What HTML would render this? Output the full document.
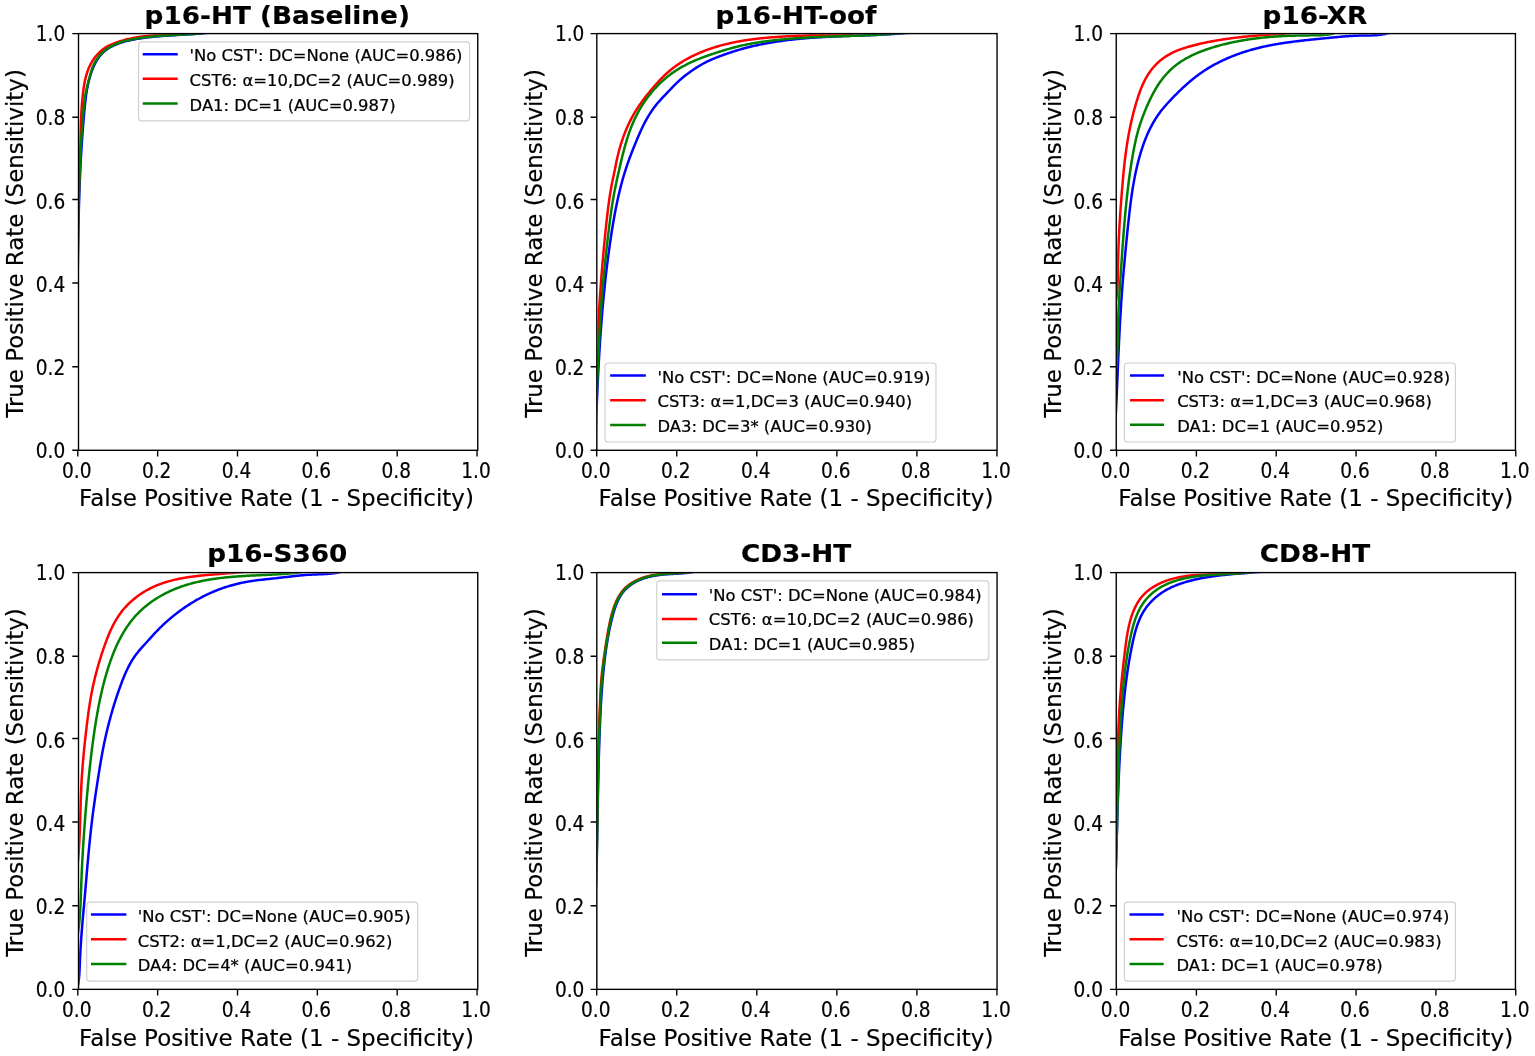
<!DOCTYPE html>
<html lang="en"><head><meta charset="utf-8"><title>ROC curves</title>
<style>
html,body{margin:0;padding:0;background:#fff;}
body{width:1535px;height:1056px;overflow:hidden;}
svg{display:block;}
text{font-family:"DejaVu Sans","Liberation Sans",sans-serif;fill:#000;stroke:#000;stroke-linejoin:round;}
.tk{font-size:18.55px;stroke-width:0.18;}
.lb{font-size:23px;stroke-width:0.18;}
.lby{font-size:22.92px;stroke-width:0.18;}
.tt{font-size:26.3px;font-weight:bold;stroke-width:0.2;}
.lg{font-size:16.4px;stroke-width:0.25;}
.sp{fill:none;stroke:#000;stroke-width:1.38;stroke-linecap:square;}
.tick{stroke:#000;stroke-width:1.38;fill:none;}
.cv{fill:none;stroke-width:2.5;stroke-linejoin:round;stroke-linecap:butt;}
.lh{fill:none;stroke-width:2.5;stroke-linecap:square;}
.lf{fill:#fff;fill-opacity:0.8;stroke:#ccc;stroke-opacity:0.95;stroke-width:1.15;}
</style></head>
<body>
<svg width="1535" height="1056" viewBox="0 0 1535 1056">
<rect x="0" y="0" width="1535" height="1056" fill="#ffffff"/>
<defs>
<clipPath id="c0"><rect x="79.14" y="34.24" width="398.61" height="416.06"/></clipPath>
<clipPath id="c1"><rect x="597.44" y="34.24" width="399.61" height="416.06"/></clipPath>
<clipPath id="c2"><rect x="1116.89" y="34.24" width="398.56" height="416.06"/></clipPath>
<clipPath id="c3"><rect x="79.14" y="573.24" width="398.61" height="416.11"/></clipPath>
<clipPath id="c4"><rect x="597.44" y="573.24" width="399.61" height="416.11"/></clipPath>
<clipPath id="c5"><rect x="1116.89" y="573.24" width="398.56" height="416.11"/></clipPath>
</defs>
<g id="panel1">
<g clip-path="url(#c0)">
<path class="cv" stroke="#0000ff" d="M77.55 450.3 L77.55 290 L77.56 288.99 L77.57 287.99 L77.58 286.98 L77.59 285.97 L77.61 284.97 L77.62 283.96 L77.63 282.96 L77.64 281.95 L77.65 280.95 L77.66 279.94 L77.67 278.94 L77.68 277.93 L77.7 276.93 L77.71 275.92 L77.72 274.92 L77.73 273.92 L77.74 272.91 L77.75 271.91 L77.77 270.91 L77.78 269.9 L77.79 268.9 L77.8 267.9 L77.81 266.9 L77.83 265.89 L77.84 264.89 L77.85 263.89 L77.86 262.89 L77.88 261.89 L77.89 260.88 L77.9 259.88 L77.91 258.88 L77.93 257.88 L77.94 256.88 L77.95 255.88 L77.97 254.88 L77.98 253.88 L78 252.88 L78.01 251.88 L78.03 250.88 L78.04 249.88 L78.05 248.88 L78.07 247.88 L78.08 246.88 L78.1 245.88 L78.12 244.88 L78.13 243.88 L78.15 242.89 L78.16 241.89 L78.18 240.89 L78.2 239.89 L78.21 238.89 L78.23 237.89 L78.25 236.89 L78.27 235.9 L78.28 234.9 L78.3 233.9 L78.32 232.9 L78.34 231.91 L78.36 230.91 L78.38 229.91 L78.4 228.91 L78.42 227.92 L78.44 226.92 L78.46 225.92 L78.48 224.92 L78.5 223.93 L78.52 222.93 L78.55 221.93 L78.57 220.94 L78.59 219.94 L78.61 218.94 L78.64 217.95 L78.66 216.95 L78.69 215.95 L78.71 214.96 L78.74 213.96 L78.76 212.96 L78.79 211.97 L78.81 210.97 L78.84 209.98 L78.87 208.98 L78.89 207.98 L78.92 206.99 L78.95 205.99 L78.98 205 L79.01 204 L79.04 203 L79.07 202.01 L79.1 201.01 L79.13 200.02 L79.16 199.02 L79.19 198.02 L79.22 197.03 L79.26 196.03 L79.29 195.04 L79.32 194.04 L79.36 193.04 L79.39 192.05 L79.43 191.05 L79.46 190.06 L79.5 189.06 L79.53 188.06 L79.57 187.07 L79.61 186.07 L79.65 185.08 L79.69 184.08 L79.73 183.08 L79.77 182.09 L79.81 181.09 L79.85 180.1 L79.89 179.1 L79.93 178.1 L79.97 177.11 L80.02 176.11 L80.06 175.11 L80.11 174.12 L80.15 173.12 L80.2 172.13 L80.24 171.13 L80.29 170.13 L80.34 169.14 L80.39 168.14 L80.44 167.14 L80.48 166.15 L80.53 165.15 L80.59 164.15 L80.64 163.15 L80.69 162.16 L80.74 161.16 L80.8 160.16 L80.85 159.16 L80.9 158.17 L80.96 157.17 L81.02 156.17 L81.07 155.17 L81.13 154.18 L81.19 153.18 L81.25 152.18 L81.31 151.18 L81.37 150.18 L81.43 149.19 L81.49 148.19 L81.55 147.19 L81.62 146.19 L81.68 145.19 L81.75 144.19 L81.81 143.19 L81.88 142.19 L81.95 141.19 L82.01 140.19 L82.08 139.19 L82.15 138.19 L82.22 137.19 L82.29 136.19 L82.36 135.19 L82.44 134.19 L82.51 133.19 L82.59 132.19 L82.66 131.19 L82.74 130.19 L82.81 129.19 L82.89 128.19 L82.97 127.19 L83.05 126.18 L83.13 125.18 L83.21 124.18 L83.29 123.18 L83.38 122.18 L83.46 121.17 L83.54 120.17 L83.63 119.17 L83.72 118.16 L83.8 117.16 L83.89 116.16 L83.98 115.15 L84.07 114.15 L84.16 113.15 L84.25 112.14 L84.35 111.14 L84.44 110.13 L84.53 109.13 L84.63 108.12 L84.73 107.12 L84.83 106.11 L84.93 105.11 L85.03 104.1 L85.14 103.1 L85.25 102.1 L85.36 101.09 L85.47 100.09 L85.59 99.09 L85.72 98.09 L85.84 97.09 L85.98 96.09 L86.11 95.1 L86.25 94.1 L86.4 93.11 L86.55 92.11 L86.71 91.12 L86.87 90.13 L87.04 89.15 L87.22 88.16 L87.4 87.18 L87.6 86.2 L87.79 85.22 L88 84.24 L88.21 83.27 L88.44 82.3 L88.67 81.33 L88.91 80.36 L89.16 79.4 L89.42 78.44 L89.68 77.48 L89.96 76.53 L90.25 75.58 L90.55 74.63 L90.86 73.69 L91.17 72.75 L91.51 71.81 L91.85 70.88 L92.2 69.95 L92.57 69.03 L92.95 68.11 L93.34 67.19 L93.74 66.28 L94.16 65.38 L94.59 64.48 L95.04 63.59 L95.5 62.71 L95.98 61.84 L96.47 60.98 L96.98 60.13 L97.5 59.29 L98.05 58.47 L98.61 57.66 L99.19 56.87 L99.79 56.09 L100.41 55.33 L101.04 54.59 L101.7 53.87 L102.38 53.16 L103.08 52.48 L103.8 51.82 L104.55 51.18 L105.31 50.56 L106.09 49.96 L106.89 49.39 L107.71 48.83 L108.54 48.29 L109.39 47.77 L110.26 47.27 L111.13 46.78 L112.02 46.32 L112.93 45.87 L113.84 45.43 L114.76 45.02 L115.69 44.62 L116.63 44.23 L117.58 43.86 L118.53 43.5 L119.49 43.16 L120.45 42.83 L121.42 42.52 L122.39 42.21 L123.36 41.92 L124.33 41.64 L125.31 41.37 L126.28 41.12 L127.26 40.87 L128.23 40.63 L129.21 40.41 L130.19 40.19 L131.17 39.98 L132.16 39.78 L133.14 39.59 L134.12 39.4 L135.11 39.22 L136.09 39.05 L137.08 38.89 L138.07 38.73 L139.06 38.57 L140.04 38.42 L141.03 38.28 L142.02 38.14 L143.01 38 L144 37.87 L144.99 37.74 L145.98 37.61 L146.97 37.49 L147.96 37.37 L148.95 37.25 L149.94 37.14 L150.94 37.03 L151.93 36.93 L152.92 36.83 L153.91 36.73 L154.91 36.63 L155.9 36.54 L156.89 36.44 L157.89 36.36 L158.88 36.27 L159.88 36.19 L160.87 36.1 L161.87 36.02 L162.86 35.95 L163.86 35.87 L164.85 35.8 L165.85 35.72 L166.84 35.65 L167.84 35.58 L168.84 35.52 L169.83 35.45 L170.83 35.38 L171.83 35.32 L172.82 35.26 L173.82 35.19 L174.82 35.13 L175.81 35.07 L176.81 35.01 L177.81 34.95 L178.81 34.89 L179.8 34.83 L180.8 34.77 L181.8 34.71 L182.8 34.66 L183.8 34.6 L184.79 34.54 L185.79 34.48 L186.79 34.42 L187.79 34.36 L188.79 34.29 L189.78 34.23 L190.78 34.17 L191.78 34.11 L192.78 34.04 L193.77 33.98 L194.77 33.91 L195.77 33.84 L196.77 33.77 L197.77 33.7 L198.76 33.62 L199.76 33.55 L200.76 33.47 L201.76 33.39 L202.75 33.31 L203.75 33.23 L204.75 33.14 L205.74 33.06 L206.74 32.97 L207.74 32.87 L208.73 32.78 L209.73 32.68 L477.75 32.65"/>
<path class="cv" stroke="#ff0000" d="M77.55 450.3 L77.55 250 L77.55 249 L77.56 247.99 L77.56 246.99 L77.57 245.99 L77.58 244.98 L77.58 243.98 L77.59 242.98 L77.6 241.97 L77.61 240.97 L77.62 239.97 L77.63 238.97 L77.65 237.97 L77.66 236.96 L77.67 235.96 L77.69 234.96 L77.7 233.96 L77.72 232.96 L77.73 231.95 L77.75 230.95 L77.77 229.95 L77.79 228.95 L77.81 227.95 L77.83 226.95 L77.85 225.95 L77.87 224.95 L77.89 223.95 L77.91 222.95 L77.93 221.95 L77.96 220.95 L77.98 219.95 L78.01 218.95 L78.03 217.95 L78.06 216.95 L78.08 215.95 L78.11 214.95 L78.13 213.95 L78.16 212.95 L78.19 211.95 L78.22 210.95 L78.24 209.95 L78.27 208.95 L78.3 207.95 L78.33 206.95 L78.36 205.96 L78.39 204.96 L78.42 203.96 L78.45 202.96 L78.48 201.96 L78.52 200.96 L78.55 199.96 L78.58 198.97 L78.61 197.97 L78.64 196.97 L78.68 195.97 L78.71 194.97 L78.74 193.98 L78.77 192.98 L78.81 191.98 L78.84 190.98 L78.88 189.98 L78.91 188.99 L78.94 187.99 L78.98 186.99 L79.01 185.99 L79.04 184.99 L79.08 184 L79.11 183 L79.15 182 L79.18 181 L79.22 180.01 L79.25 179.01 L79.29 178.01 L79.32 177.01 L79.35 176.02 L79.39 175.02 L79.42 174.02 L79.46 173.02 L79.49 172.03 L79.52 171.03 L79.56 170.03 L79.59 169.03 L79.63 168.04 L79.66 167.04 L79.69 166.04 L79.73 165.04 L79.76 164.05 L79.79 163.05 L79.82 162.05 L79.86 161.05 L79.89 160.05 L79.92 159.06 L79.95 158.06 L79.98 157.06 L80.02 156.06 L80.05 155.07 L80.08 154.07 L80.11 153.07 L80.14 152.07 L80.17 151.08 L80.2 150.08 L80.22 149.08 L80.25 148.08 L80.28 147.08 L80.31 146.09 L80.34 145.09 L80.36 144.09 L80.39 143.09 L80.41 142.09 L80.44 141.09 L80.47 140.1 L80.49 139.1 L80.51 138.1 L80.54 137.1 L80.56 136.1 L80.59 135.1 L80.61 134.1 L80.64 133.11 L80.67 132.11 L80.69 131.11 L80.72 130.11 L80.75 129.11 L80.78 128.11 L80.81 127.11 L80.84 126.11 L80.87 125.11 L80.9 124.11 L80.94 123.11 L80.97 122.11 L81.01 121.11 L81.05 120.11 L81.09 119.11 L81.13 118.11 L81.17 117.11 L81.22 116.11 L81.27 115.11 L81.32 114.11 L81.37 113.11 L81.42 112.11 L81.48 111.11 L81.54 110.11 L81.6 109.11 L81.67 108.11 L81.73 107.1 L81.8 106.1 L81.88 105.1 L81.95 104.1 L82.03 103.1 L82.12 102.1 L82.2 101.09 L82.29 100.09 L82.39 99.09 L82.48 98.09 L82.58 97.08 L82.69 96.08 L82.8 95.08 L82.91 94.07 L83.03 93.07 L83.15 92.07 L83.27 91.06 L83.4 90.06 L83.54 89.06 L83.68 88.06 L83.83 87.06 L83.99 86.06 L84.15 85.07 L84.32 84.07 L84.5 83.08 L84.69 82.09 L84.89 81.11 L85.1 80.13 L85.32 79.15 L85.54 78.18 L85.78 77.21 L86.04 76.24 L86.3 75.28 L86.58 74.33 L86.87 73.38 L87.17 72.44 L87.49 71.5 L87.82 70.57 L88.16 69.65 L88.53 68.73 L88.9 67.82 L89.3 66.92 L89.71 66.03 L90.14 65.14 L90.58 64.27 L91.04 63.4 L91.52 62.54 L92.02 61.69 L92.54 60.85 L93.07 60.03 L93.63 59.21 L94.2 58.4 L94.79 57.6 L95.4 56.82 L96.03 56.05 L96.68 55.28 L97.35 54.53 L98.03 53.8 L98.73 53.08 L99.45 52.37 L100.18 51.68 L100.93 51.01 L101.7 50.35 L102.48 49.72 L103.27 49.11 L104.08 48.52 L104.9 47.95 L105.73 47.42 L106.58 46.9 L107.43 46.42 L108.3 45.95 L109.17 45.51 L110.06 45.09 L110.95 44.69 L111.85 44.3 L112.76 43.92 L113.68 43.55 L114.6 43.19 L115.53 42.84 L116.47 42.5 L117.41 42.17 L118.35 41.84 L119.31 41.53 L120.26 41.22 L121.23 40.93 L122.19 40.64 L123.16 40.36 L124.14 40.08 L125.11 39.82 L126.09 39.57 L127.08 39.32 L128.06 39.08 L129.05 38.85 L130.04 38.63 L131.03 38.41 L132.02 38.21 L133.02 38.01 L134.01 37.82 L135 37.63 L136 37.46 L136.99 37.29 L137.98 37.13 L138.98 36.97 L139.97 36.83 L140.96 36.69 L141.96 36.55 L142.95 36.42 L143.94 36.3 L144.93 36.18 L145.92 36.07 L146.91 35.96 L147.9 35.86 L148.9 35.76 L149.89 35.66 L150.88 35.57 L151.87 35.48 L152.86 35.4 L153.85 35.32 L154.84 35.24 L155.83 35.16 L156.82 35.09 L157.81 35.01 L158.8 34.94 L159.79 34.87 L160.79 34.8 L161.78 34.73 L162.77 34.66 L163.76 34.59 L164.75 34.53 L165.74 34.46 L166.74 34.39 L167.73 34.32 L168.72 34.25 L169.72 34.17 L170.71 34.1 L171.7 34.02 L172.7 33.94 L173.69 33.86 L174.69 33.77 L175.68 33.68 L176.68 33.59 L177.67 33.5 L178.67 33.4 L179.67 33.29 L180.67 33.19 L181.67 33.07 L182.66 32.95 L183.66 32.83 L184.66 32.7 L477.75 32.65"/>
<path class="cv" stroke="#008000" d="M77.55 450.3 L77.55 270 L77.57 269 L77.59 267.99 L77.6 266.99 L77.62 265.99 L77.64 264.98 L77.66 263.98 L77.68 262.98 L77.69 261.97 L77.71 260.97 L77.73 259.97 L77.75 258.97 L77.76 257.96 L77.78 256.96 L77.8 255.96 L77.81 254.96 L77.83 253.96 L77.85 252.95 L77.86 251.95 L77.88 250.95 L77.89 249.95 L77.91 248.95 L77.93 247.95 L77.94 246.95 L77.96 245.94 L77.97 244.94 L77.99 243.94 L78.01 242.94 L78.02 241.94 L78.04 240.94 L78.06 239.94 L78.07 238.94 L78.09 237.94 L78.1 236.94 L78.12 235.94 L78.14 234.94 L78.15 233.94 L78.17 232.94 L78.19 231.94 L78.2 230.94 L78.22 229.95 L78.24 228.95 L78.25 227.95 L78.27 226.95 L78.29 225.95 L78.31 224.95 L78.33 223.95 L78.34 222.95 L78.36 221.95 L78.38 220.96 L78.4 219.96 L78.42 218.96 L78.44 217.96 L78.45 216.96 L78.47 215.96 L78.49 214.97 L78.51 213.97 L78.53 212.97 L78.55 211.97 L78.57 210.97 L78.6 209.98 L78.62 208.98 L78.64 207.98 L78.66 206.98 L78.68 205.99 L78.7 204.99 L78.73 203.99 L78.75 202.99 L78.77 201.99 L78.8 201 L78.82 200 L78.85 199 L78.87 198 L78.9 197.01 L78.92 196.01 L78.95 195.01 L78.97 194.02 L79 193.02 L79.03 192.02 L79.06 191.02 L79.09 190.03 L79.11 189.03 L79.14 188.03 L79.17 187.03 L79.2 186.04 L79.23 185.04 L79.26 184.04 L79.3 183.05 L79.33 182.05 L79.36 181.05 L79.39 180.05 L79.43 179.06 L79.46 178.06 L79.5 177.06 L79.53 176.06 L79.57 175.07 L79.6 174.07 L79.64 173.07 L79.68 172.08 L79.72 171.08 L79.76 170.08 L79.8 169.08 L79.84 168.09 L79.88 167.09 L79.92 166.09 L79.96 165.09 L80 164.1 L80.05 163.1 L80.09 162.1 L80.13 161.1 L80.18 160.11 L80.23 159.11 L80.27 158.11 L80.32 157.11 L80.37 156.11 L80.42 155.12 L80.47 154.12 L80.52 153.12 L80.57 152.12 L80.62 151.12 L80.67 150.13 L80.73 149.13 L80.78 148.13 L80.84 147.13 L80.89 146.13 L80.95 145.13 L81.01 144.14 L81.07 143.14 L81.13 142.14 L81.19 141.14 L81.25 140.14 L81.31 139.14 L81.37 138.14 L81.44 137.14 L81.5 136.15 L81.57 135.15 L81.63 134.15 L81.7 133.15 L81.77 132.15 L81.84 131.15 L81.91 130.15 L81.98 129.15 L82.05 128.15 L82.12 127.15 L82.2 126.15 L82.27 125.15 L82.35 124.15 L82.43 123.15 L82.5 122.15 L82.58 121.15 L82.66 120.15 L82.74 119.14 L82.83 118.14 L82.91 117.14 L82.99 116.14 L83.08 115.14 L83.16 114.14 L83.25 113.14 L83.34 112.14 L83.43 111.13 L83.52 110.13 L83.61 109.13 L83.71 108.13 L83.8 107.13 L83.9 106.12 L84 105.12 L84.11 104.12 L84.22 103.12 L84.33 102.12 L84.46 101.12 L84.58 100.12 L84.72 99.12 L84.86 98.13 L85 97.13 L85.16 96.13 L85.33 95.14 L85.5 94.15 L85.68 93.16 L85.88 92.17 L86.08 91.18 L86.3 90.19 L86.52 89.21 L86.75 88.22 L86.99 87.24 L87.23 86.26 L87.47 85.29 L87.73 84.31 L87.98 83.34 L88.24 82.37 L88.5 81.4 L88.77 80.44 L89.03 79.48 L89.29 78.52 L89.56 77.56 L89.82 76.61 L90.08 75.66 L90.33 74.71 L90.59 73.77 L90.84 72.83 L91.1 71.89 L91.37 70.95 L91.65 70.02 L91.95 69.1 L92.27 68.18 L92.61 67.26 L92.98 66.34 L93.38 65.44 L93.8 64.53 L94.24 63.64 L94.71 62.75 L95.2 61.88 L95.72 61.01 L96.25 60.16 L96.81 59.31 L97.38 58.48 L97.98 57.67 L98.59 56.87 L99.23 56.08 L99.88 55.31 L100.55 54.56 L101.24 53.83 L101.94 53.12 L102.65 52.42 L103.39 51.75 L104.13 51.1 L104.89 50.47 L105.67 49.87 L106.46 49.28 L107.26 48.71 L108.07 48.17 L108.9 47.64 L109.73 47.13 L110.58 46.63 L111.44 46.16 L112.31 45.7 L113.19 45.26 L114.08 44.84 L114.98 44.43 L115.88 44.04 L116.8 43.66 L117.73 43.3 L118.66 42.95 L119.6 42.62 L120.54 42.3 L121.5 41.99 L122.46 41.69 L123.42 41.41 L124.39 41.14 L125.37 40.88 L126.35 40.63 L127.33 40.39 L128.32 40.16 L129.32 39.94 L130.31 39.72 L131.31 39.52 L132.31 39.33 L133.31 39.14 L134.32 38.96 L135.32 38.79 L136.33 38.62 L137.33 38.46 L138.34 38.3 L139.35 38.15 L140.35 38.01 L141.36 37.86 L142.36 37.73 L143.36 37.59 L144.36 37.46 L145.36 37.34 L146.36 37.21 L147.36 37.09 L148.36 36.98 L149.35 36.87 L150.35 36.76 L151.34 36.65 L152.33 36.55 L153.33 36.45 L154.32 36.36 L155.31 36.27 L156.3 36.18 L157.29 36.09 L158.28 36.01 L159.27 35.92 L160.26 35.84 L161.25 35.77 L162.24 35.69 L163.23 35.62 L164.21 35.55 L165.2 35.49 L166.19 35.42 L167.17 35.36 L168.16 35.3 L169.15 35.24 L170.14 35.18 L171.12 35.13 L172.11 35.07 L173.1 35.02 L174.08 34.97 L175.07 34.92 L176.06 34.87 L177.04 34.82 L178.03 34.78 L179.02 34.73 L180.01 34.69 L181 34.65 L181.99 34.61 L182.98 34.56 L183.97 34.52 L184.96 34.48 L185.95 34.44 L186.94 34.4 L187.94 34.35 L188.93 34.3 L189.93 34.25 L190.92 34.19 L191.92 34.13 L192.91 34.07 L193.91 33.99 L194.91 33.92 L195.91 33.83 L196.91 33.74 L197.92 33.64 L198.92 33.53 L199.92 33.41 L200.93 33.28 L201.94 33.15 L202.95 33 L203.95 32.83 L204.97 32.66 L477.75 32.65"/>
</g>
<path class="tick" d="M77.8 450.3 v6.2 M78.5 450.3 h-6.2 M157.65 450.3 v6.2 M78.5 366.76 h-6.2 M237.5 450.3 v6.2 M78.5 282.97 h-6.2 M317.35 450.3 v6.2 M78.5 199.48 h-6.2 M397.2 450.3 v6.2 M78.5 117.19 h-6.2 M477.05 450.3 v6.2 M78.5 33.6 h-6.2"/>
<rect class="sp" x="78.5" y="33.6" width="399.25" height="416.7"/>
<text class="tk" text-anchor="middle" transform="matrix(1 0 0 1.13 76.8 477.7)">0.0</text>
<text class="tk" text-anchor="end" transform="matrix(1 0 0 1.13 65.3 458)">0.0</text>
<text class="tk" text-anchor="middle" transform="matrix(1 0 0 1.13 156.65 477.7)">0.2</text>
<text class="tk" text-anchor="end" transform="matrix(1 0 0 1.13 65.3 375)">0.2</text>
<text class="tk" text-anchor="middle" transform="matrix(1 0 0 1.13 236.5 477.7)">0.4</text>
<text class="tk" text-anchor="end" transform="matrix(1 0 0 1.13 65.3 292)">0.4</text>
<text class="tk" text-anchor="middle" transform="matrix(1 0 0 1.13 316.35 477.7)">0.6</text>
<text class="tk" text-anchor="end" transform="matrix(1 0 0 1.13 65.3 209)">0.6</text>
<text class="tk" text-anchor="middle" transform="matrix(1 0 0 1.13 396.2 477.7)">0.8</text>
<text class="tk" text-anchor="end" transform="matrix(1 0 0 1.13 65.3 125)">0.8</text>
<text class="tk" text-anchor="middle" transform="matrix(1 0 0 1.13 476.05 477.7)">1.0</text>
<text class="tk" text-anchor="end" transform="matrix(1 0 0 1.13 65.3 41.4)">1.0</text>
<text class="tt" text-anchor="middle" transform="matrix(1 0 0 0.936 277.23 24.1)">p16-HT (Baseline)</text>
<text class="lb" text-anchor="middle" transform="matrix(1 0 0 0.97 276.52 506.35)">False Positive Rate (1 - Specificity)</text>
<text class="lby" text-anchor="middle" transform="matrix(0 -1 0.98 0 22.5 243.45)">True Positive Rate (Sensitivity)</text>
<g id="legend1">
<rect class="lf" x="138.55" y="41.9" width="331" height="79" rx="3.3" ry="3.3"/>
<path class="lh" stroke="#0000ff" d="M143.95 54.2 H176.45"/>
<text class="lg" transform="matrix(1 0 0 0.96 189.55 61.35)">'No CST': DC=None (AUC=0.986)</text>
<path class="lh" stroke="#ff0000" d="M143.95 78.85 H176.45"/>
<text class="lg" transform="matrix(1 0 0 0.96 189.55 86)">CST6: α=10,DC=2 (AUC=0.989)</text>
<path class="lh" stroke="#008000" d="M143.95 103.5 H176.45"/>
<text class="lg" transform="matrix(1 0 0 0.96 189.55 110.65)">DA1: DC=1 (AUC=0.987)</text>
</g>
</g>
<g id="panel2">
<g clip-path="url(#c1)">
<path class="cv" stroke="#0000ff" d="M595.85 450.3 L595.85 430 L595.89 429 L595.92 428 L595.96 427 L595.99 426 L596.03 425 L596.06 424 L596.1 423 L596.14 422 L596.17 421 L596.21 420 L596.24 419 L596.28 418 L596.32 417 L596.36 416 L596.39 415 L596.43 414 L596.47 413 L596.51 412 L596.54 411 L596.58 410 L596.62 409 L596.66 408 L596.7 407 L596.74 406 L596.78 405 L596.82 404 L596.86 403 L596.9 402 L596.94 401 L596.98 400 L597.02 399 L597.06 398 L597.11 397 L597.15 396 L597.19 395 L597.23 394 L597.28 393 L597.32 392 L597.36 391 L597.41 390.01 L597.45 389.01 L597.5 388.01 L597.54 387.01 L597.59 386.01 L597.64 385.01 L597.68 384.01 L597.73 383.01 L597.78 382.01 L597.82 381.01 L597.87 380.01 L597.92 379.02 L597.97 378.02 L598.02 377.02 L598.07 376.02 L598.11 375.02 L598.16 374.02 L598.22 373.02 L598.27 372.02 L598.32 371.03 L598.37 370.03 L598.42 369.03 L598.47 368.03 L598.53 367.03 L598.58 366.03 L598.63 365.03 L598.69 364.04 L598.74 363.04 L598.8 362.04 L598.86 361.04 L598.91 360.04 L598.97 359.05 L599.03 358.05 L599.08 357.05 L599.14 356.05 L599.2 355.05 L599.26 354.06 L599.32 353.06 L599.38 352.06 L599.44 351.06 L599.5 350.07 L599.56 349.07 L599.62 348.07 L599.69 347.07 L599.75 346.08 L599.81 345.08 L599.88 344.08 L599.94 343.08 L600.01 342.09 L600.07 341.09 L600.14 340.09 L600.21 339.1 L600.28 338.1 L600.34 337.1 L600.41 336.1 L600.48 335.11 L600.55 334.11 L600.62 333.11 L600.69 332.12 L600.77 331.12 L600.84 330.12 L600.91 329.13 L600.98 328.13 L601.06 327.13 L601.13 326.14 L601.21 325.14 L601.28 324.15 L601.36 323.15 L601.44 322.15 L601.52 321.16 L601.6 320.16 L601.67 319.17 L601.75 318.17 L601.83 317.17 L601.92 316.18 L602 315.18 L602.08 314.19 L602.16 313.19 L602.25 312.2 L602.33 311.2 L602.42 310.2 L602.5 309.21 L602.59 308.21 L602.68 307.22 L602.77 306.22 L602.86 305.23 L602.94 304.23 L603.04 303.24 L603.13 302.24 L603.22 301.25 L603.31 300.25 L603.4 299.26 L603.5 298.26 L603.59 297.27 L603.69 296.28 L603.78 295.28 L603.88 294.29 L603.98 293.29 L604.08 292.3 L604.18 291.3 L604.28 290.31 L604.38 289.32 L604.48 288.32 L604.58 287.33 L604.69 286.33 L604.79 285.34 L604.9 284.35 L605 283.35 L605.11 282.36 L605.22 281.37 L605.32 280.37 L605.43 279.38 L605.54 278.39 L605.65 277.39 L605.77 276.4 L605.88 275.41 L605.99 274.41 L606.11 273.42 L606.22 272.43 L606.34 271.44 L606.45 270.44 L606.57 269.45 L606.69 268.46 L606.81 267.47 L606.93 266.47 L607.05 265.48 L607.17 264.49 L607.3 263.5 L607.42 262.5 L607.55 261.51 L607.67 260.52 L607.8 259.53 L607.93 258.54 L608.05 257.55 L608.18 256.55 L608.31 255.56 L608.45 254.57 L608.58 253.58 L608.71 252.59 L608.85 251.6 L608.98 250.61 L609.12 249.61 L609.26 248.62 L609.39 247.63 L609.53 246.64 L609.67 245.65 L609.81 244.66 L609.96 243.67 L610.1 242.68 L610.24 241.69 L610.39 240.7 L610.54 239.71 L610.68 238.72 L610.83 237.73 L610.98 236.74 L611.13 235.75 L611.28 234.76 L611.43 233.77 L611.59 232.78 L611.74 231.79 L611.9 230.8 L612.06 229.81 L612.21 228.82 L612.37 227.83 L612.53 226.85 L612.7 225.86 L612.86 224.87 L613.02 223.88 L613.19 222.89 L613.36 221.91 L613.53 220.92 L613.7 219.93 L613.87 218.94 L614.04 217.96 L614.22 216.97 L614.4 215.99 L614.58 215 L614.76 214.02 L614.94 213.03 L615.13 212.05 L615.31 211.06 L615.5 210.08 L615.69 209.1 L615.88 208.11 L616.08 207.13 L616.28 206.15 L616.48 205.17 L616.68 204.19 L616.88 203.21 L617.09 202.23 L617.29 201.25 L617.5 200.27 L617.72 199.29 L617.93 198.31 L618.15 197.34 L618.37 196.36 L618.59 195.39 L618.82 194.41 L619.05 193.44 L619.28 192.46 L619.51 191.49 L619.75 190.52 L619.99 189.55 L620.23 188.58 L620.47 187.61 L620.72 186.64 L620.97 185.67 L621.22 184.7 L621.48 183.73 L621.74 182.77 L622 181.8 L622.27 180.84 L622.54 179.88 L622.81 178.91 L623.09 177.95 L623.36 176.99 L623.65 176.03 L623.93 175.07 L624.22 174.11 L624.51 173.16 L624.81 172.2 L625.11 171.25 L625.41 170.29 L625.72 169.34 L626.03 168.39 L626.34 167.44 L626.66 166.49 L626.98 165.54 L627.3 164.59 L627.63 163.64 L627.96 162.7 L628.29 161.75 L628.63 160.81 L628.97 159.87 L629.31 158.93 L629.66 157.99 L630 157.05 L630.35 156.11 L630.71 155.18 L631.06 154.24 L631.42 153.31 L631.78 152.37 L632.14 151.44 L632.5 150.51 L632.87 149.59 L633.24 148.66 L633.61 147.73 L633.98 146.81 L634.35 145.89 L634.73 144.96 L635.11 144.04 L635.48 143.13 L635.86 142.21 L636.25 141.29 L636.63 140.38 L637.01 139.47 L637.4 138.55 L637.78 137.64 L638.17 136.74 L638.56 135.83 L638.95 134.92 L639.35 134.02 L639.75 133.12 L640.15 132.22 L640.55 131.32 L640.96 130.42 L641.37 129.53 L641.78 128.63 L642.2 127.74 L642.63 126.85 L643.06 125.96 L643.5 125.07 L643.94 124.19 L644.39 123.3 L644.85 122.42 L645.31 121.54 L645.78 120.66 L646.26 119.78 L646.75 118.91 L647.25 118.04 L647.75 117.17 L648.27 116.3 L648.79 115.43 L649.32 114.56 L649.87 113.7 L650.42 112.84 L650.98 111.99 L651.55 111.14 L652.13 110.29 L652.71 109.45 L653.31 108.62 L653.91 107.8 L654.52 106.98 L655.14 106.18 L655.76 105.38 L656.39 104.59 L657.02 103.82 L657.67 103.05 L658.31 102.3 L658.97 101.55 L659.63 100.81 L660.29 100.08 L660.95 99.35 L661.62 98.63 L662.3 97.91 L662.97 97.19 L663.65 96.48 L664.33 95.77 L665.01 95.05 L665.69 94.34 L666.38 93.62 L667.06 92.9 L667.74 92.18 L668.43 91.46 L669.11 90.74 L669.8 90.01 L670.49 89.29 L671.18 88.57 L671.87 87.85 L672.57 87.13 L673.27 86.41 L673.97 85.7 L674.68 84.99 L675.38 84.28 L676.1 83.58 L676.81 82.88 L677.54 82.19 L678.26 81.51 L678.99 80.83 L679.73 80.16 L680.47 79.5 L681.22 78.84 L681.97 78.2 L682.73 77.56 L683.5 76.93 L684.27 76.31 L685.05 75.69 L685.83 75.09 L686.62 74.48 L687.41 73.89 L688.21 73.3 L689.01 72.71 L689.82 72.13 L690.64 71.55 L691.46 70.98 L692.28 70.41 L693.11 69.84 L693.94 69.28 L694.78 68.72 L695.63 68.17 L696.47 67.62 L697.32 67.08 L698.18 66.55 L699.04 66.02 L699.9 65.5 L700.77 64.99 L701.64 64.49 L702.52 63.99 L703.4 63.51 L704.28 63.03 L705.17 62.57 L706.06 62.12 L706.95 61.67 L707.85 61.24 L708.75 60.82 L709.65 60.4 L710.56 59.99 L711.47 59.6 L712.38 59.21 L713.29 58.82 L714.21 58.44 L715.13 58.07 L716.05 57.7 L716.98 57.34 L717.9 56.98 L718.83 56.62 L719.76 56.27 L720.7 55.92 L721.63 55.57 L722.57 55.22 L723.51 54.88 L724.45 54.54 L725.39 54.2 L726.33 53.87 L727.28 53.54 L728.22 53.21 L729.17 52.88 L730.12 52.57 L731.07 52.25 L732.02 51.94 L732.97 51.63 L733.92 51.33 L734.88 51.03 L735.83 50.74 L736.79 50.45 L737.75 50.16 L738.7 49.88 L739.66 49.6 L740.62 49.33 L741.58 49.05 L742.55 48.79 L743.51 48.52 L744.47 48.26 L745.44 48.01 L746.4 47.76 L747.37 47.51 L748.34 47.26 L749.31 47.02 L750.28 46.78 L751.25 46.55 L752.22 46.32 L753.19 46.09 L754.16 45.87 L755.14 45.65 L756.11 45.43 L757.09 45.22 L758.06 45.01 L759.04 44.8 L760.02 44.6 L761 44.4 L761.97 44.2 L762.95 44.01 L763.93 43.82 L764.92 43.63 L765.9 43.44 L766.88 43.26 L767.86 43.09 L768.85 42.91 L769.83 42.74 L770.82 42.57 L771.8 42.4 L772.79 42.24 L773.77 42.08 L774.76 41.92 L775.75 41.76 L776.74 41.61 L777.73 41.46 L778.72 41.31 L779.71 41.17 L780.7 41.03 L781.69 40.89 L782.68 40.75 L783.67 40.62 L784.66 40.49 L785.65 40.36 L786.65 40.23 L787.64 40.11 L788.64 39.99 L789.63 39.87 L790.62 39.75 L791.62 39.64 L792.61 39.52 L793.61 39.41 L794.61 39.31 L795.6 39.2 L796.6 39.1 L797.6 39 L798.59 38.9 L799.59 38.8 L800.59 38.71 L801.58 38.61 L802.58 38.52 L803.58 38.43 L804.58 38.34 L805.58 38.26 L806.58 38.18 L807.58 38.09 L808.57 38.01 L809.57 37.94 L810.57 37.86 L811.57 37.79 L812.57 37.71 L813.57 37.64 L814.57 37.57 L815.57 37.5 L816.57 37.44 L817.57 37.37 L818.57 37.31 L819.57 37.25 L820.57 37.19 L821.57 37.13 L822.57 37.07 L823.57 37.01 L824.57 36.96 L825.57 36.91 L826.57 36.85 L827.57 36.8 L828.56 36.75 L829.56 36.7 L830.56 36.65 L831.56 36.61 L832.56 36.56 L833.56 36.52 L834.56 36.47 L835.56 36.43 L836.56 36.39 L837.56 36.35 L838.55 36.3 L839.55 36.26 L840.55 36.23 L841.55 36.19 L842.55 36.15 L843.55 36.11 L844.55 36.07 L845.54 36.04 L846.54 36 L847.54 35.96 L848.54 35.93 L849.54 35.89 L850.54 35.86 L851.53 35.82 L852.53 35.79 L853.53 35.75 L854.53 35.72 L855.53 35.68 L856.52 35.65 L857.52 35.62 L858.52 35.58 L859.52 35.55 L860.52 35.51 L861.51 35.48 L862.51 35.44 L863.51 35.4 L864.51 35.37 L865.5 35.33 L866.5 35.3 L867.5 35.26 L868.5 35.22 L869.49 35.18 L870.49 35.14 L871.49 35.1 L872.49 35.06 L873.49 35.02 L874.48 34.98 L875.48 34.94 L876.48 34.89 L877.48 34.85 L878.47 34.8 L879.47 34.76 L880.47 34.71 L881.47 34.66 L882.46 34.61 L883.46 34.56 L884.46 34.51 L885.46 34.46 L886.45 34.4 L887.45 34.35 L888.45 34.29 L889.45 34.23 L890.44 34.17 L891.44 34.11 L892.44 34.05 L893.44 33.99 L894.43 33.92 L895.43 33.85 L896.43 33.78 L897.43 33.71 L898.42 33.64 L899.42 33.57 L900.42 33.49 L901.42 33.41 L902.42 33.33 L903.41 33.25 L904.41 33.17 L905.41 33.08 L906.41 32.99 L907.4 32.9 L908.4 32.81 L909.4 32.71 L910.4 32.65 L997.05 32.65"/>
<path class="cv" stroke="#ff0000" d="M595.85 450.3 L595.85 385 L595.88 384 L595.91 383 L595.94 382 L595.97 381 L596 380 L596.03 379.01 L596.06 378.01 L596.09 377.01 L596.12 376.01 L596.15 375.01 L596.18 374.01 L596.22 373.01 L596.25 372.01 L596.28 371.01 L596.31 370.01 L596.35 369.02 L596.38 368.02 L596.42 367.02 L596.45 366.02 L596.49 365.02 L596.53 364.02 L596.56 363.02 L596.6 362.02 L596.64 361.02 L596.67 360.02 L596.71 359.02 L596.75 358.02 L596.79 357.03 L596.83 356.03 L596.87 355.03 L596.91 354.03 L596.95 353.03 L596.99 352.03 L597.03 351.03 L597.07 350.03 L597.12 349.03 L597.16 348.03 L597.2 347.03 L597.25 346.04 L597.29 345.04 L597.34 344.04 L597.38 343.04 L597.43 342.04 L597.47 341.04 L597.52 340.04 L597.57 339.04 L597.61 338.04 L597.66 337.04 L597.71 336.05 L597.76 335.05 L597.81 334.05 L597.86 333.05 L597.91 332.05 L597.96 331.05 L598.01 330.05 L598.06 329.05 L598.11 328.05 L598.16 327.06 L598.21 326.06 L598.27 325.06 L598.32 324.06 L598.37 323.06 L598.43 322.06 L598.48 321.06 L598.54 320.06 L598.6 319.07 L598.65 318.07 L598.71 317.07 L598.77 316.07 L598.82 315.07 L598.88 314.07 L598.94 313.07 L599 312.08 L599.06 311.08 L599.12 310.08 L599.18 309.08 L599.24 308.08 L599.3 307.08 L599.37 306.09 L599.43 305.09 L599.49 304.09 L599.55 303.09 L599.62 302.09 L599.68 301.1 L599.75 300.1 L599.81 299.1 L599.88 298.1 L599.95 297.1 L600.01 296.11 L600.08 295.11 L600.15 294.11 L600.22 293.11 L600.29 292.12 L600.36 291.12 L600.43 290.12 L600.5 289.12 L600.57 288.13 L600.64 287.13 L600.71 286.13 L600.78 285.13 L600.86 284.14 L600.93 283.14 L601 282.14 L601.08 281.15 L601.15 280.15 L601.23 279.15 L601.31 278.15 L601.38 277.16 L601.46 276.16 L601.54 275.16 L601.62 274.17 L601.69 273.17 L601.77 272.17 L601.85 271.18 L601.93 270.18 L602.01 269.18 L602.1 268.19 L602.18 267.19 L602.26 266.2 L602.34 265.2 L602.43 264.2 L602.51 263.21 L602.6 262.21 L602.68 261.22 L602.77 260.22 L602.85 259.22 L602.94 258.23 L603.03 257.23 L603.12 256.24 L603.2 255.24 L603.29 254.25 L603.38 253.25 L603.47 252.26 L603.56 251.26 L603.66 250.27 L603.75 249.27 L603.84 248.28 L603.93 247.28 L604.03 246.29 L604.12 245.29 L604.21 244.3 L604.31 243.3 L604.41 242.31 L604.5 241.31 L604.6 240.32 L604.7 239.33 L604.79 238.33 L604.89 237.34 L604.99 236.34 L605.09 235.35 L605.19 234.36 L605.29 233.36 L605.4 232.37 L605.5 231.37 L605.6 230.38 L605.7 229.39 L605.81 228.39 L605.91 227.4 L606.02 226.41 L606.12 225.42 L606.23 224.42 L606.34 223.43 L606.44 222.44 L606.55 221.44 L606.66 220.45 L606.77 219.46 L606.88 218.47 L606.99 217.48 L607.1 216.48 L607.22 215.49 L607.33 214.5 L607.45 213.51 L607.57 212.52 L607.68 211.53 L607.8 210.53 L607.93 209.54 L608.05 208.55 L608.18 207.56 L608.3 206.57 L608.43 205.58 L608.56 204.59 L608.69 203.6 L608.83 202.61 L608.97 201.62 L609.11 200.63 L609.25 199.65 L609.39 198.66 L609.54 197.67 L609.69 196.68 L609.84 195.69 L609.99 194.71 L610.15 193.72 L610.31 192.73 L610.47 191.74 L610.64 190.76 L610.81 189.77 L610.98 188.79 L611.16 187.8 L611.33 186.82 L611.52 185.83 L611.7 184.85 L611.89 183.86 L612.08 182.88 L612.28 181.9 L612.48 180.91 L612.68 179.93 L612.89 178.95 L613.1 177.97 L613.31 176.98 L613.52 176 L613.74 175.02 L613.95 174.04 L614.16 173.06 L614.36 172.08 L614.57 171.1 L614.77 170.13 L614.96 169.15 L615.15 168.17 L615.34 167.19 L615.53 166.22 L615.72 165.24 L615.91 164.26 L616.1 163.29 L616.3 162.31 L616.5 161.34 L616.71 160.37 L616.92 159.39 L617.14 158.42 L617.36 157.45 L617.59 156.48 L617.82 155.51 L618.06 154.54 L618.3 153.57 L618.54 152.61 L618.79 151.64 L619.05 150.68 L619.31 149.71 L619.58 148.75 L619.85 147.79 L620.12 146.83 L620.4 145.88 L620.69 144.92 L620.98 143.97 L621.28 143.02 L621.58 142.07 L621.89 141.12 L622.21 140.17 L622.53 139.23 L622.85 138.28 L623.18 137.34 L623.52 136.4 L623.86 135.47 L624.21 134.53 L624.57 133.6 L624.93 132.67 L625.3 131.74 L625.67 130.82 L626.05 129.9 L626.43 128.98 L626.83 128.06 L627.22 127.15 L627.63 126.23 L628.04 125.33 L628.46 124.42 L628.88 123.52 L629.31 122.62 L629.75 121.72 L630.19 120.83 L630.64 119.93 L631.1 119.05 L631.56 118.16 L632.04 117.28 L632.51 116.4 L633 115.53 L633.49 114.66 L633.99 113.79 L634.5 112.93 L635.01 112.07 L635.53 111.21 L636.06 110.36 L636.59 109.51 L637.14 108.67 L637.68 107.82 L638.24 106.99 L638.8 106.15 L639.36 105.32 L639.93 104.49 L640.51 103.67 L641.09 102.85 L641.68 102.03 L642.27 101.21 L642.87 100.4 L643.47 99.59 L644.08 98.79 L644.69 97.99 L645.3 97.19 L645.92 96.39 L646.54 95.6 L647.17 94.81 L647.8 94.03 L648.43 93.24 L649.07 92.46 L649.71 91.69 L650.35 90.91 L651 90.14 L651.64 89.37 L652.29 88.61 L652.94 87.84 L653.6 87.08 L654.25 86.33 L654.91 85.57 L655.57 84.82 L656.23 84.08 L656.9 83.33 L657.57 82.59 L658.24 81.86 L658.92 81.13 L659.59 80.4 L660.28 79.68 L660.96 78.96 L661.66 78.25 L662.35 77.54 L663.05 76.84 L663.76 76.15 L664.47 75.46 L665.19 74.77 L665.91 74.1 L666.63 73.43 L667.37 72.76 L668.11 72.11 L668.86 71.46 L669.61 70.82 L670.37 70.18 L671.14 69.56 L671.91 68.94 L672.69 68.33 L673.48 67.72 L674.27 67.13 L675.07 66.54 L675.88 65.96 L676.69 65.38 L677.51 64.81 L678.33 64.25 L679.16 63.7 L680 63.15 L680.84 62.62 L681.68 62.08 L682.53 61.56 L683.39 61.04 L684.25 60.53 L685.11 60.03 L685.98 59.53 L686.86 59.04 L687.73 58.56 L688.62 58.08 L689.5 57.61 L690.39 57.15 L691.29 56.69 L692.19 56.24 L693.09 55.8 L693.99 55.36 L694.9 54.93 L695.81 54.51 L696.73 54.09 L697.64 53.68 L698.56 53.28 L699.49 52.88 L700.41 52.49 L701.34 52.1 L702.27 51.73 L703.2 51.35 L704.13 50.99 L705.07 50.63 L706.01 50.27 L706.95 49.92 L707.89 49.58 L708.83 49.25 L709.77 48.92 L710.72 48.59 L711.66 48.27 L712.61 47.96 L713.56 47.65 L714.51 47.35 L715.47 47.06 L716.42 46.76 L717.38 46.48 L718.33 46.2 L719.29 45.92 L720.25 45.66 L721.21 45.39 L722.18 45.13 L723.14 44.88 L724.11 44.63 L725.07 44.38 L726.04 44.14 L727.01 43.91 L727.98 43.68 L728.95 43.46 L729.92 43.23 L730.89 43.02 L731.87 42.81 L732.84 42.6 L733.82 42.4 L734.8 42.2 L735.78 42.01 L736.76 41.82 L737.74 41.63 L738.72 41.45 L739.7 41.27 L740.69 41.1 L741.67 40.93 L742.65 40.76 L743.64 40.6 L744.63 40.44 L745.61 40.29 L746.6 40.14 L747.59 39.99 L748.58 39.84 L749.57 39.7 L750.56 39.57 L751.55 39.43 L752.55 39.3 L753.54 39.17 L754.53 39.05 L755.53 38.93 L756.52 38.81 L757.52 38.7 L758.51 38.58 L759.51 38.47 L760.51 38.37 L761.5 38.26 L762.5 38.16 L763.5 38.06 L764.5 37.97 L765.5 37.87 L766.49 37.78 L767.49 37.69 L768.49 37.61 L769.49 37.52 L770.49 37.44 L771.49 37.36 L772.49 37.28 L773.49 37.2 L774.49 37.13 L775.5 37.06 L776.5 36.99 L777.5 36.92 L778.5 36.85 L779.5 36.79 L780.5 36.72 L781.5 36.66 L782.5 36.6 L783.5 36.54 L784.5 36.48 L785.51 36.42 L786.51 36.37 L787.51 36.31 L788.51 36.26 L789.51 36.21 L790.51 36.16 L791.51 36.11 L792.51 36.06 L793.51 36.01 L794.51 35.96 L795.51 35.92 L796.51 35.87 L797.51 35.83 L798.51 35.79 L799.51 35.75 L800.5 35.7 L801.5 35.66 L802.5 35.63 L803.5 35.59 L804.5 35.55 L805.5 35.51 L806.5 35.48 L807.49 35.44 L808.49 35.41 L809.49 35.37 L810.49 35.34 L811.49 35.31 L812.48 35.28 L813.48 35.25 L814.48 35.22 L815.48 35.19 L816.47 35.16 L817.47 35.13 L818.47 35.1 L819.46 35.08 L820.46 35.05 L821.46 35.02 L822.45 35 L823.45 34.97 L824.44 34.95 L825.44 34.92 L826.44 34.9 L827.43 34.88 L828.43 34.85 L829.42 34.83 L830.42 34.8 L831.41 34.77 L832.41 34.74 L833.4 34.71 L834.4 34.68 L835.39 34.64 L836.39 34.61 L837.38 34.57 L838.38 34.52 L839.37 34.48 L840.36 34.43 L841.36 34.37 L842.35 34.32 L843.35 34.25 L844.34 34.19 L845.33 34.12 L846.33 34.04 L847.32 33.96 L848.31 33.87 L849.31 33.78 L850.3 33.68 L851.29 33.57 L852.28 33.46 L853.28 33.34 L854.27 33.21 L855.26 33.08 L856.25 32.94 L857.25 32.79 L858.24 32.65 L997.05 32.65"/>
<path class="cv" stroke="#008000" d="M595.85 450.3 L595.85 415 L595.9 414 L595.95 413.01 L595.99 412.01 L596.04 411.01 L596.08 410.01 L596.13 409.02 L596.17 408.02 L596.22 407.02 L596.26 406.03 L596.3 405.03 L596.35 404.03 L596.39 403.03 L596.43 402.04 L596.48 401.04 L596.52 400.04 L596.56 399.04 L596.6 398.04 L596.65 397.05 L596.69 396.05 L596.73 395.05 L596.77 394.05 L596.81 393.05 L596.85 392.06 L596.9 391.06 L596.94 390.06 L596.98 389.06 L597.02 388.06 L597.06 387.06 L597.1 386.06 L597.14 385.07 L597.18 384.07 L597.22 383.07 L597.27 382.07 L597.31 381.07 L597.35 380.07 L597.39 379.07 L597.43 378.07 L597.47 377.08 L597.51 376.08 L597.55 375.08 L597.59 374.08 L597.64 373.08 L597.68 372.08 L597.72 371.08 L597.76 370.08 L597.8 369.08 L597.84 368.08 L597.89 367.08 L597.93 366.08 L597.97 365.08 L598.01 364.08 L598.06 363.08 L598.1 362.09 L598.14 361.09 L598.19 360.09 L598.23 359.09 L598.28 358.09 L598.32 357.09 L598.36 356.09 L598.41 355.09 L598.46 354.09 L598.5 353.09 L598.55 352.09 L598.59 351.09 L598.64 350.09 L598.69 349.09 L598.73 348.09 L598.78 347.09 L598.83 346.09 L598.88 345.09 L598.93 344.09 L598.98 343.09 L599.03 342.09 L599.08 341.09 L599.13 340.09 L599.18 339.1 L599.23 338.1 L599.28 337.1 L599.34 336.1 L599.39 335.1 L599.44 334.1 L599.5 333.1 L599.55 332.1 L599.61 331.1 L599.66 330.1 L599.72 329.1 L599.78 328.1 L599.84 327.1 L599.89 326.1 L599.95 325.1 L600.01 324.1 L600.07 323.11 L600.14 322.11 L600.2 321.11 L600.26 320.11 L600.32 319.11 L600.39 318.11 L600.45 317.11 L600.52 316.11 L600.58 315.11 L600.65 314.12 L600.72 313.12 L600.78 312.12 L600.85 311.12 L600.92 310.12 L600.99 309.12 L601.07 308.12 L601.14 307.13 L601.21 306.13 L601.28 305.13 L601.36 304.13 L601.43 303.13 L601.51 302.13 L601.59 301.14 L601.66 300.14 L601.74 299.14 L601.82 298.14 L601.9 297.15 L601.98 296.15 L602.06 295.15 L602.15 294.15 L602.23 293.16 L602.31 292.16 L602.4 291.16 L602.48 290.16 L602.57 289.17 L602.65 288.17 L602.74 287.17 L602.83 286.18 L602.92 285.18 L603.01 284.18 L603.1 283.19 L603.19 282.19 L603.28 281.19 L603.37 280.2 L603.46 279.2 L603.56 278.2 L603.65 277.21 L603.74 276.21 L603.84 275.22 L603.94 274.22 L604.03 273.23 L604.13 272.23 L604.23 271.24 L604.32 270.24 L604.42 269.25 L604.52 268.25 L604.62 267.26 L604.72 266.26 L604.83 265.27 L604.93 264.27 L605.03 263.28 L605.13 262.28 L605.24 261.29 L605.34 260.29 L605.44 259.3 L605.55 258.31 L605.66 257.31 L605.76 256.32 L605.87 255.33 L605.98 254.33 L606.08 253.34 L606.19 252.35 L606.3 251.35 L606.41 250.36 L606.52 249.37 L606.63 248.38 L606.74 247.39 L606.85 246.39 L606.97 245.4 L607.08 244.41 L607.19 243.42 L607.31 242.43 L607.42 241.43 L607.53 240.44 L607.65 239.45 L607.76 238.46 L607.88 237.47 L608 236.48 L608.11 235.49 L608.23 234.5 L608.35 233.51 L608.46 232.52 L608.58 231.53 L608.7 230.54 L608.82 229.55 L608.94 228.56 L609.06 227.57 L609.19 226.58 L609.31 225.59 L609.43 224.61 L609.56 223.62 L609.68 222.63 L609.81 221.64 L609.94 220.65 L610.07 219.67 L610.2 218.68 L610.33 217.69 L610.46 216.7 L610.59 215.72 L610.73 214.73 L610.87 213.74 L611.01 212.76 L611.15 211.77 L611.29 210.78 L611.43 209.8 L611.58 208.81 L611.73 207.82 L611.87 206.84 L612.03 205.85 L612.18 204.87 L612.34 203.88 L612.49 202.9 L612.65 201.91 L612.82 200.93 L612.98 199.94 L613.15 198.96 L613.32 197.97 L613.49 196.99 L613.66 196.01 L613.84 195.02 L614.02 194.04 L614.2 193.05 L614.39 192.07 L614.57 191.09 L614.76 190.1 L614.96 189.12 L615.15 188.14 L615.35 187.16 L615.55 186.17 L615.75 185.19 L615.96 184.21 L616.17 183.23 L616.38 182.24 L616.59 181.26 L616.8 180.28 L617.01 179.3 L617.23 178.32 L617.44 177.34 L617.66 176.36 L617.88 175.38 L618.1 174.39 L618.32 173.41 L618.54 172.43 L618.77 171.45 L618.99 170.47 L619.21 169.49 L619.44 168.51 L619.66 167.53 L619.88 166.55 L620.11 165.58 L620.34 164.6 L620.56 163.62 L620.79 162.64 L621.02 161.66 L621.25 160.69 L621.49 159.71 L621.72 158.74 L621.96 157.76 L622.19 156.79 L622.43 155.81 L622.68 154.84 L622.92 153.87 L623.17 152.9 L623.42 151.93 L623.67 150.96 L623.92 149.99 L624.18 149.03 L624.44 148.06 L624.71 147.1 L624.97 146.14 L625.24 145.18 L625.52 144.22 L625.79 143.26 L626.08 142.3 L626.36 141.35 L626.65 140.39 L626.94 139.44 L627.24 138.49 L627.54 137.55 L627.85 136.6 L628.16 135.65 L628.48 134.71 L628.8 133.77 L629.12 132.83 L629.45 131.9 L629.79 130.96 L630.13 130.03 L630.48 129.1 L630.83 128.17 L631.19 127.25 L631.56 126.32 L631.93 125.4 L632.3 124.49 L632.69 123.57 L633.08 122.66 L633.47 121.75 L633.87 120.84 L634.28 119.93 L634.7 119.03 L635.12 118.13 L635.55 117.23 L635.99 116.34 L636.43 115.45 L636.89 114.56 L637.35 113.68 L637.82 112.8 L638.29 111.92 L638.77 111.04 L639.26 110.17 L639.76 109.3 L640.27 108.44 L640.78 107.58 L641.3 106.72 L641.83 105.87 L642.36 105.02 L642.9 104.17 L643.45 103.33 L644.01 102.5 L644.57 101.67 L645.14 100.84 L645.72 100.01 L646.3 99.2 L646.89 98.38 L647.49 97.57 L648.1 96.77 L648.71 95.97 L649.33 95.18 L649.95 94.39 L650.58 93.61 L651.22 92.83 L651.86 92.05 L652.51 91.29 L653.17 90.53 L653.83 89.77 L654.5 89.02 L655.18 88.28 L655.86 87.54 L656.55 86.81 L657.24 86.08 L657.94 85.37 L658.65 84.65 L659.36 83.95 L660.08 83.25 L660.8 82.56 L661.53 81.87 L662.27 81.19 L663.01 80.52 L663.76 79.85 L664.51 79.2 L665.27 78.55 L666.03 77.9 L666.8 77.27 L667.57 76.64 L668.36 76.02 L669.14 75.41 L669.93 74.8 L670.73 74.21 L671.53 73.62 L672.33 73.04 L673.15 72.47 L673.96 71.9 L674.78 71.35 L675.61 70.8 L676.44 70.26 L677.28 69.73 L678.12 69.2 L678.96 68.69 L679.81 68.18 L680.67 67.68 L681.53 67.19 L682.39 66.7 L683.26 66.22 L684.13 65.75 L685 65.29 L685.88 64.83 L686.77 64.38 L687.65 63.93 L688.54 63.49 L689.44 63.06 L690.33 62.64 L691.23 62.22 L692.14 61.8 L693.04 61.39 L693.95 60.99 L694.87 60.59 L695.78 60.2 L696.7 59.81 L697.62 59.43 L698.55 59.05 L699.48 58.68 L700.4 58.31 L701.34 57.95 L702.27 57.59 L703.21 57.24 L704.15 56.89 L705.09 56.54 L706.03 56.2 L706.97 55.86 L707.92 55.53 L708.87 55.2 L709.82 54.87 L710.77 54.54 L711.72 54.22 L712.68 53.9 L713.63 53.59 L714.59 53.27 L715.55 52.96 L716.5 52.66 L717.46 52.35 L718.42 52.05 L719.39 51.75 L720.35 51.45 L721.31 51.15 L722.27 50.85 L723.24 50.56 L724.2 50.27 L725.17 49.98 L726.13 49.7 L727.1 49.41 L728.07 49.13 L729.03 48.86 L730 48.58 L730.97 48.31 L731.94 48.04 L732.91 47.78 L733.88 47.52 L734.85 47.26 L735.82 47.01 L736.79 46.76 L737.77 46.52 L738.74 46.28 L739.71 46.04 L740.69 45.81 L741.66 45.58 L742.64 45.36 L743.61 45.14 L744.59 44.93 L745.57 44.72 L746.54 44.51 L747.52 44.31 L748.5 44.12 L749.48 43.93 L750.46 43.74 L751.44 43.56 L752.42 43.39 L753.4 43.21 L754.38 43.04 L755.36 42.88 L756.34 42.72 L757.32 42.56 L758.31 42.4 L759.29 42.25 L760.27 42.1 L761.26 41.96 L762.24 41.81 L763.23 41.68 L764.21 41.54 L765.2 41.41 L766.19 41.28 L767.17 41.15 L768.16 41.02 L769.15 40.9 L770.13 40.78 L771.12 40.66 L772.11 40.54 L773.1 40.43 L774.09 40.32 L775.08 40.2 L776.07 40.1 L777.06 39.99 L778.05 39.88 L779.04 39.78 L780.03 39.68 L781.02 39.58 L782.01 39.48 L783.01 39.39 L784 39.29 L784.99 39.2 L785.98 39.11 L786.98 39.02 L787.97 38.93 L788.97 38.85 L789.96 38.76 L790.95 38.68 L791.95 38.6 L792.94 38.52 L793.94 38.45 L794.93 38.37 L795.93 38.3 L796.93 38.22 L797.92 38.15 L798.92 38.08 L799.91 38.01 L800.91 37.95 L801.91 37.88 L802.91 37.82 L803.9 37.76 L804.9 37.69 L805.9 37.64 L806.9 37.58 L807.9 37.52 L808.89 37.46 L809.89 37.41 L810.89 37.36 L811.89 37.3 L812.89 37.25 L813.89 37.2 L814.89 37.15 L815.89 37.11 L816.89 37.06 L817.89 37.02 L818.89 36.97 L819.89 36.93 L820.89 36.89 L821.89 36.85 L822.89 36.81 L823.89 36.77 L824.89 36.73 L825.89 36.69 L826.89 36.65 L827.89 36.62 L828.89 36.58 L829.89 36.54 L830.89 36.51 L831.89 36.48 L832.89 36.44 L833.89 36.41 L834.89 36.38 L835.9 36.34 L836.9 36.31 L837.9 36.28 L838.9 36.25 L839.9 36.22 L840.9 36.19 L841.9 36.15 L842.9 36.12 L843.9 36.09 L844.91 36.06 L845.91 36.03 L846.91 36 L847.91 35.97 L848.91 35.94 L849.91 35.91 L850.91 35.87 L851.91 35.84 L852.91 35.81 L853.91 35.78 L854.92 35.74 L855.92 35.71 L856.92 35.67 L857.92 35.64 L858.92 35.61 L859.92 35.57 L860.92 35.53 L861.92 35.5 L862.92 35.46 L863.92 35.42 L864.92 35.38 L865.92 35.34 L866.92 35.3 L867.92 35.26 L868.92 35.21 L869.92 35.17 L870.91 35.12 L871.91 35.08 L872.91 35.03 L873.91 34.98 L874.91 34.93 L875.91 34.88 L876.9 34.83 L877.9 34.78 L878.9 34.72 L879.9 34.67 L880.89 34.61 L881.89 34.55 L882.89 34.49 L883.88 34.43 L884.88 34.36 L885.88 34.3 L886.87 34.23 L887.87 34.16 L888.86 34.09 L889.86 34.02 L890.85 33.95 L891.85 33.87 L892.84 33.79 L893.84 33.71 L894.83 33.63 L895.83 33.55 L896.82 33.46 L897.81 33.37 L898.8 33.28 L899.8 33.19 L900.79 33.09 L901.78 33 L902.77 32.9 L903.76 32.8 L904.75 32.69 L997.05 32.65"/>
</g>
<path class="tick" d="M596.7 450.3 v6.2 M596.8 450.3 h-6.2 M676.75 450.3 v6.2 M596.8 366.76 h-6.2 M756.8 450.3 v6.2 M596.8 282.97 h-6.2 M836.85 450.3 v6.2 M596.8 199.48 h-6.2 M916.9 450.3 v6.2 M596.8 117.19 h-6.2 M996.95 450.3 v6.2 M596.8 33.6 h-6.2"/>
<rect class="sp" x="596.8" y="33.6" width="400.25" height="416.7"/>
<text class="tk" text-anchor="middle" transform="matrix(1 0 0 1.13 595.7 477.7)">0.0</text>
<text class="tk" text-anchor="end" transform="matrix(1 0 0 1.13 584.4 458)">0.0</text>
<text class="tk" text-anchor="middle" transform="matrix(1 0 0 1.13 675.75 477.7)">0.2</text>
<text class="tk" text-anchor="end" transform="matrix(1 0 0 1.13 584.4 375)">0.2</text>
<text class="tk" text-anchor="middle" transform="matrix(1 0 0 1.13 755.8 477.7)">0.4</text>
<text class="tk" text-anchor="end" transform="matrix(1 0 0 1.13 584.4 292)">0.4</text>
<text class="tk" text-anchor="middle" transform="matrix(1 0 0 1.13 835.85 477.7)">0.6</text>
<text class="tk" text-anchor="end" transform="matrix(1 0 0 1.13 584.4 209)">0.6</text>
<text class="tk" text-anchor="middle" transform="matrix(1 0 0 1.13 915.9 477.7)">0.8</text>
<text class="tk" text-anchor="end" transform="matrix(1 0 0 1.13 584.4 125)">0.8</text>
<text class="tk" text-anchor="middle" transform="matrix(1 0 0 1.13 995.95 477.7)">1.0</text>
<text class="tk" text-anchor="end" transform="matrix(1 0 0 1.13 584.4 41.4)">1.0</text>
<text class="tt" text-anchor="middle" transform="matrix(1 0 0 0.936 796.02 24.1)">p16-HT-oof</text>
<text class="lb" text-anchor="middle" transform="matrix(1 0 0 0.97 796.02 506.35)">False Positive Rate (1 - Specificity)</text>
<text class="lby" text-anchor="middle" transform="matrix(0 -1 0.98 0 541.8 243.45)">True Positive Rate (Sensitivity)</text>
<g id="legend2">
<rect class="lf" x="605" y="363" width="331" height="79" rx="3.3" ry="3.3"/>
<path class="lh" stroke="#0000ff" d="M611.4 375.6 H644.6"/>
<text class="lg" transform="matrix(1 0 0 0.96 657.5 382.6)">'No CST': DC=None (AUC=0.919)</text>
<path class="lh" stroke="#ff0000" d="M611.4 400.25 H644.6"/>
<text class="lg" transform="matrix(1 0 0 0.96 657.5 407.25)">CST3: α=1,DC=3 (AUC=0.940)</text>
<path class="lh" stroke="#008000" d="M611.4 424.9 H644.6"/>
<text class="lg" transform="matrix(1 0 0 0.96 657.5 431.9)">DA3: DC=3* (AUC=0.930)</text>
</g>
</g>
<g id="panel3">
<g clip-path="url(#c2)">
<path class="cv" stroke="#0000ff" d="M1115.3 450.3 L1115.3 425 L1115.35 424 L1115.41 423 L1115.46 422 L1115.51 421 L1115.56 420.01 L1115.61 419.01 L1115.66 418.01 L1115.7 417.01 L1115.75 416.01 L1115.8 415.01 L1115.85 414.01 L1115.9 413.01 L1115.94 412.01 L1115.99 411.01 L1116.04 410.01 L1116.08 409.02 L1116.13 408.02 L1116.18 407.02 L1116.22 406.02 L1116.27 405.02 L1116.31 404.02 L1116.36 403.02 L1116.4 402.02 L1116.45 401.02 L1116.49 400.02 L1116.53 399.02 L1116.58 398.03 L1116.62 397.03 L1116.67 396.03 L1116.71 395.03 L1116.75 394.03 L1116.8 393.03 L1116.84 392.03 L1116.88 391.03 L1116.93 390.03 L1116.97 389.03 L1117.01 388.04 L1117.05 387.04 L1117.1 386.04 L1117.14 385.04 L1117.18 384.04 L1117.22 383.04 L1117.27 382.04 L1117.31 381.04 L1117.35 380.04 L1117.39 379.04 L1117.43 378.05 L1117.48 377.05 L1117.52 376.05 L1117.56 375.05 L1117.6 374.05 L1117.64 373.05 L1117.69 372.05 L1117.73 371.05 L1117.77 370.06 L1117.81 369.06 L1117.86 368.06 L1117.9 367.06 L1117.94 366.06 L1117.99 365.06 L1118.03 364.06 L1118.07 363.06 L1118.11 362.06 L1118.16 361.07 L1118.2 360.07 L1118.24 359.07 L1118.29 358.07 L1118.33 357.07 L1118.38 356.07 L1118.42 355.07 L1118.47 354.08 L1118.51 353.08 L1118.55 352.08 L1118.6 351.08 L1118.65 350.08 L1118.69 349.08 L1118.74 348.08 L1118.78 347.09 L1118.83 346.09 L1118.88 345.09 L1118.92 344.09 L1118.97 343.09 L1119.02 342.09 L1119.07 341.09 L1119.11 340.1 L1119.16 339.1 L1119.21 338.1 L1119.26 337.1 L1119.31 336.1 L1119.36 335.1 L1119.41 334.11 L1119.46 333.11 L1119.51 332.11 L1119.56 331.11 L1119.61 330.11 L1119.67 329.11 L1119.72 328.12 L1119.77 327.12 L1119.83 326.12 L1119.88 325.12 L1119.93 324.12 L1119.99 323.13 L1120.04 322.13 L1120.1 321.13 L1120.16 320.13 L1120.21 319.13 L1120.27 318.14 L1120.33 317.14 L1120.39 316.14 L1120.44 315.14 L1120.5 314.15 L1120.56 313.15 L1120.62 312.15 L1120.68 311.15 L1120.75 310.15 L1120.81 309.16 L1120.87 308.16 L1120.93 307.16 L1121 306.16 L1121.06 305.17 L1121.13 304.17 L1121.19 303.17 L1121.26 302.17 L1121.33 301.18 L1121.4 300.18 L1121.46 299.18 L1121.53 298.18 L1121.6 297.19 L1121.67 296.19 L1121.74 295.19 L1121.82 294.19 L1121.89 293.2 L1121.96 292.2 L1122.04 291.2 L1122.11 290.21 L1122.18 289.21 L1122.26 288.21 L1122.34 287.21 L1122.41 286.22 L1122.49 285.22 L1122.57 284.22 L1122.65 283.23 L1122.73 282.23 L1122.81 281.23 L1122.89 280.24 L1122.97 279.24 L1123.05 278.24 L1123.13 277.25 L1123.22 276.25 L1123.3 275.25 L1123.39 274.26 L1123.47 273.26 L1123.56 272.26 L1123.64 271.27 L1123.73 270.27 L1123.81 269.27 L1123.9 268.28 L1123.99 267.28 L1124.08 266.28 L1124.17 265.29 L1124.26 264.29 L1124.35 263.3 L1124.44 262.3 L1124.53 261.3 L1124.62 260.31 L1124.71 259.31 L1124.8 258.32 L1124.89 257.32 L1124.99 256.32 L1125.08 255.33 L1125.17 254.33 L1125.27 253.34 L1125.36 252.34 L1125.46 251.35 L1125.55 250.35 L1125.65 249.35 L1125.75 248.36 L1125.84 247.36 L1125.94 246.37 L1126.04 245.37 L1126.13 244.38 L1126.23 243.38 L1126.33 242.39 L1126.43 241.39 L1126.53 240.4 L1126.63 239.4 L1126.73 238.41 L1126.83 237.41 L1126.93 236.42 L1127.03 235.42 L1127.13 234.43 L1127.23 233.43 L1127.33 232.44 L1127.43 231.44 L1127.54 230.45 L1127.64 229.45 L1127.74 228.46 L1127.84 227.46 L1127.95 226.47 L1128.05 225.47 L1128.15 224.48 L1128.26 223.48 L1128.36 222.49 L1128.47 221.5 L1128.58 220.5 L1128.68 219.51 L1128.79 218.51 L1128.9 217.52 L1129.01 216.53 L1129.12 215.53 L1129.23 214.54 L1129.34 213.55 L1129.45 212.56 L1129.57 211.56 L1129.68 210.57 L1129.8 209.58 L1129.92 208.59 L1130.04 207.59 L1130.16 206.6 L1130.28 205.61 L1130.41 204.62 L1130.53 203.63 L1130.66 202.64 L1130.79 201.65 L1130.92 200.66 L1131.05 199.67 L1131.19 198.68 L1131.32 197.69 L1131.46 196.7 L1131.6 195.71 L1131.74 194.72 L1131.89 193.74 L1132.04 192.75 L1132.18 191.76 L1132.34 190.78 L1132.49 189.79 L1132.65 188.8 L1132.81 187.82 L1132.97 186.83 L1133.13 185.85 L1133.3 184.86 L1133.47 183.88 L1133.64 182.9 L1133.82 181.91 L1134 180.93 L1134.18 179.95 L1134.36 178.97 L1134.55 177.99 L1134.74 177.01 L1134.93 176.03 L1135.13 175.05 L1135.33 174.07 L1135.54 173.09 L1135.74 172.11 L1135.96 171.13 L1136.17 170.16 L1136.39 169.18 L1136.61 168.2 L1136.83 167.23 L1137.06 166.25 L1137.3 165.28 L1137.53 164.31 L1137.78 163.33 L1138.02 162.36 L1138.27 161.39 L1138.52 160.42 L1138.78 159.45 L1139.04 158.48 L1139.31 157.51 L1139.58 156.54 L1139.85 155.58 L1140.13 154.61 L1140.42 153.65 L1140.71 152.68 L1141 151.72 L1141.3 150.76 L1141.6 149.8 L1141.91 148.85 L1142.22 147.89 L1142.54 146.94 L1142.87 145.99 L1143.2 145.04 L1143.53 144.09 L1143.87 143.15 L1144.22 142.2 L1144.57 141.26 L1144.93 140.33 L1145.29 139.39 L1145.66 138.46 L1146.04 137.53 L1146.42 136.61 L1146.81 135.69 L1147.2 134.77 L1147.61 133.85 L1148.01 132.94 L1148.43 132.03 L1148.85 131.13 L1149.28 130.23 L1149.71 129.33 L1150.15 128.44 L1150.6 127.55 L1151.05 126.67 L1151.52 125.79 L1151.99 124.91 L1152.46 124.04 L1152.95 123.18 L1153.44 122.31 L1153.94 121.46 L1154.44 120.61 L1154.96 119.76 L1155.48 118.92 L1156.01 118.08 L1156.55 117.25 L1157.1 116.43 L1157.65 115.61 L1158.21 114.79 L1158.78 113.98 L1159.36 113.18 L1159.95 112.39 L1160.55 111.6 L1161.15 110.81 L1161.76 110.03 L1162.39 109.26 L1163.01 108.49 L1163.65 107.73 L1164.29 106.97 L1164.94 106.22 L1165.59 105.47 L1166.25 104.73 L1166.92 103.98 L1167.59 103.24 L1168.27 102.51 L1168.95 101.77 L1169.63 101.04 L1170.32 100.31 L1171.01 99.58 L1171.7 98.86 L1172.4 98.13 L1173.1 97.4 L1173.8 96.68 L1174.5 95.96 L1175.21 95.24 L1175.92 94.53 L1176.63 93.81 L1177.35 93.1 L1178.07 92.39 L1178.79 91.69 L1179.51 90.98 L1180.23 90.29 L1180.96 89.59 L1181.69 88.9 L1182.42 88.21 L1183.15 87.53 L1183.89 86.85 L1184.63 86.17 L1185.37 85.5 L1186.11 84.83 L1186.86 84.17 L1187.6 83.51 L1188.36 82.85 L1189.11 82.2 L1189.87 81.56 L1190.63 80.92 L1191.39 80.28 L1192.16 79.65 L1192.93 79.02 L1193.7 78.4 L1194.48 77.79 L1195.26 77.18 L1196.04 76.57 L1196.83 75.97 L1197.62 75.38 L1198.42 74.79 L1199.22 74.2 L1200.02 73.62 L1200.83 73.05 L1201.64 72.48 L1202.46 71.92 L1203.28 71.37 L1204.11 70.82 L1204.94 70.28 L1205.77 69.74 L1206.61 69.21 L1207.45 68.68 L1208.3 68.16 L1209.15 67.64 L1210 67.14 L1210.86 66.63 L1211.72 66.13 L1212.59 65.64 L1213.46 65.16 L1214.33 64.68 L1215.21 64.2 L1216.08 63.73 L1216.97 63.27 L1217.85 62.81 L1218.74 62.36 L1219.64 61.91 L1220.53 61.47 L1221.43 61.03 L1222.33 60.6 L1223.24 60.17 L1224.15 59.75 L1225.06 59.34 L1225.97 58.92 L1226.89 58.52 L1227.8 58.12 L1228.73 57.73 L1229.65 57.34 L1230.58 56.95 L1231.5 56.57 L1232.44 56.2 L1233.37 55.83 L1234.31 55.47 L1235.24 55.11 L1236.18 54.76 L1237.12 54.41 L1238.07 54.07 L1239.01 53.73 L1239.96 53.39 L1240.91 53.07 L1241.86 52.74 L1242.82 52.42 L1243.77 52.11 L1244.73 51.8 L1245.68 51.5 L1246.64 51.2 L1247.6 50.9 L1248.56 50.61 L1249.53 50.33 L1250.49 50.05 L1251.46 49.77 L1252.42 49.5 L1253.39 49.23 L1254.36 48.97 L1255.33 48.72 L1256.3 48.46 L1257.27 48.22 L1258.24 47.97 L1259.21 47.73 L1260.18 47.5 L1261.16 47.27 L1262.13 47.04 L1263.1 46.82 L1264.08 46.6 L1265.05 46.39 L1266.03 46.18 L1267.01 45.97 L1267.99 45.77 L1268.96 45.57 L1269.94 45.38 L1270.92 45.19 L1271.9 45 L1272.88 44.82 L1273.86 44.64 L1274.84 44.46 L1275.83 44.28 L1276.81 44.11 L1277.79 43.95 L1278.78 43.78 L1279.76 43.62 L1280.74 43.46 L1281.73 43.31 L1282.72 43.15 L1283.7 43 L1284.69 42.85 L1285.68 42.71 L1286.66 42.57 L1287.65 42.43 L1288.64 42.29 L1289.63 42.15 L1290.62 42.02 L1291.61 41.89 L1292.6 41.76 L1293.59 41.63 L1294.58 41.51 L1295.57 41.38 L1296.56 41.26 L1297.55 41.14 L1298.54 41.03 L1299.53 40.91 L1300.53 40.79 L1301.52 40.68 L1302.51 40.57 L1303.5 40.46 L1304.5 40.35 L1305.49 40.24 L1306.49 40.13 L1307.48 40.03 L1308.48 39.92 L1309.47 39.82 L1310.47 39.72 L1311.46 39.61 L1312.46 39.51 L1313.45 39.41 L1314.45 39.31 L1315.44 39.21 L1316.44 39.11 L1317.44 39.01 L1318.43 38.91 L1319.43 38.81 L1320.43 38.71 L1321.42 38.61 L1322.42 38.52 L1323.42 38.42 L1324.41 38.32 L1325.41 38.22 L1326.41 38.12 L1327.41 38.02 L1328.4 37.92 L1329.4 37.82 L1330.4 37.72 L1331.39 37.62 L1332.39 37.53 L1333.39 37.43 L1334.39 37.33 L1335.39 37.24 L1336.38 37.14 L1337.38 37.05 L1338.38 36.96 L1339.37 36.87 L1340.37 36.78 L1341.37 36.69 L1342.37 36.61 L1343.36 36.53 L1344.36 36.44 L1345.36 36.37 L1346.35 36.29 L1347.35 36.22 L1348.35 36.14 L1349.34 36.08 L1350.34 36.01 L1351.34 35.95 L1352.33 35.89 L1353.33 35.83 L1354.32 35.78 L1355.32 35.73 L1356.32 35.68 L1357.31 35.64 L1358.31 35.6 L1359.3 35.57 L1360.29 35.54 L1361.29 35.51 L1362.28 35.49 L1363.28 35.47 L1364.27 35.46 L1365.26 35.45 L1366.26 35.44 L1367.25 35.43 L1368.24 35.42 L1369.23 35.41 L1370.22 35.39 L1371.22 35.38 L1372.21 35.35 L1373.2 35.32 L1374.19 35.28 L1375.18 35.23 L1376.17 35.18 L1377.16 35.11 L1378.14 35.03 L1379.13 34.93 L1380.12 34.82 L1381.11 34.7 L1382.1 34.55 L1383.08 34.39 L1384.07 34.21 L1385.05 34.01 L1386.04 33.79 L1387.02 33.55 L1388.01 33.28 L1388.99 32.99 L1389.98 32.67 L1515.45 32.65"/>
<path class="cv" stroke="#ff0000" d="M1115.3 450.3 L1115.31 305 L1115.5 304.01 L1115.68 303.02 L1115.85 302.03 L1116.01 301.04 L1116.16 300.04 L1116.3 299.05 L1116.44 298.06 L1116.56 297.07 L1116.68 296.07 L1116.79 295.08 L1116.89 294.09 L1116.99 293.09 L1117.07 292.1 L1117.16 291.11 L1117.23 290.11 L1117.3 289.12 L1117.37 288.12 L1117.42 287.13 L1117.48 286.13 L1117.53 285.14 L1117.57 284.14 L1117.61 283.15 L1117.65 282.15 L1117.68 281.16 L1117.71 280.16 L1117.74 279.16 L1117.77 278.17 L1117.79 277.17 L1117.81 276.17 L1117.83 275.18 L1117.85 274.18 L1117.87 273.18 L1117.88 272.19 L1117.9 271.19 L1117.91 270.19 L1117.93 269.19 L1117.95 268.2 L1117.96 267.2 L1117.98 266.2 L1118 265.2 L1118.02 264.2 L1118.04 263.2 L1118.06 262.21 L1118.08 261.21 L1118.11 260.21 L1118.13 259.21 L1118.15 258.21 L1118.18 257.21 L1118.21 256.21 L1118.23 255.21 L1118.26 254.22 L1118.29 253.22 L1118.32 252.22 L1118.35 251.22 L1118.38 250.22 L1118.42 249.22 L1118.45 248.22 L1118.48 247.22 L1118.52 246.22 L1118.56 245.22 L1118.6 244.22 L1118.63 243.22 L1118.67 242.22 L1118.72 241.22 L1118.76 240.22 L1118.8 239.22 L1118.85 238.22 L1118.89 237.22 L1118.94 236.22 L1118.99 235.22 L1119.03 234.22 L1119.08 233.22 L1119.14 232.22 L1119.19 231.22 L1119.24 230.22 L1119.29 229.22 L1119.35 228.22 L1119.4 227.22 L1119.46 226.22 L1119.52 225.22 L1119.58 224.22 L1119.64 223.22 L1119.7 222.23 L1119.76 221.23 L1119.82 220.23 L1119.88 219.23 L1119.95 218.23 L1120.01 217.23 L1120.08 216.23 L1120.14 215.23 L1120.21 214.23 L1120.28 213.23 L1120.34 212.23 L1120.41 211.23 L1120.48 210.23 L1120.55 209.23 L1120.62 208.23 L1120.69 207.24 L1120.77 206.24 L1120.84 205.24 L1120.91 204.24 L1120.99 203.24 L1121.06 202.24 L1121.14 201.24 L1121.21 200.25 L1121.29 199.25 L1121.37 198.25 L1121.44 197.25 L1121.52 196.26 L1121.6 195.26 L1121.68 194.26 L1121.76 193.26 L1121.84 192.27 L1121.92 191.27 L1122 190.27 L1122.08 189.28 L1122.16 188.28 L1122.25 187.28 L1122.33 186.29 L1122.41 185.29 L1122.5 184.29 L1122.58 183.3 L1122.67 182.3 L1122.75 181.31 L1122.84 180.31 L1122.93 179.32 L1123.02 178.32 L1123.11 177.33 L1123.2 176.33 L1123.29 175.34 L1123.39 174.35 L1123.48 173.35 L1123.58 172.36 L1123.68 171.37 L1123.78 170.37 L1123.88 169.38 L1123.98 168.39 L1124.08 167.39 L1124.19 166.4 L1124.29 165.41 L1124.4 164.42 L1124.51 163.43 L1124.62 162.44 L1124.73 161.45 L1124.85 160.46 L1124.97 159.47 L1125.08 158.48 L1125.2 157.49 L1125.33 156.5 L1125.45 155.51 L1125.58 154.52 L1125.71 153.53 L1125.84 152.54 L1125.97 151.56 L1126.11 150.57 L1126.24 149.58 L1126.38 148.6 L1126.53 147.61 L1126.67 146.62 L1126.82 145.64 L1126.97 144.65 L1127.12 143.67 L1127.28 142.68 L1127.43 141.7 L1127.59 140.72 L1127.76 139.73 L1127.92 138.75 L1128.09 137.77 L1128.26 136.78 L1128.44 135.8 L1128.62 134.82 L1128.8 133.84 L1128.98 132.86 L1129.17 131.88 L1129.36 130.9 L1129.55 129.92 L1129.75 128.94 L1129.94 127.96 L1130.15 126.99 L1130.35 126.01 L1130.56 125.03 L1130.77 124.05 L1130.98 123.08 L1131.2 122.1 L1131.42 121.13 L1131.65 120.15 L1131.88 119.18 L1132.11 118.21 L1132.34 117.23 L1132.58 116.26 L1132.82 115.29 L1133.06 114.32 L1133.31 113.34 L1133.56 112.37 L1133.82 111.4 L1134.08 110.43 L1134.34 109.47 L1134.6 108.5 L1134.87 107.53 L1135.14 106.56 L1135.42 105.59 L1135.7 104.63 L1135.98 103.66 L1136.27 102.7 L1136.56 101.73 L1136.86 100.77 L1137.15 99.8 L1137.46 98.84 L1137.76 97.88 L1138.07 96.92 L1138.39 95.96 L1138.71 95 L1139.04 94.05 L1139.37 93.09 L1139.71 92.14 L1140.06 91.2 L1140.41 90.25 L1140.77 89.31 L1141.14 88.37 L1141.51 87.44 L1141.9 86.51 L1142.29 85.59 L1142.69 84.67 L1143.1 83.75 L1143.52 82.85 L1143.96 81.94 L1144.4 81.05 L1144.85 80.15 L1145.31 79.27 L1145.79 78.39 L1146.28 77.52 L1146.78 76.66 L1147.29 75.81 L1147.81 74.96 L1148.34 74.12 L1148.89 73.29 L1149.44 72.47 L1150.01 71.66 L1150.59 70.86 L1151.19 70.06 L1151.79 69.28 L1152.41 68.51 L1153.04 67.75 L1153.68 67 L1154.33 66.26 L1155 65.53 L1155.67 64.81 L1156.36 64.11 L1157.06 63.41 L1157.78 62.73 L1158.51 62.07 L1159.24 61.41 L1159.99 60.77 L1160.76 60.14 L1161.53 59.53 L1162.32 58.93 L1163.11 58.34 L1163.92 57.76 L1164.74 57.2 L1165.56 56.65 L1166.4 56.11 L1167.24 55.58 L1168.1 55.07 L1168.96 54.57 L1169.83 54.09 L1170.71 53.61 L1171.59 53.15 L1172.49 52.7 L1173.39 52.27 L1174.29 51.84 L1175.21 51.43 L1176.12 51.03 L1177.05 50.65 L1177.98 50.27 L1178.91 49.91 L1179.85 49.56 L1180.79 49.22 L1181.74 48.88 L1182.69 48.56 L1183.65 48.24 L1184.6 47.94 L1185.56 47.64 L1186.53 47.34 L1187.49 47.06 L1188.46 46.78 L1189.42 46.5 L1190.39 46.23 L1191.36 45.97 L1192.33 45.7 L1193.3 45.45 L1194.27 45.2 L1195.24 44.95 L1196.22 44.7 L1197.19 44.46 L1198.16 44.23 L1199.14 44 L1200.11 43.77 L1201.09 43.55 L1202.07 43.33 L1203.04 43.11 L1204.02 42.9 L1205 42.69 L1205.98 42.49 L1206.96 42.29 L1207.94 42.09 L1208.92 41.89 L1209.9 41.7 L1210.88 41.52 L1211.86 41.33 L1212.85 41.15 L1213.83 40.97 L1214.81 40.8 L1215.8 40.63 L1216.78 40.46 L1217.77 40.29 L1218.75 40.13 L1219.74 39.97 L1220.73 39.81 L1221.71 39.66 L1222.7 39.51 L1223.69 39.36 L1224.68 39.21 L1225.67 39.06 L1226.65 38.92 L1227.64 38.78 L1228.63 38.64 L1229.62 38.51 L1230.61 38.38 L1231.6 38.25 L1232.6 38.12 L1233.59 37.99 L1234.58 37.86 L1235.57 37.74 L1236.56 37.62 L1237.56 37.5 L1238.55 37.38 L1239.54 37.27 L1240.53 37.15 L1241.53 37.04 L1242.52 36.93 L1243.52 36.82 L1244.51 36.71 L1245.5 36.61 L1246.5 36.5 L1247.49 36.4 L1248.49 36.3 L1249.48 36.2 L1250.48 36.11 L1251.47 36.01 L1252.47 35.92 L1253.47 35.83 L1254.46 35.74 L1255.46 35.65 L1256.45 35.57 L1257.45 35.49 L1258.44 35.4 L1259.44 35.32 L1260.44 35.25 L1261.43 35.17 L1262.43 35.1 L1263.43 35.02 L1264.42 34.95 L1265.42 34.88 L1266.41 34.82 L1267.41 34.75 L1268.41 34.69 L1269.4 34.63 L1270.4 34.57 L1271.39 34.51 L1272.39 34.45 L1273.39 34.39 L1274.38 34.32 L1275.38 34.26 L1276.37 34.2 L1277.37 34.13 L1278.36 34.07 L1279.36 33.99 L1280.35 33.92 L1281.35 33.84 L1282.34 33.76 L1283.34 33.67 L1284.33 33.58 L1285.33 33.49 L1286.32 33.38 L1287.31 33.27 L1288.31 33.16 L1289.3 33.03 L1290.29 32.9 L1291.29 32.76 L1292.28 32.65 L1515.45 32.65"/>
<path class="cv" stroke="#008000" d="M1115.3 450.3 L1115.3 375 L1115.44 374 L1115.58 373 L1115.7 372 L1115.83 371 L1115.95 370 L1116.06 369.01 L1116.17 368.01 L1116.27 367.01 L1116.37 366.01 L1116.46 365.01 L1116.55 364.01 L1116.64 363.01 L1116.72 362.01 L1116.8 361.01 L1116.88 360.01 L1116.95 359.01 L1117.01 358.01 L1117.08 357.01 L1117.14 356.01 L1117.2 355.02 L1117.25 354.02 L1117.3 353.02 L1117.35 352.02 L1117.39 351.02 L1117.44 350.02 L1117.48 349.02 L1117.52 348.03 L1117.55 347.03 L1117.59 346.03 L1117.62 345.03 L1117.65 344.03 L1117.68 343.03 L1117.71 342.04 L1117.73 341.04 L1117.76 340.04 L1117.78 339.04 L1117.81 338.04 L1117.83 337.05 L1117.85 336.05 L1117.87 335.05 L1117.89 334.05 L1117.91 333.05 L1117.93 332.06 L1117.95 331.06 L1117.96 330.06 L1117.98 329.06 L1118 328.07 L1118.02 327.07 L1118.04 326.07 L1118.06 325.07 L1118.08 324.08 L1118.11 323.08 L1118.13 322.08 L1118.15 321.09 L1118.18 320.09 L1118.21 319.09 L1118.24 318.09 L1118.27 317.1 L1118.3 316.1 L1118.33 315.1 L1118.37 314.11 L1118.4 313.11 L1118.44 312.11 L1118.49 311.12 L1118.53 310.12 L1118.57 309.12 L1118.62 308.12 L1118.67 307.13 L1118.72 306.13 L1118.77 305.13 L1118.82 304.14 L1118.87 303.14 L1118.93 302.14 L1118.99 301.15 L1119.04 300.15 L1119.1 299.15 L1119.16 298.16 L1119.22 297.16 L1119.28 296.16 L1119.34 295.17 L1119.41 294.17 L1119.47 293.17 L1119.53 292.18 L1119.6 291.18 L1119.66 290.18 L1119.73 289.19 L1119.79 288.19 L1119.86 287.19 L1119.93 286.2 L1119.99 285.2 L1120.06 284.2 L1120.12 283.21 L1120.19 282.21 L1120.26 281.21 L1120.32 280.22 L1120.39 279.22 L1120.45 278.22 L1120.52 277.23 L1120.59 276.23 L1120.65 275.23 L1120.72 274.24 L1120.78 273.24 L1120.85 272.25 L1120.92 271.25 L1120.98 270.25 L1121.05 269.26 L1121.11 268.26 L1121.18 267.26 L1121.25 266.27 L1121.31 265.27 L1121.38 264.27 L1121.45 263.28 L1121.51 262.28 L1121.58 261.28 L1121.65 260.29 L1121.72 259.29 L1121.79 258.29 L1121.85 257.29 L1121.92 256.3 L1121.99 255.3 L1122.06 254.3 L1122.13 253.31 L1122.2 252.31 L1122.27 251.31 L1122.34 250.32 L1122.41 249.32 L1122.48 248.32 L1122.55 247.33 L1122.62 246.33 L1122.69 245.33 L1122.77 244.33 L1122.84 243.34 L1122.91 242.34 L1122.99 241.34 L1123.06 240.35 L1123.14 239.35 L1123.21 238.35 L1123.29 237.35 L1123.36 236.36 L1123.44 235.36 L1123.52 234.36 L1123.6 233.36 L1123.67 232.37 L1123.75 231.37 L1123.83 230.37 L1123.91 229.37 L1123.99 228.37 L1124.07 227.38 L1124.16 226.38 L1124.24 225.38 L1124.32 224.38 L1124.41 223.39 L1124.49 222.39 L1124.58 221.39 L1124.66 220.39 L1124.75 219.39 L1124.84 218.39 L1124.93 217.4 L1125.02 216.4 L1125.11 215.4 L1125.2 214.4 L1125.29 213.4 L1125.38 212.4 L1125.48 211.41 L1125.57 210.41 L1125.67 209.41 L1125.76 208.41 L1125.86 207.41 L1125.96 206.41 L1126.06 205.41 L1126.16 204.42 L1126.26 203.42 L1126.36 202.42 L1126.46 201.42 L1126.57 200.42 L1126.67 199.42 L1126.78 198.43 L1126.88 197.43 L1126.99 196.43 L1127.1 195.43 L1127.21 194.43 L1127.32 193.44 L1127.44 192.44 L1127.55 191.44 L1127.67 190.45 L1127.78 189.45 L1127.9 188.45 L1128.02 187.46 L1128.14 186.46 L1128.26 185.47 L1128.39 184.47 L1128.51 183.48 L1128.64 182.48 L1128.77 181.49 L1128.89 180.5 L1129.03 179.5 L1129.16 178.51 L1129.29 177.52 L1129.43 176.53 L1129.56 175.53 L1129.7 174.54 L1129.84 173.55 L1129.98 172.56 L1130.12 171.57 L1130.27 170.58 L1130.41 169.6 L1130.56 168.61 L1130.71 167.62 L1130.86 166.63 L1131.01 165.65 L1131.17 164.66 L1131.32 163.68 L1131.48 162.69 L1131.64 161.71 L1131.8 160.72 L1131.96 159.74 L1132.13 158.76 L1132.29 157.78 L1132.46 156.8 L1132.63 155.82 L1132.8 154.84 L1132.98 153.86 L1133.15 152.88 L1133.33 151.9 L1133.51 150.93 L1133.7 149.95 L1133.88 148.98 L1134.07 148 L1134.27 147.03 L1134.46 146.06 L1134.66 145.09 L1134.86 144.12 L1135.07 143.15 L1135.28 142.18 L1135.49 141.21 L1135.71 140.24 L1135.93 139.28 L1136.16 138.31 L1136.39 137.35 L1136.62 136.39 L1136.86 135.42 L1137.11 134.46 L1137.36 133.5 L1137.62 132.54 L1137.88 131.59 L1138.15 130.63 L1138.42 129.67 L1138.7 128.72 L1138.98 127.77 L1139.27 126.81 L1139.57 125.86 L1139.87 124.91 L1140.18 123.96 L1140.49 123.02 L1140.81 122.07 L1141.14 121.12 L1141.47 120.18 L1141.8 119.24 L1142.15 118.29 L1142.49 117.35 L1142.84 116.41 L1143.2 115.48 L1143.56 114.54 L1143.93 113.6 L1144.3 112.67 L1144.67 111.74 L1145.05 110.81 L1145.43 109.88 L1145.82 108.95 L1146.21 108.02 L1146.61 107.09 L1147.01 106.17 L1147.42 105.25 L1147.83 104.33 L1148.24 103.41 L1148.66 102.49 L1149.08 101.57 L1149.5 100.66 L1149.93 99.74 L1150.37 98.84 L1150.81 97.93 L1151.26 97.03 L1151.71 96.13 L1152.17 95.23 L1152.63 94.34 L1153.1 93.45 L1153.58 92.56 L1154.06 91.68 L1154.55 90.8 L1155.05 89.93 L1155.55 89.06 L1156.06 88.2 L1156.58 87.34 L1157.11 86.49 L1157.65 85.64 L1158.19 84.8 L1158.74 83.97 L1159.3 83.14 L1159.87 82.32 L1160.45 81.5 L1161.04 80.69 L1161.63 79.89 L1162.24 79.1 L1162.85 78.31 L1163.47 77.53 L1164.1 76.76 L1164.74 75.99 L1165.39 75.24 L1166.05 74.49 L1166.71 73.75 L1167.39 73.02 L1168.07 72.3 L1168.77 71.59 L1169.47 70.88 L1170.18 70.19 L1170.9 69.51 L1171.62 68.83 L1172.36 68.17 L1173.11 67.52 L1173.86 66.88 L1174.62 66.24 L1175.4 65.62 L1176.18 65.01 L1176.96 64.41 L1177.76 63.82 L1178.56 63.24 L1179.38 62.67 L1180.2 62.11 L1181.02 61.56 L1181.86 61.02 L1182.7 60.49 L1183.54 59.97 L1184.4 59.46 L1185.26 58.95 L1186.12 58.46 L1187 57.97 L1187.87 57.49 L1188.76 57.02 L1189.64 56.56 L1190.54 56.11 L1191.43 55.67 L1192.34 55.23 L1193.24 54.8 L1194.15 54.38 L1195.07 53.96 L1195.99 53.56 L1196.91 53.16 L1197.84 52.77 L1198.77 52.38 L1199.7 52 L1200.63 51.63 L1201.57 51.27 L1202.51 50.91 L1203.45 50.56 L1204.4 50.21 L1205.34 49.87 L1206.29 49.54 L1207.24 49.21 L1208.19 48.88 L1209.14 48.57 L1210.09 48.25 L1211.05 47.95 L1212 47.65 L1212.96 47.35 L1213.91 47.06 L1214.87 46.77 L1215.83 46.49 L1216.79 46.21 L1217.75 45.94 L1218.71 45.68 L1219.67 45.41 L1220.63 45.16 L1221.6 44.9 L1222.56 44.65 L1223.53 44.41 L1224.49 44.17 L1225.46 43.93 L1226.43 43.7 L1227.4 43.48 L1228.37 43.25 L1229.34 43.03 L1230.31 42.82 L1231.28 42.61 L1232.26 42.4 L1233.23 42.19 L1234.21 41.99 L1235.18 41.8 L1236.16 41.6 L1237.14 41.41 L1238.11 41.23 L1239.09 41.04 L1240.07 40.86 L1241.05 40.69 L1242.03 40.51 L1243.02 40.34 L1244 40.18 L1244.98 40.01 L1245.97 39.85 L1246.95 39.7 L1247.94 39.55 L1248.92 39.39 L1249.91 39.25 L1250.9 39.1 L1251.89 38.96 L1252.88 38.83 L1253.87 38.69 L1254.86 38.56 L1255.85 38.43 L1256.84 38.31 L1257.83 38.19 L1258.82 38.07 L1259.82 37.95 L1260.81 37.84 L1261.81 37.73 L1262.8 37.63 L1263.8 37.52 L1264.8 37.42 L1265.79 37.33 L1266.79 37.23 L1267.79 37.14 L1268.79 37.05 L1269.79 36.97 L1270.79 36.88 L1271.79 36.8 L1272.79 36.73 L1273.79 36.65 L1274.79 36.58 L1275.8 36.51 L1276.8 36.44 L1277.8 36.38 L1278.8 36.32 L1279.81 36.26 L1280.81 36.2 L1281.81 36.15 L1282.82 36.09 L1283.82 36.04 L1284.82 36 L1285.83 35.95 L1286.83 35.91 L1287.84 35.86 L1288.84 35.83 L1289.84 35.79 L1290.85 35.75 L1291.85 35.72 L1292.85 35.69 L1293.86 35.66 L1294.86 35.63 L1295.86 35.6 L1296.86 35.57 L1297.86 35.55 L1298.87 35.53 L1299.87 35.51 L1300.87 35.49 L1301.87 35.47 L1302.87 35.45 L1303.86 35.44 L1304.86 35.43 L1305.86 35.41 L1306.86 35.4 L1307.85 35.39 L1308.85 35.38 L1309.84 35.37 L1310.84 35.37 L1311.83 35.36 L1312.82 35.35 L1313.82 35.34 L1314.81 35.33 L1315.8 35.32 L1316.78 35.3 L1317.77 35.28 L1318.76 35.26 L1319.74 35.22 L1320.73 35.18 L1321.71 35.14 L1322.69 35.08 L1323.68 35.02 L1324.66 34.94 L1325.63 34.85 L1326.61 34.75 L1327.59 34.64 L1328.56 34.52 L1329.54 34.38 L1330.51 34.22 L1331.48 34.04 L1332.45 33.81 L1333.42 33.48 L1334.38 33.03 L1335.35 32.65 L1515.45 32.65"/>
</g>
<path class="tick" d="M1116.55 450.3 v6.2 M1116.25 450.3 h-6.2 M1196.39 450.3 v6.2 M1116.25 366.76 h-6.2 M1276.23 450.3 v6.2 M1116.25 282.97 h-6.2 M1356.07 450.3 v6.2 M1116.25 199.48 h-6.2 M1435.91 450.3 v6.2 M1116.25 117.19 h-6.2 M1515.75 450.3 v6.2 M1116.25 33.6 h-6.2"/>
<rect class="sp" x="1116.25" y="33.6" width="399.2" height="416.7"/>
<text class="tk" text-anchor="middle" transform="matrix(1 0 0 1.13 1115.55 477.7)">0.0</text>
<text class="tk" text-anchor="end" transform="matrix(1 0 0 1.13 1103.05 458)">0.0</text>
<text class="tk" text-anchor="middle" transform="matrix(1 0 0 1.13 1195.39 477.7)">0.2</text>
<text class="tk" text-anchor="end" transform="matrix(1 0 0 1.13 1103.05 375)">0.2</text>
<text class="tk" text-anchor="middle" transform="matrix(1 0 0 1.13 1275.23 477.7)">0.4</text>
<text class="tk" text-anchor="end" transform="matrix(1 0 0 1.13 1103.05 292)">0.4</text>
<text class="tk" text-anchor="middle" transform="matrix(1 0 0 1.13 1355.07 477.7)">0.6</text>
<text class="tk" text-anchor="end" transform="matrix(1 0 0 1.13 1103.05 209)">0.6</text>
<text class="tk" text-anchor="middle" transform="matrix(1 0 0 1.13 1434.91 477.7)">0.8</text>
<text class="tk" text-anchor="end" transform="matrix(1 0 0 1.13 1103.05 125)">0.8</text>
<text class="tk" text-anchor="middle" transform="matrix(1 0 0 1.13 1514.75 477.7)">1.0</text>
<text class="tk" text-anchor="end" transform="matrix(1 0 0 1.13 1103.05 41.4)">1.0</text>
<text class="tt" text-anchor="middle" transform="matrix(1 0 0 0.936 1314.95 24.1)">p16-XR</text>
<text class="lb" text-anchor="middle" transform="matrix(1 0 0 0.97 1315.75 506.35)">False Positive Rate (1 - Specificity)</text>
<text class="lby" text-anchor="middle" transform="matrix(0 -1 0.98 0 1060.65 243.45)">True Positive Rate (Sensitivity)</text>
<g id="legend3">
<rect class="lf" x="1124.45" y="363" width="331" height="79" rx="3.3" ry="3.3"/>
<path class="lh" stroke="#0000ff" d="M1131.25 375.55 H1162.85"/>
<text class="lg" transform="matrix(1 0 0 0.96 1177.15 382.8)">'No CST': DC=None (AUC=0.928)</text>
<path class="lh" stroke="#ff0000" d="M1131.25 400.2 H1162.85"/>
<text class="lg" transform="matrix(1 0 0 0.96 1177.15 407.45)">CST3: α=1,DC=3 (AUC=0.968)</text>
<path class="lh" stroke="#008000" d="M1131.25 424.85 H1162.85"/>
<text class="lg" transform="matrix(1 0 0 0.96 1177.15 432.1)">DA1: DC=1 (AUC=0.952)</text>
</g>
</g>
<g id="panel4">
<g clip-path="url(#c3)">
<path class="cv" stroke="#0000ff" d="M77.55 989.35 L77.56 987.99 L77.75 987 L77.93 986.01 L78.1 985.03 L78.25 984.04 L78.4 983.05 L78.54 982.06 L78.66 981.07 L78.78 980.08 L78.88 979.09 L78.98 978.1 L79.08 977.11 L79.16 976.12 L79.24 975.13 L79.31 974.14 L79.38 973.15 L79.44 972.16 L79.49 971.16 L79.55 970.17 L79.6 969.18 L79.64 968.19 L79.69 967.2 L79.73 966.2 L79.77 965.21 L79.81 964.22 L79.85 963.23 L79.89 962.23 L79.94 961.24 L79.98 960.25 L80.02 959.25 L80.07 958.26 L80.11 957.27 L80.16 956.27 L80.21 955.28 L80.26 954.28 L80.31 953.29 L80.36 952.29 L80.42 951.3 L80.47 950.3 L80.53 949.31 L80.58 948.31 L80.64 947.32 L80.7 946.32 L80.76 945.33 L80.83 944.33 L80.89 943.34 L80.95 942.34 L81.02 941.34 L81.09 940.35 L81.15 939.35 L81.22 938.36 L81.29 937.36 L81.36 936.36 L81.44 935.37 L81.51 934.37 L81.59 933.37 L81.66 932.37 L81.74 931.38 L81.82 930.38 L81.9 929.38 L81.98 928.39 L82.06 927.39 L82.15 926.39 L82.23 925.39 L82.32 924.39 L82.4 923.4 L82.49 922.4 L82.57 921.4 L82.66 920.4 L82.75 919.4 L82.84 918.41 L82.93 917.41 L83.02 916.41 L83.11 915.41 L83.2 914.41 L83.29 913.41 L83.38 912.41 L83.47 911.42 L83.56 910.42 L83.65 909.42 L83.74 908.42 L83.83 907.42 L83.92 906.42 L84.01 905.42 L84.1 904.42 L84.19 903.43 L84.28 902.43 L84.37 901.43 L84.46 900.43 L84.54 899.43 L84.63 898.43 L84.72 897.43 L84.81 896.43 L84.89 895.43 L84.98 894.43 L85.07 893.43 L85.15 892.43 L85.24 891.44 L85.32 890.44 L85.41 889.44 L85.5 888.44 L85.58 887.44 L85.67 886.44 L85.75 885.44 L85.84 884.44 L85.92 883.44 L86.01 882.44 L86.09 881.44 L86.18 880.44 L86.26 879.44 L86.35 878.45 L86.43 877.45 L86.52 876.45 L86.6 875.45 L86.69 874.45 L86.77 873.45 L86.86 872.45 L86.94 871.45 L87.03 870.45 L87.12 869.45 L87.2 868.46 L87.29 867.46 L87.38 866.46 L87.46 865.46 L87.55 864.46 L87.64 863.46 L87.73 862.46 L87.82 861.47 L87.91 860.47 L88 859.47 L88.09 858.47 L88.18 857.47 L88.27 856.48 L88.36 855.48 L88.45 854.48 L88.54 853.48 L88.64 852.48 L88.73 851.49 L88.82 850.49 L88.92 849.49 L89.01 848.5 L89.11 847.5 L89.21 846.5 L89.3 845.5 L89.4 844.51 L89.5 843.51 L89.6 842.51 L89.7 841.52 L89.8 840.52 L89.9 839.52 L90.01 838.53 L90.11 837.53 L90.21 836.54 L90.32 835.54 L90.43 834.54 L90.53 833.55 L90.64 832.55 L90.75 831.56 L90.86 830.56 L90.97 829.57 L91.08 828.57 L91.2 827.58 L91.31 826.58 L91.42 825.59 L91.54 824.59 L91.66 823.6 L91.78 822.61 L91.9 821.61 L92.02 820.62 L92.14 819.63 L92.26 818.63 L92.39 817.64 L92.51 816.65 L92.64 815.65 L92.77 814.66 L92.89 813.67 L93.02 812.67 L93.16 811.68 L93.29 810.69 L93.42 809.7 L93.55 808.71 L93.69 807.72 L93.82 806.72 L93.96 805.73 L94.1 804.74 L94.24 803.75 L94.38 802.76 L94.52 801.77 L94.66 800.78 L94.8 799.79 L94.94 798.8 L95.08 797.81 L95.23 796.82 L95.37 795.83 L95.52 794.85 L95.66 793.86 L95.81 792.87 L95.96 791.88 L96.11 790.89 L96.25 789.91 L96.4 788.92 L96.55 787.93 L96.7 786.94 L96.85 785.96 L97 784.97 L97.16 783.98 L97.31 783 L97.46 782.01 L97.61 781.03 L97.77 780.04 L97.92 779.06 L98.07 778.07 L98.23 777.09 L98.38 776.1 L98.54 775.12 L98.69 774.14 L98.85 773.15 L99 772.17 L99.16 771.19 L99.32 770.21 L99.48 769.22 L99.64 768.24 L99.8 767.26 L99.96 766.28 L100.13 765.3 L100.29 764.32 L100.45 763.34 L100.62 762.36 L100.79 761.38 L100.96 760.4 L101.13 759.42 L101.3 758.44 L101.47 757.46 L101.65 756.48 L101.82 755.5 L102 754.53 L102.18 753.55 L102.36 752.57 L102.55 751.59 L102.73 750.62 L102.92 749.64 L103.11 748.67 L103.3 747.69 L103.49 746.72 L103.69 745.74 L103.88 744.77 L104.08 743.79 L104.29 742.82 L104.49 741.84 L104.7 740.87 L104.91 739.9 L105.12 738.93 L105.33 737.95 L105.55 736.98 L105.76 736.01 L105.98 735.04 L106.21 734.07 L106.43 733.1 L106.66 732.13 L106.89 731.16 L107.12 730.19 L107.35 729.22 L107.59 728.25 L107.83 727.29 L108.07 726.32 L108.31 725.35 L108.56 724.39 L108.8 723.42 L109.05 722.45 L109.31 721.49 L109.56 720.52 L109.82 719.56 L110.08 718.59 L110.34 717.63 L110.61 716.67 L110.87 715.7 L111.14 714.74 L111.41 713.78 L111.69 712.81 L111.96 711.85 L112.24 710.89 L112.52 709.93 L112.81 708.97 L113.09 708.01 L113.38 707.05 L113.67 706.09 L113.97 705.13 L114.26 704.18 L114.56 703.22 L114.86 702.26 L115.17 701.3 L115.47 700.35 L115.78 699.39 L116.09 698.44 L116.41 697.48 L116.72 696.53 L117.04 695.57 L117.37 694.62 L117.69 693.67 L118.02 692.71 L118.34 691.76 L118.68 690.81 L119.01 689.86 L119.35 688.91 L119.69 687.96 L120.03 687.01 L120.37 686.06 L120.72 685.11 L121.07 684.16 L121.42 683.21 L121.78 682.27 L122.14 681.32 L122.5 680.38 L122.87 679.44 L123.24 678.5 L123.62 677.56 L124 676.63 L124.39 675.7 L124.78 674.77 L125.18 673.84 L125.58 672.92 L125.99 672 L126.41 671.09 L126.83 670.18 L127.26 669.27 L127.7 668.37 L128.14 667.47 L128.59 666.58 L129.05 665.69 L129.52 664.81 L129.99 663.94 L130.48 663.07 L130.97 662.21 L131.48 661.35 L131.99 660.5 L132.51 659.66 L133.04 658.83 L133.58 658 L134.14 657.18 L134.7 656.37 L135.27 655.56 L135.86 654.77 L136.45 653.98 L137.06 653.2 L137.68 652.43 L138.3 651.66 L138.94 650.91 L139.58 650.15 L140.22 649.4 L140.88 648.66 L141.53 647.92 L142.2 647.18 L142.86 646.44 L143.52 645.7 L144.19 644.97 L144.86 644.23 L145.52 643.5 L146.19 642.76 L146.85 642.02 L147.52 641.28 L148.18 640.54 L148.84 639.8 L149.5 639.06 L150.17 638.33 L150.83 637.59 L151.5 636.85 L152.17 636.11 L152.84 635.38 L153.51 634.65 L154.18 633.92 L154.86 633.19 L155.54 632.46 L156.23 631.74 L156.92 631.02 L157.61 630.3 L158.31 629.59 L159.01 628.88 L159.72 628.18 L160.43 627.48 L161.15 626.78 L161.87 626.08 L162.59 625.39 L163.32 624.7 L164.05 624.02 L164.78 623.34 L165.52 622.66 L166.27 621.99 L167.01 621.32 L167.77 620.66 L168.52 620 L169.28 619.34 L170.04 618.69 L170.81 618.04 L171.58 617.4 L172.35 616.76 L173.13 616.12 L173.91 615.49 L174.7 614.86 L175.49 614.24 L176.28 613.62 L177.07 613.01 L177.87 612.4 L178.68 611.79 L179.48 611.19 L180.29 610.6 L181.1 610.01 L181.92 609.42 L182.74 608.84 L183.56 608.26 L184.39 607.69 L185.22 607.12 L186.05 606.56 L186.89 606 L187.72 605.45 L188.57 604.9 L189.41 604.36 L190.26 603.82 L191.11 603.29 L191.96 602.76 L192.82 602.24 L193.68 601.72 L194.54 601.21 L195.41 600.7 L196.28 600.2 L197.15 599.71 L198.02 599.22 L198.9 598.73 L199.78 598.25 L200.66 597.78 L201.55 597.31 L202.43 596.85 L203.32 596.39 L204.22 595.94 L205.11 595.5 L206.01 595.06 L206.91 594.62 L207.81 594.2 L208.71 593.77 L209.62 593.36 L210.53 592.95 L211.44 592.54 L212.36 592.15 L213.27 591.76 L214.19 591.37 L215.11 590.99 L216.04 590.62 L216.96 590.25 L217.89 589.89 L218.82 589.54 L219.75 589.19 L220.68 588.84 L221.62 588.51 L222.55 588.18 L223.49 587.85 L224.44 587.54 L225.38 587.22 L226.32 586.92 L227.27 586.62 L228.22 586.32 L229.17 586.04 L230.12 585.75 L231.07 585.48 L232.03 585.21 L232.99 584.94 L233.94 584.69 L234.91 584.43 L235.87 584.19 L236.83 583.95 L237.8 583.71 L238.76 583.49 L239.73 583.26 L240.7 583.05 L241.67 582.84 L242.64 582.63 L243.61 582.43 L244.59 582.24 L245.57 582.05 L246.54 581.87 L247.52 581.7 L248.5 581.53 L249.48 581.36 L250.46 581.21 L251.45 581.05 L252.43 580.91 L253.42 580.76 L254.4 580.63 L255.39 580.49 L256.38 580.36 L257.37 580.23 L258.36 580.11 L259.35 579.99 L260.34 579.87 L261.33 579.76 L262.33 579.65 L263.32 579.54 L264.31 579.43 L265.31 579.32 L266.31 579.22 L267.3 579.11 L268.3 579.01 L269.3 578.91 L270.3 578.8 L271.3 578.7 L272.3 578.59 L273.3 578.49 L274.3 578.38 L275.3 578.28 L276.3 578.17 L277.3 578.06 L278.31 577.95 L279.31 577.83 L280.31 577.72 L281.32 577.6 L282.32 577.48 L283.32 577.36 L284.33 577.24 L285.33 577.13 L286.34 577.01 L287.34 576.89 L288.35 576.77 L289.35 576.65 L290.36 576.53 L291.36 576.41 L292.36 576.3 L293.37 576.18 L294.37 576.07 L295.38 575.96 L296.38 575.85 L297.38 575.74 L298.39 575.64 L299.39 575.54 L300.4 575.44 L301.4 575.35 L302.4 575.26 L303.4 575.17 L304.4 575.09 L305.41 575.01 L306.41 574.94 L307.41 574.87 L308.41 574.8 L309.41 574.75 L310.41 574.69 L311.4 574.64 L312.4 574.6 L313.4 574.55 L314.4 574.51 L315.39 574.47 L316.39 574.43 L317.38 574.4 L318.37 574.36 L319.37 574.32 L320.36 574.28 L321.35 574.23 L322.34 574.19 L323.33 574.14 L324.32 574.09 L325.3 574.03 L326.29 573.96 L327.28 573.89 L328.26 573.82 L329.24 573.73 L330.22 573.64 L331.21 573.54 L332.19 573.43 L333.16 573.31 L334.14 573.18 L335.12 573.04 L336.09 572.89 L337.06 572.72 L338.04 572.54 L339.01 572.35 L339.98 572.14 L340.94 571.92 L341.91 571.69 L477.75 571.65"/>
<path class="cv" stroke="#ff0000" d="M77.55 989.35 L77.55 864.99 L77.66 864 L77.76 863.01 L77.86 862.02 L77.95 861.03 L78.04 860.04 L78.13 859.05 L78.22 858.06 L78.31 857.07 L78.39 856.08 L78.47 855.08 L78.55 854.09 L78.62 853.1 L78.69 852.11 L78.76 851.11 L78.83 850.12 L78.9 849.13 L78.96 848.13 L79.02 847.14 L79.09 846.14 L79.14 845.15 L79.2 844.15 L79.25 843.16 L79.31 842.16 L79.36 841.17 L79.41 840.17 L79.46 839.17 L79.5 838.18 L79.55 837.18 L79.59 836.18 L79.64 835.19 L79.68 834.19 L79.72 833.19 L79.76 832.19 L79.8 831.2 L79.83 830.2 L79.87 829.2 L79.9 828.2 L79.94 827.2 L79.97 826.2 L80.01 825.2 L80.04 824.21 L80.07 823.21 L80.1 822.21 L80.13 821.21 L80.16 820.21 L80.19 819.21 L80.22 818.21 L80.25 817.21 L80.28 816.21 L80.31 815.21 L80.33 814.21 L80.36 813.21 L80.39 812.21 L80.42 811.2 L80.45 810.2 L80.48 809.2 L80.51 808.2 L80.54 807.2 L80.57 806.2 L80.6 805.2 L80.63 804.2 L80.66 803.2 L80.69 802.2 L80.72 801.19 L80.76 800.19 L80.79 799.19 L80.82 798.19 L80.86 797.19 L80.9 796.19 L80.93 795.19 L80.97 794.18 L81.01 793.18 L81.05 792.18 L81.09 791.18 L81.14 790.18 L81.18 789.18 L81.23 788.17 L81.27 787.17 L81.32 786.17 L81.37 785.17 L81.42 784.17 L81.48 783.17 L81.53 782.17 L81.59 781.16 L81.65 780.16 L81.71 779.16 L81.77 778.16 L81.83 777.16 L81.9 776.16 L81.96 775.16 L82.03 774.16 L82.1 773.16 L82.17 772.16 L82.24 771.16 L82.32 770.16 L82.39 769.16 L82.47 768.16 L82.55 767.16 L82.63 766.16 L82.71 765.16 L82.79 764.16 L82.87 763.16 L82.96 762.16 L83.04 761.16 L83.13 760.16 L83.22 759.16 L83.31 758.16 L83.4 757.16 L83.49 756.16 L83.58 755.17 L83.67 754.17 L83.77 753.17 L83.86 752.17 L83.96 751.17 L84.06 750.18 L84.16 749.18 L84.26 748.18 L84.36 747.19 L84.46 746.19 L84.57 745.19 L84.67 744.2 L84.77 743.2 L84.88 742.21 L84.99 741.21 L85.09 740.22 L85.2 739.22 L85.31 738.23 L85.42 737.23 L85.53 736.24 L85.64 735.24 L85.76 734.25 L85.87 733.26 L85.98 732.26 L86.1 731.27 L86.21 730.28 L86.33 729.29 L86.45 728.29 L86.56 727.3 L86.68 726.31 L86.8 725.32 L86.92 724.33 L87.04 723.34 L87.16 722.35 L87.29 721.36 L87.41 720.37 L87.54 719.38 L87.66 718.39 L87.79 717.41 L87.92 716.42 L88.06 715.43 L88.19 714.44 L88.32 713.46 L88.46 712.47 L88.6 711.49 L88.74 710.5 L88.88 709.51 L89.03 708.53 L89.17 707.55 L89.32 706.56 L89.47 705.58 L89.62 704.59 L89.78 703.61 L89.94 702.63 L90.1 701.65 L90.26 700.67 L90.43 699.69 L90.59 698.7 L90.76 697.72 L90.94 696.75 L91.11 695.77 L91.29 694.79 L91.48 693.81 L91.66 692.83 L91.85 691.85 L92.04 690.88 L92.24 689.9 L92.43 688.93 L92.63 687.95 L92.84 686.98 L93.05 686 L93.26 685.03 L93.47 684.05 L93.69 683.08 L93.91 682.11 L94.14 681.14 L94.37 680.17 L94.6 679.2 L94.83 678.22 L95.07 677.26 L95.31 676.29 L95.55 675.32 L95.8 674.35 L96.05 673.38 L96.3 672.42 L96.56 671.45 L96.82 670.48 L97.08 669.52 L97.35 668.56 L97.61 667.59 L97.89 666.63 L98.16 665.67 L98.44 664.7 L98.72 663.74 L99 662.78 L99.29 661.82 L99.58 660.86 L99.87 659.9 L100.17 658.94 L100.46 657.99 L100.77 657.03 L101.07 656.07 L101.38 655.12 L101.69 654.16 L102 653.21 L102.31 652.26 L102.63 651.3 L102.95 650.35 L103.27 649.4 L103.6 648.45 L103.93 647.5 L104.26 646.55 L104.59 645.6 L104.93 644.65 L105.27 643.71 L105.62 642.76 L105.96 641.82 L106.31 640.87 L106.67 639.93 L107.03 638.99 L107.39 638.06 L107.76 637.12 L108.13 636.19 L108.51 635.26 L108.9 634.34 L109.29 633.42 L109.68 632.5 L110.08 631.58 L110.49 630.67 L110.9 629.76 L111.32 628.85 L111.75 627.95 L112.19 627.06 L112.63 626.17 L113.08 625.28 L113.53 624.4 L114 623.52 L114.47 622.65 L114.95 621.78 L115.44 620.92 L115.94 620.07 L116.45 619.22 L116.97 618.37 L117.49 617.54 L118.03 616.71 L118.58 615.88 L119.13 615.07 L119.7 614.26 L120.28 613.46 L120.86 612.66 L121.46 611.87 L122.07 611.09 L122.69 610.32 L123.32 609.56 L123.96 608.8 L124.61 608.05 L125.27 607.31 L125.94 606.58 L126.62 605.85 L127.31 605.14 L128.01 604.43 L128.72 603.73 L129.43 603.03 L130.16 602.35 L130.89 601.67 L131.64 601.01 L132.39 600.35 L133.14 599.7 L133.91 599.06 L134.69 598.43 L135.47 597.8 L136.26 597.19 L137.05 596.58 L137.86 595.99 L138.67 595.4 L139.49 594.82 L140.31 594.25 L141.14 593.69 L141.98 593.14 L142.82 592.6 L143.67 592.07 L144.53 591.55 L145.39 591.04 L146.26 590.53 L147.13 590.04 L148.01 589.56 L148.89 589.09 L149.78 588.62 L150.67 588.17 L151.57 587.73 L152.47 587.29 L153.38 586.87 L154.29 586.46 L155.21 586.06 L156.13 585.66 L157.05 585.28 L157.97 584.91 L158.91 584.54 L159.84 584.19 L160.78 583.84 L161.72 583.5 L162.66 583.17 L163.61 582.85 L164.56 582.54 L165.51 582.24 L166.47 581.95 L167.43 581.66 L168.39 581.38 L169.35 581.11 L170.32 580.84 L171.29 580.59 L172.26 580.34 L173.23 580.1 L174.21 579.86 L175.18 579.63 L176.16 579.41 L177.14 579.19 L178.12 578.99 L179.11 578.78 L180.09 578.59 L181.08 578.4 L182.06 578.21 L183.05 578.03 L184.04 577.86 L185.03 577.69 L186.02 577.53 L187.01 577.37 L188 577.21 L188.99 577.07 L189.98 576.92 L190.97 576.78 L191.96 576.65 L192.95 576.51 L193.95 576.39 L194.94 576.26 L195.93 576.14 L196.92 576.03 L197.91 575.92 L198.91 575.81 L199.9 575.7 L200.89 575.6 L201.88 575.5 L202.87 575.4 L203.87 575.3 L204.86 575.21 L205.85 575.12 L206.85 575.03 L207.84 574.94 L208.83 574.86 L209.83 574.77 L210.82 574.69 L211.81 574.61 L212.81 574.53 L213.8 574.45 L214.79 574.37 L215.79 574.29 L216.78 574.22 L217.77 574.14 L218.77 574.07 L219.76 573.99 L220.76 573.91 L221.75 573.84 L222.75 573.76 L223.74 573.69 L224.74 573.61 L225.73 573.53 L226.72 573.45 L227.72 573.37 L228.71 573.29 L229.71 573.21 L230.71 573.12 L231.7 573.04 L232.7 572.95 L233.69 572.86 L234.69 572.77 L235.68 572.67 L236.68 572.58 L237.67 572.48 L238.67 572.38 L239.67 572.27 L240.66 572.16 L241.66 572.05 L242.66 571.94 L243.65 571.82 L244.65 571.7 L477.75 571.65"/>
<path class="cv" stroke="#008000" d="M77.55 989.35 L77.56 935 L77.74 934.01 L77.91 933.02 L78.07 932.03 L78.22 931.04 L78.37 930.05 L78.51 929.06 L78.65 928.07 L78.78 927.09 L78.9 926.1 L79.02 925.11 L79.13 924.11 L79.23 923.12 L79.33 922.13 L79.43 921.14 L79.52 920.15 L79.61 919.16 L79.69 918.17 L79.77 917.18 L79.85 916.18 L79.92 915.19 L79.98 914.2 L80.05 913.21 L80.11 912.21 L80.17 911.22 L80.23 910.23 L80.28 909.23 L80.33 908.24 L80.38 907.24 L80.43 906.25 L80.48 905.26 L80.52 904.26 L80.57 903.27 L80.61 902.27 L80.65 901.28 L80.69 900.28 L80.73 899.29 L80.77 898.29 L80.81 897.29 L80.85 896.3 L80.89 895.3 L80.92 894.31 L80.96 893.31 L80.99 892.31 L81.03 891.32 L81.06 890.32 L81.1 889.32 L81.13 888.32 L81.17 887.33 L81.2 886.33 L81.24 885.33 L81.27 884.33 L81.31 883.34 L81.35 882.34 L81.38 881.34 L81.42 880.34 L81.46 879.34 L81.5 878.35 L81.54 877.35 L81.58 876.35 L81.62 875.35 L81.66 874.35 L81.7 873.35 L81.74 872.35 L81.79 871.35 L81.83 870.35 L81.88 869.36 L81.93 868.36 L81.97 867.36 L82.02 866.36 L82.07 865.36 L82.12 864.36 L82.17 863.36 L82.22 862.36 L82.28 861.36 L82.33 860.36 L82.38 859.36 L82.44 858.36 L82.49 857.36 L82.55 856.36 L82.6 855.36 L82.66 854.36 L82.72 853.36 L82.78 852.36 L82.83 851.36 L82.89 850.36 L82.95 849.36 L83.01 848.36 L83.08 847.35 L83.14 846.35 L83.2 845.35 L83.26 844.35 L83.33 843.35 L83.39 842.35 L83.46 841.35 L83.52 840.35 L83.59 839.35 L83.65 838.35 L83.72 837.35 L83.79 836.35 L83.86 835.35 L83.93 834.35 L84 833.35 L84.07 832.35 L84.14 831.34 L84.21 830.34 L84.28 829.34 L84.35 828.34 L84.43 827.34 L84.5 826.34 L84.57 825.34 L84.65 824.34 L84.72 823.34 L84.8 822.34 L84.88 821.34 L84.95 820.34 L85.03 819.34 L85.11 818.34 L85.19 817.34 L85.27 816.34 L85.35 815.34 L85.43 814.34 L85.51 813.34 L85.59 812.34 L85.67 811.34 L85.75 810.34 L85.84 809.34 L85.92 808.34 L86 807.34 L86.09 806.34 L86.17 805.34 L86.26 804.35 L86.35 803.35 L86.43 802.35 L86.52 801.35 L86.61 800.35 L86.7 799.35 L86.79 798.35 L86.88 797.35 L86.97 796.36 L87.06 795.36 L87.15 794.36 L87.24 793.36 L87.33 792.36 L87.42 791.37 L87.52 790.37 L87.61 789.37 L87.7 788.37 L87.8 787.38 L87.89 786.38 L87.99 785.38 L88.09 784.39 L88.18 783.39 L88.28 782.39 L88.38 781.4 L88.48 780.4 L88.58 779.41 L88.68 778.41 L88.78 777.41 L88.88 776.42 L88.98 775.42 L89.08 774.43 L89.18 773.43 L89.29 772.44 L89.39 771.44 L89.5 770.45 L89.6 769.46 L89.71 768.46 L89.81 767.47 L89.92 766.47 L90.03 765.48 L90.14 764.49 L90.25 763.5 L90.36 762.5 L90.47 761.51 L90.59 760.52 L90.7 759.53 L90.81 758.53 L90.93 757.54 L91.05 756.55 L91.16 755.56 L91.28 754.57 L91.4 753.58 L91.52 752.59 L91.64 751.6 L91.76 750.61 L91.89 749.62 L92.01 748.63 L92.14 747.64 L92.26 746.65 L92.39 745.66 L92.52 744.67 L92.65 743.68 L92.78 742.69 L92.91 741.71 L93.05 740.72 L93.18 739.73 L93.32 738.74 L93.45 737.76 L93.59 736.77 L93.73 735.79 L93.87 734.8 L94.01 733.81 L94.16 732.83 L94.3 731.84 L94.45 730.86 L94.6 729.87 L94.74 728.89 L94.89 727.91 L95.05 726.92 L95.2 725.94 L95.35 724.96 L95.51 723.97 L95.67 722.99 L95.83 722.01 L95.99 721.03 L96.15 720.05 L96.31 719.07 L96.48 718.09 L96.64 717.11 L96.81 716.13 L96.98 715.15 L97.15 714.17 L97.33 713.19 L97.5 712.21 L97.68 711.23 L97.86 710.25 L98.04 709.27 L98.22 708.3 L98.41 707.32 L98.59 706.34 L98.78 705.37 L98.97 704.39 L99.17 703.42 L99.36 702.44 L99.56 701.47 L99.76 700.49 L99.96 699.52 L100.17 698.55 L100.38 697.57 L100.59 696.6 L100.8 695.63 L101.01 694.66 L101.23 693.68 L101.45 692.71 L101.68 691.74 L101.9 690.77 L102.13 689.8 L102.36 688.83 L102.6 687.86 L102.83 686.9 L103.07 685.93 L103.32 684.96 L103.56 683.99 L103.81 683.02 L104.07 682.06 L104.32 681.09 L104.58 680.13 L104.84 679.16 L105.11 678.2 L105.38 677.23 L105.65 676.27 L105.93 675.31 L106.2 674.34 L106.49 673.38 L106.77 672.42 L107.06 671.46 L107.36 670.5 L107.65 669.53 L107.95 668.57 L108.26 667.61 L108.57 666.66 L108.88 665.7 L109.2 664.74 L109.52 663.78 L109.84 662.83 L110.17 661.88 L110.5 660.92 L110.84 659.97 L111.18 659.02 L111.53 658.07 L111.88 657.13 L112.24 656.18 L112.6 655.24 L112.97 654.3 L113.34 653.36 L113.71 652.42 L114.09 651.49 L114.48 650.55 L114.87 649.62 L115.27 648.7 L115.67 647.77 L116.08 646.85 L116.49 645.93 L116.91 645.02 L117.33 644.1 L117.76 643.19 L118.2 642.29 L118.64 641.38 L119.09 640.48 L119.55 639.59 L120.01 638.7 L120.47 637.81 L120.95 636.92 L121.43 636.04 L121.91 635.16 L122.4 634.29 L122.9 633.42 L123.41 632.56 L123.92 631.7 L124.44 630.85 L124.97 630 L125.5 629.15 L126.04 628.31 L126.59 627.48 L127.15 626.65 L127.71 625.83 L128.28 625.01 L128.86 624.2 L129.44 623.4 L130.03 622.6 L130.63 621.8 L131.24 621.02 L131.86 620.24 L132.48 619.47 L133.12 618.7 L133.76 617.94 L134.4 617.19 L135.06 616.45 L135.73 615.71 L136.4 614.98 L137.08 614.26 L137.77 613.54 L138.46 612.83 L139.17 612.13 L139.88 611.44 L140.6 610.75 L141.32 610.08 L142.05 609.4 L142.79 608.74 L143.54 608.08 L144.29 607.43 L145.05 606.79 L145.82 606.16 L146.59 605.53 L147.37 604.91 L148.16 604.3 L148.95 603.69 L149.74 603.09 L150.55 602.5 L151.36 601.92 L152.17 601.34 L152.99 600.78 L153.82 600.22 L154.65 599.66 L155.49 599.12 L156.33 598.58 L157.17 598.05 L158.02 597.52 L158.88 597.01 L159.74 596.5 L160.61 596 L161.48 595.5 L162.35 595.02 L163.23 594.54 L164.11 594.07 L165 593.6 L165.89 593.15 L166.78 592.7 L167.68 592.26 L168.58 591.82 L169.48 591.4 L170.39 590.98 L171.3 590.57 L172.22 590.17 L173.13 589.77 L174.06 589.38 L174.98 589 L175.9 588.63 L176.83 588.26 L177.76 587.9 L178.7 587.55 L179.63 587.2 L180.57 586.87 L181.52 586.54 L182.46 586.21 L183.41 585.89 L184.35 585.58 L185.31 585.28 L186.26 584.98 L187.21 584.69 L188.17 584.4 L189.13 584.12 L190.09 583.85 L191.06 583.59 L192.02 583.32 L192.99 583.07 L193.96 582.82 L194.93 582.58 L195.9 582.34 L196.88 582.11 L197.85 581.88 L198.83 581.66 L199.81 581.44 L200.79 581.23 L201.77 581.03 L202.75 580.83 L203.74 580.63 L204.72 580.44 L205.71 580.26 L206.7 580.08 L207.69 579.9 L208.68 579.73 L209.67 579.56 L210.66 579.4 L211.65 579.24 L212.64 579.09 L213.64 578.94 L214.63 578.79 L215.63 578.65 L216.62 578.51 L217.62 578.38 L218.62 578.25 L219.61 578.12 L220.61 578 L221.61 577.88 L222.61 577.77 L223.6 577.66 L224.6 577.55 L225.6 577.44 L226.6 577.34 L227.6 577.24 L228.59 577.15 L229.59 577.05 L230.59 576.96 L231.59 576.88 L232.59 576.79 L233.58 576.71 L234.58 576.63 L235.58 576.55 L236.58 576.48 L237.57 576.4 L238.57 576.33 L239.57 576.27 L240.57 576.2 L241.56 576.13 L242.56 576.07 L243.56 576.01 L244.55 575.95 L245.55 575.89 L246.55 575.84 L247.54 575.78 L248.54 575.73 L249.54 575.68 L250.53 575.62 L251.53 575.57 L252.53 575.52 L253.52 575.48 L254.52 575.43 L255.52 575.38 L256.51 575.33 L257.51 575.29 L258.5 575.24 L259.5 575.2 L260.5 575.15 L261.49 575.11 L262.49 575.06 L263.48 575.02 L264.48 574.97 L265.47 574.93 L266.47 574.88 L267.46 574.84 L268.46 574.79 L269.45 574.74 L270.45 574.7 L271.44 574.65 L272.44 574.6 L273.43 574.55 L274.43 574.5 L275.42 574.45 L276.42 574.39 L277.41 574.34 L278.41 574.29 L279.4 574.23 L280.4 574.17 L281.39 574.11 L282.39 574.05 L283.38 573.98 L284.38 573.92 L285.37 573.85 L286.37 573.77 L287.36 573.7 L288.35 573.62 L289.35 573.54 L290.34 573.45 L291.34 573.36 L292.33 573.27 L293.32 573.17 L294.32 573.07 L295.31 572.97 L296.31 572.86 L297.3 572.74 L298.29 572.62 L299.29 572.5 L300.28 572.36 L301.28 572.23 L302.27 572.09 L303.26 571.94 L304.26 571.78 L305.25 571.65 L477.75 571.65"/>
</g>
<path class="tick" d="M77.8 989.35 v6.2 M78.5 989.35 h-6.2 M157.65 989.35 v6.2 M78.5 905.8 h-6.2 M237.5 989.35 v6.2 M78.5 822 h-6.2 M317.35 989.35 v6.2 M78.5 738.5 h-6.2 M397.2 989.35 v6.2 M78.5 656.2 h-6.2 M477.05 989.35 v6.2 M78.5 572.6 h-6.2"/>
<rect class="sp" x="78.5" y="572.6" width="399.25" height="416.75"/>
<text class="tk" text-anchor="middle" transform="matrix(1 0 0 1.13 76.8 1016.75)">0.0</text>
<text class="tk" text-anchor="end" transform="matrix(1 0 0 1.13 65.3 997.05)">0.0</text>
<text class="tk" text-anchor="middle" transform="matrix(1 0 0 1.13 156.65 1016.75)">0.2</text>
<text class="tk" text-anchor="end" transform="matrix(1 0 0 1.13 65.3 914.04)">0.2</text>
<text class="tk" text-anchor="middle" transform="matrix(1 0 0 1.13 236.5 1016.75)">0.4</text>
<text class="tk" text-anchor="end" transform="matrix(1 0 0 1.13 65.3 831.03)">0.4</text>
<text class="tk" text-anchor="middle" transform="matrix(1 0 0 1.13 316.35 1016.75)">0.6</text>
<text class="tk" text-anchor="end" transform="matrix(1 0 0 1.13 65.3 748.02)">0.6</text>
<text class="tk" text-anchor="middle" transform="matrix(1 0 0 1.13 396.2 1016.75)">0.8</text>
<text class="tk" text-anchor="end" transform="matrix(1 0 0 1.13 65.3 664.01)">0.8</text>
<text class="tk" text-anchor="middle" transform="matrix(1 0 0 1.13 476.05 1016.75)">1.0</text>
<text class="tk" text-anchor="end" transform="matrix(1 0 0 1.13 65.3 580.4)">1.0</text>
<text class="tt" text-anchor="middle" transform="matrix(1 0 0 0.936 277.23 562.3)">p16-S360</text>
<text class="lb" text-anchor="middle" transform="matrix(1 0 0 0.97 276.52 1046)">False Positive Rate (1 - Specificity)</text>
<text class="lby" text-anchor="middle" transform="matrix(0 -1 0.98 0 22.5 782.48)">True Positive Rate (Sensitivity)</text>
<g id="legend4">
<rect class="lf" x="86.7" y="902.05" width="331" height="79" rx="3.3" ry="3.3"/>
<path class="lh" stroke="#0000ff" d="M92.2 914.6 H125.1"/>
<text class="lg" transform="matrix(1 0 0 0.96 137.7 921.85)">'No CST': DC=None (AUC=0.905)</text>
<path class="lh" stroke="#ff0000" d="M92.2 939.25 H125.1"/>
<text class="lg" transform="matrix(1 0 0 0.96 137.7 946.5)">CST2: α=1,DC=2 (AUC=0.962)</text>
<path class="lh" stroke="#008000" d="M92.2 963.9 H125.1"/>
<text class="lg" transform="matrix(1 0 0 0.96 137.7 971.15)">DA4: DC=4* (AUC=0.941)</text>
</g>
</g>
<g id="panel5">
<g clip-path="url(#c4)">
<path class="cv" stroke="#0000ff" d="M595.85 989.35 L595.85 890 L595.88 889 L595.91 888 L595.94 887 L595.97 886 L596 885 L596.03 884 L596.06 883 L596.08 882 L596.11 881 L596.14 880 L596.17 879 L596.2 878 L596.22 877 L596.25 876 L596.28 875 L596.3 874 L596.33 873 L596.35 872 L596.38 871 L596.4 870 L596.43 869 L596.45 868 L596.48 867 L596.5 866 L596.52 865 L596.55 864 L596.57 863 L596.59 862 L596.62 861 L596.64 860 L596.66 859 L596.69 858 L596.71 857 L596.73 856 L596.75 855 L596.77 854 L596.8 853 L596.82 851.99 L596.84 850.99 L596.86 849.99 L596.88 848.99 L596.9 847.99 L596.92 846.99 L596.94 845.99 L596.96 844.99 L596.98 843.99 L597 842.99 L597.02 841.99 L597.04 840.99 L597.06 839.99 L597.08 838.99 L597.1 837.99 L597.12 836.99 L597.14 835.99 L597.16 834.99 L597.18 833.99 L597.2 832.99 L597.22 831.99 L597.24 830.99 L597.26 829.99 L597.27 828.99 L597.29 827.99 L597.31 826.99 L597.33 825.99 L597.35 824.99 L597.37 823.99 L597.39 822.99 L597.41 821.99 L597.43 820.99 L597.44 819.99 L597.46 818.99 L597.48 817.99 L597.5 816.99 L597.52 815.99 L597.54 814.99 L597.56 813.99 L597.58 812.99 L597.6 811.99 L597.61 810.99 L597.63 809.99 L597.65 808.99 L597.67 807.99 L597.69 806.99 L597.71 805.99 L597.73 804.99 L597.75 803.99 L597.77 802.99 L597.79 801.99 L597.81 800.99 L597.83 799.99 L597.85 799 L597.87 798 L597.89 797 L597.91 796 L597.93 795 L597.95 794 L597.97 793 L597.99 792 L598.01 791 L598.03 790 L598.05 789 L598.08 788 L598.1 787 L598.12 786 L598.14 785 L598.16 784 L598.18 783 L598.21 782 L598.23 781 L598.25 780.01 L598.28 779.01 L598.3 778.01 L598.32 777.01 L598.35 776.01 L598.37 775.01 L598.39 774.01 L598.42 773.01 L598.44 772.01 L598.47 771.01 L598.49 770.01 L598.52 769.01 L598.54 768.02 L598.57 767.02 L598.59 766.02 L598.62 765.02 L598.65 764.02 L598.67 763.02 L598.7 762.02 L598.73 761.02 L598.76 760.02 L598.78 759.03 L598.81 758.03 L598.84 757.03 L598.87 756.03 L598.9 755.03 L598.93 754.03 L598.96 753.03 L598.99 752.04 L599.02 751.04 L599.05 750.04 L599.08 749.04 L599.11 748.04 L599.15 747.04 L599.18 746.05 L599.21 745.05 L599.24 744.05 L599.28 743.05 L599.31 742.05 L599.35 741.05 L599.38 740.06 L599.42 739.06 L599.45 738.06 L599.49 737.06 L599.52 736.06 L599.56 735.07 L599.6 734.07 L599.63 733.07 L599.67 732.07 L599.71 731.07 L599.75 730.08 L599.79 729.08 L599.83 728.08 L599.87 727.08 L599.91 726.09 L599.95 725.09 L599.99 724.09 L600.03 723.09 L600.08 722.1 L600.12 721.1 L600.16 720.1 L600.21 719.1 L600.25 718.11 L600.3 717.11 L600.34 716.11 L600.39 715.11 L600.44 714.12 L600.49 713.12 L600.54 712.12 L600.58 711.13 L600.63 710.13 L600.69 709.13 L600.74 708.14 L600.79 707.14 L600.84 706.14 L600.9 705.15 L600.95 704.15 L601.01 703.15 L601.07 702.16 L601.12 701.16 L601.18 700.16 L601.24 699.17 L601.31 698.17 L601.37 697.17 L601.43 696.18 L601.5 695.18 L601.56 694.18 L601.63 693.19 L601.7 692.19 L601.76 691.2 L601.83 690.2 L601.91 689.2 L601.98 688.21 L602.05 687.21 L602.13 686.22 L602.21 685.22 L602.28 684.22 L602.36 683.23 L602.44 682.23 L602.53 681.24 L602.61 680.24 L602.7 679.25 L602.78 678.25 L602.87 677.26 L602.96 676.26 L603.05 675.26 L603.14 674.27 L603.24 673.27 L603.33 672.28 L603.43 671.28 L603.53 670.29 L603.63 669.29 L603.74 668.3 L603.84 667.3 L603.95 666.31 L604.06 665.32 L604.17 664.32 L604.28 663.33 L604.39 662.33 L604.51 661.34 L604.63 660.34 L604.75 659.35 L604.87 658.35 L604.99 657.36 L605.12 656.37 L605.24 655.37 L605.37 654.38 L605.5 653.38 L605.64 652.39 L605.77 651.4 L605.91 650.4 L606.05 649.41 L606.19 648.41 L606.34 647.42 L606.49 646.43 L606.64 645.43 L606.79 644.44 L606.94 643.45 L607.1 642.45 L607.26 641.46 L607.42 640.47 L607.59 639.48 L607.76 638.49 L607.93 637.5 L608.1 636.51 L608.28 635.52 L608.46 634.53 L608.65 633.54 L608.84 632.55 L609.03 631.56 L609.22 630.57 L609.42 629.59 L609.63 628.6 L609.83 627.61 L610.04 626.63 L610.26 625.65 L610.48 624.66 L610.7 623.68 L610.93 622.7 L611.16 621.72 L611.4 620.74 L611.64 619.76 L611.88 618.78 L612.13 617.81 L612.39 616.83 L612.65 615.86 L612.91 614.88 L613.18 613.91 L613.46 612.94 L613.74 611.98 L614.03 611.01 L614.33 610.05 L614.63 609.1 L614.95 608.15 L615.27 607.2 L615.61 606.26 L615.95 605.33 L616.31 604.41 L616.68 603.49 L617.06 602.58 L617.45 601.68 L617.86 600.79 L618.28 599.91 L618.72 599.04 L619.17 598.18 L619.64 597.33 L620.12 596.49 L620.62 595.67 L621.14 594.86 L621.67 594.06 L622.23 593.27 L622.8 592.5 L623.4 591.75 L624.01 591.01 L624.65 590.29 L625.3 589.58 L625.98 588.9 L626.68 588.23 L627.4 587.57 L628.15 586.94 L628.91 586.32 L629.69 585.72 L630.49 585.13 L631.3 584.56 L632.13 584.01 L632.98 583.48 L633.84 582.96 L634.72 582.46 L635.61 581.98 L636.51 581.51 L637.42 581.06 L638.34 580.63 L639.27 580.21 L640.22 579.81 L641.17 579.42 L642.12 579.06 L643.09 578.7 L644.06 578.36 L645.03 578.04 L646.01 577.74 L646.99 577.45 L647.98 577.17 L648.96 576.91 L649.95 576.67 L650.94 576.44 L651.93 576.22 L652.92 576.02 L653.91 575.83 L654.9 575.66 L655.89 575.49 L656.88 575.34 L657.87 575.2 L658.86 575.06 L659.86 574.94 L660.85 574.82 L661.85 574.72 L662.84 574.62 L663.83 574.53 L664.83 574.44 L665.82 574.36 L666.82 574.28 L667.82 574.21 L668.81 574.14 L669.81 574.08 L670.8 574.02 L671.8 573.96 L672.8 573.9 L673.79 573.84 L674.79 573.79 L675.78 573.73 L676.78 573.67 L677.77 573.61 L678.77 573.55 L679.76 573.48 L680.76 573.41 L681.75 573.34 L682.74 573.26 L683.74 573.18 L684.73 573.09 L685.72 572.99 L686.71 572.89 L687.71 572.78 L688.7 572.66 L689.69 572.53 L690.68 572.39 L691.66 572.24 L692.65 572.08 L693.64 571.91 L694.62 571.73 L997.05 571.65"/>
<path class="cv" stroke="#ff0000" d="M595.85 989.35 L595.85 875 L595.88 874 L595.91 873 L595.94 872 L595.97 871 L596 870 L596.03 869 L596.06 868 L596.08 867 L596.11 866 L596.14 865 L596.16 864 L596.19 863 L596.22 862 L596.24 861 L596.26 860 L596.29 859 L596.31 858 L596.34 857 L596.36 856 L596.38 855 L596.41 854 L596.43 853 L596.45 852 L596.47 851 L596.49 850 L596.51 849 L596.54 848 L596.56 847 L596.58 846 L596.6 845 L596.62 844 L596.63 843 L596.65 842 L596.67 841 L596.69 840 L596.71 839 L596.73 838 L596.75 837 L596.76 836 L596.78 835 L596.8 834 L596.82 833 L596.83 832 L596.85 831 L596.87 830 L596.88 829 L596.9 828 L596.92 827 L596.93 826 L596.95 825 L596.96 824 L596.98 823 L597 822 L597.01 821 L597.03 820 L597.04 819 L597.06 817.99 L597.07 816.99 L597.09 815.99 L597.1 814.99 L597.12 813.99 L597.13 812.99 L597.15 811.99 L597.16 810.99 L597.18 809.99 L597.19 808.99 L597.21 807.99 L597.22 806.99 L597.24 805.99 L597.25 804.99 L597.27 803.99 L597.28 802.99 L597.3 801.99 L597.31 800.99 L597.33 799.99 L597.34 798.99 L597.36 797.99 L597.37 796.99 L597.39 795.99 L597.4 794.99 L597.42 793.99 L597.43 792.99 L597.45 791.99 L597.46 790.99 L597.48 789.99 L597.49 788.99 L597.51 787.99 L597.53 786.99 L597.54 785.99 L597.56 784.99 L597.58 783.99 L597.59 782.99 L597.61 781.99 L597.63 780.99 L597.64 779.99 L597.66 778.99 L597.68 777.99 L597.7 776.99 L597.72 776 L597.73 775 L597.75 774 L597.77 773 L597.79 772 L597.81 771 L597.83 770 L597.85 769 L597.87 768 L597.89 767 L597.91 766 L597.93 765 L597.95 764 L597.97 763 L597.99 762 L598.02 761 L598.04 760 L598.06 759.01 L598.09 758.01 L598.11 757.01 L598.13 756.01 L598.16 755.01 L598.18 754.01 L598.21 753.01 L598.23 752.01 L598.26 751.01 L598.28 750.02 L598.31 749.02 L598.34 748.02 L598.36 747.02 L598.39 746.02 L598.42 745.02 L598.45 744.02 L598.48 743.02 L598.51 742.03 L598.54 741.03 L598.57 740.03 L598.6 739.03 L598.63 738.03 L598.66 737.03 L598.69 736.04 L598.73 735.04 L598.76 734.04 L598.79 733.04 L598.83 732.04 L598.86 731.05 L598.9 730.05 L598.93 729.05 L598.97 728.05 L599.01 727.05 L599.04 726.06 L599.08 725.06 L599.12 724.06 L599.16 723.06 L599.2 722.07 L599.24 721.07 L599.28 720.07 L599.32 719.07 L599.37 718.08 L599.41 717.08 L599.45 716.08 L599.5 715.08 L599.54 714.09 L599.59 713.09 L599.63 712.09 L599.68 711.1 L599.73 710.1 L599.77 709.1 L599.82 708.11 L599.87 707.11 L599.91 706.11 L599.96 705.12 L600 704.12 L600.05 703.12 L600.09 702.13 L600.14 701.13 L600.18 700.13 L600.22 699.14 L600.27 698.14 L600.31 697.15 L600.35 696.15 L600.4 695.15 L600.44 694.16 L600.49 693.16 L600.53 692.17 L600.58 691.17 L600.63 690.18 L600.69 689.18 L600.74 688.18 L600.8 687.19 L600.86 686.19 L600.92 685.2 L600.99 684.2 L601.06 683.21 L601.13 682.21 L601.2 681.22 L601.28 680.22 L601.37 679.23 L601.45 678.23 L601.54 677.24 L601.64 676.24 L601.73 675.25 L601.83 674.25 L601.94 673.26 L602.04 672.27 L602.15 671.27 L602.27 670.28 L602.38 669.28 L602.5 668.29 L602.62 667.3 L602.74 666.3 L602.86 665.31 L602.99 664.31 L603.12 663.32 L603.25 662.33 L603.39 661.33 L603.52 660.34 L603.66 659.35 L603.8 658.35 L603.94 657.36 L604.08 656.37 L604.23 655.37 L604.37 654.38 L604.52 653.39 L604.67 652.4 L604.82 651.4 L604.97 650.41 L605.12 649.42 L605.27 648.43 L605.42 647.43 L605.57 646.44 L605.73 645.45 L605.88 644.46 L606.04 643.47 L606.19 642.47 L606.35 641.48 L606.51 640.49 L606.66 639.5 L606.82 638.51 L606.98 637.52 L607.15 636.53 L607.31 635.54 L607.48 634.55 L607.64 633.56 L607.82 632.57 L607.99 631.58 L608.17 630.59 L608.35 629.6 L608.53 628.62 L608.72 627.63 L608.91 626.64 L609.11 625.66 L609.31 624.67 L609.51 623.69 L609.72 622.71 L609.93 621.73 L610.15 620.74 L610.38 619.76 L610.61 618.79 L610.85 617.81 L611.09 616.83 L611.34 615.85 L611.6 614.88 L611.86 613.9 L612.13 612.93 L612.41 611.96 L612.7 610.99 L612.99 610.03 L613.3 609.07 L613.61 608.11 L613.94 607.16 L614.27 606.22 L614.62 605.28 L614.98 604.35 L615.35 603.42 L615.73 602.51 L616.12 601.6 L616.53 600.7 L616.96 599.81 L617.39 598.93 L617.85 598.06 L618.31 597.2 L618.8 596.35 L619.3 595.52 L619.81 594.7 L620.34 593.89 L620.89 593.09 L621.46 592.31 L622.05 591.54 L622.66 590.79 L623.28 590.06 L623.93 589.34 L624.59 588.64 L625.28 587.95 L625.99 587.29 L626.71 586.64 L627.46 586.01 L628.22 585.39 L629 584.8 L629.8 584.22 L630.61 583.66 L631.44 583.11 L632.29 582.58 L633.15 582.07 L634.02 581.58 L634.9 581.1 L635.8 580.63 L636.7 580.19 L637.62 579.76 L638.55 579.35 L639.48 578.95 L640.43 578.57 L641.38 578.2 L642.34 577.86 L643.3 577.52 L644.27 577.21 L645.25 576.9 L646.23 576.62 L647.21 576.35 L648.19 576.09 L649.18 575.85 L650.16 575.62 L651.15 575.41 L652.14 575.21 L653.14 575.03 L654.13 574.85 L655.12 574.69 L656.12 574.54 L657.12 574.4 L658.11 574.26 L659.11 574.14 L660.11 574.03 L661.11 573.92 L662.11 573.82 L663.11 573.73 L664.11 573.64 L665.12 573.56 L666.12 573.48 L667.12 573.4 L668.12 573.33 L669.12 573.26 L670.12 573.2 L671.12 573.13 L672.12 573.07 L673.12 573.01 L674.12 572.94 L675.11 572.88 L676.11 572.81 L677.1 572.74 L678.1 572.67 L679.09 572.6 L680.08 572.52 L681.07 572.44 L682.06 572.35 L683.04 572.25 L684.03 572.15 L685.01 572.04 L685.99 571.93 L686.97 571.8 L687.95 571.67 L997.05 571.65"/>
<path class="cv" stroke="#008000" d="M595.85 989.35 L595.85 893 L595.88 892 L595.92 891 L595.95 890 L595.98 889 L596.02 888 L596.05 887 L596.08 886 L596.11 885 L596.14 884 L596.17 883 L596.2 882 L596.23 881 L596.26 880 L596.29 879 L596.32 878.01 L596.34 877.01 L596.37 876.01 L596.4 875.01 L596.42 874.01 L596.45 873.01 L596.48 872.01 L596.5 871.01 L596.53 870.01 L596.55 869.01 L596.57 868.01 L596.6 867.01 L596.62 866.01 L596.64 865.01 L596.67 864.01 L596.69 863.01 L596.71 862.01 L596.73 861.01 L596.75 860.01 L596.77 859.01 L596.8 858 L596.82 857 L596.84 856 L596.86 855 L596.88 854 L596.9 853 L596.91 852 L596.93 851 L596.95 850 L596.97 849 L596.99 848 L597.01 847 L597.02 846 L597.04 845 L597.06 844 L597.08 843 L597.09 842 L597.11 841 L597.13 840 L597.14 839 L597.16 838 L597.17 837 L597.19 836 L597.21 835 L597.22 834 L597.24 833 L597.25 832 L597.27 831 L597.28 830 L597.3 829 L597.31 828 L597.33 827 L597.34 826 L597.36 825 L597.37 824 L597.39 823 L597.4 822 L597.41 821 L597.43 820 L597.44 819 L597.46 818 L597.47 817 L597.49 816 L597.5 815 L597.51 814 L597.53 813 L597.54 812 L597.56 811 L597.57 810 L597.59 809 L597.6 808 L597.61 807 L597.63 806 L597.64 805 L597.66 804 L597.67 803 L597.69 802 L597.7 801 L597.72 800 L597.73 799 L597.75 798 L597.76 797 L597.78 796 L597.79 795 L597.81 794 L597.82 793 L597.84 792 L597.85 791 L597.87 790 L597.89 789 L597.9 788 L597.92 787 L597.93 786 L597.95 785 L597.97 784 L597.98 783 L598 782 L598.02 781 L598.04 780 L598.06 779 L598.07 778 L598.09 777 L598.11 776 L598.13 775 L598.15 774 L598.17 773.01 L598.19 772.01 L598.21 771.01 L598.23 770.01 L598.25 769.01 L598.27 768.01 L598.29 767.01 L598.31 766.01 L598.33 765.01 L598.36 764.01 L598.38 763.01 L598.4 762.01 L598.42 761.01 L598.45 760.02 L598.47 759.02 L598.49 758.02 L598.52 757.02 L598.54 756.02 L598.57 755.02 L598.59 754.02 L598.62 753.02 L598.65 752.02 L598.67 751.03 L598.7 750.03 L598.73 749.03 L598.76 748.03 L598.79 747.03 L598.81 746.03 L598.84 745.03 L598.87 744.04 L598.9 743.04 L598.93 742.04 L598.96 741.04 L599 740.04 L599.03 739.04 L599.06 738.05 L599.09 737.05 L599.13 736.05 L599.16 735.05 L599.2 734.05 L599.23 733.05 L599.27 732.06 L599.3 731.06 L599.34 730.06 L599.38 729.06 L599.42 728.06 L599.45 727.07 L599.49 726.07 L599.53 725.07 L599.57 724.07 L599.61 723.08 L599.65 722.08 L599.7 721.08 L599.74 720.08 L599.78 719.09 L599.82 718.09 L599.87 717.09 L599.91 716.09 L599.95 715.1 L600 714.1 L600.04 713.1 L600.08 712.11 L600.12 711.11 L600.17 710.11 L600.21 709.11 L600.25 708.12 L600.29 707.12 L600.33 706.12 L600.37 705.13 L600.41 704.13 L600.45 703.13 L600.5 702.14 L600.54 701.14 L600.58 700.14 L600.63 699.15 L600.67 698.15 L600.72 697.16 L600.77 696.16 L600.82 695.16 L600.87 694.17 L600.93 693.17 L600.98 692.18 L601.04 691.18 L601.1 690.18 L601.17 689.19 L601.23 688.19 L601.3 687.2 L601.37 686.2 L601.44 685.2 L601.52 684.21 L601.6 683.21 L601.68 682.22 L601.76 681.22 L601.84 680.23 L601.93 679.23 L602.02 678.24 L602.11 677.24 L602.2 676.25 L602.3 675.25 L602.4 674.26 L602.5 673.26 L602.6 672.27 L602.7 671.27 L602.81 670.28 L602.92 669.28 L603.03 668.29 L603.15 667.3 L603.26 666.3 L603.38 665.31 L603.5 664.31 L603.62 663.32 L603.75 662.32 L603.87 661.33 L604 660.34 L604.13 659.34 L604.26 658.35 L604.4 657.36 L604.54 656.36 L604.68 655.37 L604.82 654.37 L604.96 653.38 L605.11 652.39 L605.26 651.39 L605.4 650.4 L605.56 649.41 L605.71 648.42 L605.87 647.42 L606.02 646.43 L606.18 645.44 L606.34 644.44 L606.51 643.45 L606.67 642.46 L606.84 641.47 L607 640.48 L607.17 639.49 L607.34 638.5 L607.5 637.51 L607.67 636.52 L607.84 635.53 L608.01 634.54 L608.18 633.55 L608.35 632.56 L608.53 631.57 L608.7 630.59 L608.88 629.6 L609.06 628.61 L609.24 627.63 L609.43 626.65 L609.62 625.66 L609.82 624.68 L610.02 623.7 L610.22 622.72 L610.43 621.74 L610.64 620.76 L610.86 619.78 L611.09 618.8 L611.33 617.82 L611.57 616.85 L611.82 615.87 L612.07 614.9 L612.34 613.93 L612.61 612.95 L612.9 611.99 L613.19 611.02 L613.49 610.06 L613.8 609.1 L614.13 608.15 L614.46 607.2 L614.81 606.26 L615.16 605.33 L615.53 604.4 L615.91 603.48 L616.31 602.57 L616.72 601.66 L617.14 600.77 L617.58 599.88 L618.03 599.01 L618.49 598.14 L618.97 597.29 L619.47 596.45 L619.98 595.62 L620.51 594.8 L621.06 594 L621.62 593.21 L622.2 592.43 L622.8 591.67 L623.41 590.93 L624.05 590.2 L624.7 589.49 L625.38 588.79 L626.07 588.11 L626.79 587.46 L627.52 586.81 L628.27 586.19 L629.03 585.58 L629.82 584.99 L630.61 584.42 L631.43 583.86 L632.26 583.32 L633.1 582.8 L633.96 582.29 L634.83 581.8 L635.71 581.33 L636.6 580.88 L637.5 580.44 L638.42 580.01 L639.34 579.6 L640.27 579.21 L641.21 578.84 L642.16 578.48 L643.12 578.14 L644.08 577.81 L645.05 577.5 L646.02 577.2 L646.99 576.92 L647.98 576.66 L648.96 576.41 L649.95 576.17 L650.94 575.95 L651.93 575.74 L652.92 575.55 L653.92 575.37 L654.92 575.2 L655.92 575.04 L656.92 574.89 L657.92 574.76 L658.93 574.63 L659.93 574.51 L660.94 574.4 L661.95 574.3 L662.96 574.2 L663.96 574.11 L664.97 574.03 L665.98 573.95 L666.99 573.87 L668 573.8 L669.01 573.74 L670.02 573.67 L671.03 573.61 L672.04 573.55 L673.04 573.49 L674.05 573.43 L675.05 573.37 L676.06 573.31 L677.06 573.25 L678.06 573.18 L679.05 573.11 L680.05 573.04 L681.04 572.97 L682.03 572.89 L683.02 572.8 L684.01 572.71 L684.99 572.61 L685.97 572.51 L686.95 572.4 L687.92 572.27 L688.89 572.14 L689.86 572.01 L690.82 571.86 L691.78 571.7 L997.05 571.65"/>
</g>
<path class="tick" d="M596.7 989.35 v6.2 M596.8 989.35 h-6.2 M676.75 989.35 v6.2 M596.8 905.8 h-6.2 M756.8 989.35 v6.2 M596.8 822 h-6.2 M836.85 989.35 v6.2 M596.8 738.5 h-6.2 M916.9 989.35 v6.2 M596.8 656.2 h-6.2 M996.95 989.35 v6.2 M596.8 572.6 h-6.2"/>
<rect class="sp" x="596.8" y="572.6" width="400.25" height="416.75"/>
<text class="tk" text-anchor="middle" transform="matrix(1 0 0 1.13 595.7 1016.75)">0.0</text>
<text class="tk" text-anchor="end" transform="matrix(1 0 0 1.13 584.4 997.05)">0.0</text>
<text class="tk" text-anchor="middle" transform="matrix(1 0 0 1.13 675.75 1016.75)">0.2</text>
<text class="tk" text-anchor="end" transform="matrix(1 0 0 1.13 584.4 914.04)">0.2</text>
<text class="tk" text-anchor="middle" transform="matrix(1 0 0 1.13 755.8 1016.75)">0.4</text>
<text class="tk" text-anchor="end" transform="matrix(1 0 0 1.13 584.4 831.03)">0.4</text>
<text class="tk" text-anchor="middle" transform="matrix(1 0 0 1.13 835.85 1016.75)">0.6</text>
<text class="tk" text-anchor="end" transform="matrix(1 0 0 1.13 584.4 748.02)">0.6</text>
<text class="tk" text-anchor="middle" transform="matrix(1 0 0 1.13 915.9 1016.75)">0.8</text>
<text class="tk" text-anchor="end" transform="matrix(1 0 0 1.13 584.4 664.01)">0.8</text>
<text class="tk" text-anchor="middle" transform="matrix(1 0 0 1.13 995.95 1016.75)">1.0</text>
<text class="tk" text-anchor="end" transform="matrix(1 0 0 1.13 584.4 580.4)">1.0</text>
<text class="tt" text-anchor="middle" transform="matrix(1 0 0 0.936 796.02 562.3)">CD3-HT</text>
<text class="lb" text-anchor="middle" transform="matrix(1 0 0 0.97 796.02 1046)">False Positive Rate (1 - Specificity)</text>
<text class="lby" text-anchor="middle" transform="matrix(0 -1 0.98 0 541.8 782.48)">True Positive Rate (Sensitivity)</text>
<g id="legend5">
<rect class="lf" x="656.75" y="580.9" width="332.1" height="79" rx="3.3" ry="3.3"/>
<path class="lh" stroke="#0000ff" d="M663.25 594.35 H695.75"/>
<text class="lg" transform="matrix(1 0 0 0.96 708.85 600.85)">'No CST': DC=None (AUC=0.984)</text>
<path class="lh" stroke="#ff0000" d="M663.25 619.05 H695.75"/>
<text class="lg" transform="matrix(1 0 0 0.96 708.85 625.4)">CST6: α=10,DC=2 (AUC=0.986)</text>
<path class="lh" stroke="#008000" d="M663.25 642.8 H695.75"/>
<text class="lg" transform="matrix(1 0 0 0.96 708.85 649.65)">DA1: DC=1 (AUC=0.985)</text>
</g>
</g>
<g id="panel6">
<g clip-path="url(#c5)">
<path class="cv" stroke="#0000ff" d="M1115.3 989.35 L1115.3 886 L1115.33 885 L1115.37 884 L1115.4 883 L1115.43 882 L1115.47 881 L1115.5 880 L1115.53 879 L1115.56 878 L1115.6 877 L1115.63 876 L1115.66 875 L1115.69 874 L1115.72 873 L1115.75 872 L1115.78 871 L1115.82 870 L1115.85 869 L1115.88 868 L1115.91 867 L1115.94 866 L1115.97 865 L1116 864 L1116.02 863 L1116.05 862 L1116.08 861 L1116.11 860 L1116.14 859 L1116.17 858 L1116.2 857 L1116.23 856 L1116.26 855 L1116.29 854 L1116.31 853 L1116.34 852 L1116.37 851 L1116.4 850 L1116.43 849 L1116.46 848 L1116.48 847 L1116.51 846 L1116.54 845 L1116.57 844 L1116.6 843 L1116.63 842 L1116.65 841 L1116.68 840 L1116.71 839 L1116.74 838 L1116.77 837 L1116.8 836 L1116.82 835 L1116.85 834 L1116.88 833 L1116.91 832 L1116.94 831 L1116.97 830 L1117 829 L1117.03 828 L1117.05 827 L1117.08 826 L1117.11 825 L1117.14 824 L1117.17 823 L1117.2 822 L1117.23 821 L1117.26 820 L1117.29 819 L1117.32 818 L1117.35 817 L1117.38 816 L1117.41 815 L1117.45 814 L1117.48 813 L1117.51 812 L1117.54 811 L1117.57 810 L1117.6 809 L1117.64 808 L1117.67 807 L1117.7 806 L1117.74 805 L1117.77 804 L1117.8 803 L1117.84 802 L1117.87 801 L1117.9 800 L1117.94 799.01 L1117.97 798.01 L1118.01 797.01 L1118.05 796.01 L1118.08 795.01 L1118.12 794.01 L1118.15 793.01 L1118.19 792.01 L1118.23 791.01 L1118.27 790.01 L1118.31 789.01 L1118.34 788.01 L1118.38 787.02 L1118.42 786.02 L1118.46 785.02 L1118.5 784.02 L1118.54 783.02 L1118.58 782.02 L1118.62 781.02 L1118.67 780.02 L1118.71 779.03 L1118.75 778.03 L1118.79 777.03 L1118.84 776.03 L1118.88 775.03 L1118.92 774.03 L1118.97 773.03 L1119.01 772.04 L1119.06 771.04 L1119.11 770.04 L1119.15 769.04 L1119.2 768.04 L1119.25 767.05 L1119.3 766.05 L1119.34 765.05 L1119.39 764.05 L1119.44 763.05 L1119.49 762.06 L1119.54 761.06 L1119.6 760.06 L1119.65 759.06 L1119.7 758.07 L1119.75 757.07 L1119.81 756.07 L1119.86 755.07 L1119.92 754.08 L1119.97 753.08 L1120.03 752.08 L1120.08 751.08 L1120.14 750.09 L1120.2 749.09 L1120.26 748.09 L1120.32 747.1 L1120.38 746.1 L1120.44 745.1 L1120.5 744.11 L1120.56 743.11 L1120.62 742.11 L1120.69 741.12 L1120.75 740.12 L1120.82 739.12 L1120.88 738.13 L1120.95 737.13 L1121.01 736.13 L1121.08 735.14 L1121.15 734.14 L1121.22 733.15 L1121.29 732.15 L1121.36 731.15 L1121.43 730.16 L1121.5 729.16 L1121.57 728.17 L1121.65 727.17 L1121.72 726.17 L1121.8 725.18 L1121.87 724.18 L1121.95 723.19 L1122.03 722.19 L1122.1 721.2 L1122.18 720.2 L1122.26 719.21 L1122.34 718.21 L1122.42 717.22 L1122.51 716.22 L1122.59 715.23 L1122.67 714.23 L1122.76 713.24 L1122.85 712.25 L1122.93 711.25 L1123.02 710.26 L1123.11 709.26 L1123.2 708.27 L1123.29 707.27 L1123.38 706.28 L1123.48 705.29 L1123.57 704.29 L1123.67 703.3 L1123.77 702.3 L1123.86 701.31 L1123.96 700.32 L1124.06 699.32 L1124.17 698.33 L1124.27 697.34 L1124.38 696.34 L1124.48 695.35 L1124.59 694.36 L1124.7 693.37 L1124.81 692.37 L1124.92 691.38 L1125.03 690.39 L1125.15 689.4 L1125.26 688.4 L1125.38 687.41 L1125.5 686.42 L1125.62 685.43 L1125.74 684.43 L1125.87 683.44 L1125.99 682.45 L1126.12 681.46 L1126.25 680.47 L1126.38 679.48 L1126.51 678.48 L1126.65 677.49 L1126.78 676.5 L1126.92 675.51 L1127.06 674.52 L1127.2 673.53 L1127.34 672.54 L1127.49 671.55 L1127.64 670.56 L1127.78 669.57 L1127.94 668.58 L1128.09 667.59 L1128.24 666.6 L1128.4 665.61 L1128.56 664.62 L1128.72 663.63 L1128.88 662.64 L1129.05 661.65 L1129.21 660.66 L1129.38 659.67 L1129.55 658.68 L1129.73 657.69 L1129.9 656.7 L1130.08 655.71 L1130.26 654.72 L1130.44 653.73 L1130.63 652.75 L1130.82 651.76 L1131.01 650.77 L1131.2 649.78 L1131.39 648.79 L1131.59 647.8 L1131.79 646.82 L1131.99 645.83 L1132.19 644.84 L1132.4 643.85 L1132.61 642.87 L1132.82 641.88 L1133.04 640.89 L1133.25 639.91 L1133.48 638.92 L1133.7 637.94 L1133.94 636.96 L1134.17 635.98 L1134.41 635 L1134.66 634.03 L1134.92 633.05 L1135.18 632.08 L1135.44 631.12 L1135.72 630.15 L1136 629.19 L1136.29 628.24 L1136.59 627.29 L1136.9 626.34 L1137.21 625.39 L1137.54 624.46 L1137.88 623.52 L1138.22 622.59 L1138.58 621.67 L1138.94 620.76 L1139.32 619.84 L1139.71 618.94 L1140.11 618.04 L1140.53 617.15 L1140.95 616.27 L1141.39 615.39 L1141.85 614.52 L1142.31 613.66 L1142.8 612.8 L1143.29 611.96 L1143.8 611.12 L1144.33 610.29 L1144.87 609.47 L1145.42 608.66 L1145.99 607.86 L1146.58 607.07 L1147.17 606.29 L1147.79 605.52 L1148.41 604.75 L1149.05 604 L1149.7 603.25 L1150.37 602.52 L1151.04 601.8 L1151.73 601.08 L1152.43 600.38 L1153.15 599.69 L1153.87 599.01 L1154.61 598.34 L1155.35 597.68 L1156.11 597.03 L1156.88 596.4 L1157.65 595.77 L1158.44 595.16 L1159.24 594.56 L1160.05 593.97 L1160.86 593.39 L1161.69 592.82 L1162.52 592.27 L1163.36 591.73 L1164.21 591.2 L1165.07 590.68 L1165.93 590.18 L1166.81 589.69 L1167.69 589.21 L1168.57 588.74 L1169.47 588.28 L1170.37 587.84 L1171.27 587.41 L1172.18 586.98 L1173.1 586.57 L1174.03 586.17 L1174.95 585.78 L1175.89 585.4 L1176.82 585.03 L1177.77 584.67 L1178.71 584.31 L1179.66 583.97 L1180.62 583.64 L1181.57 583.31 L1182.53 583 L1183.5 582.69 L1184.46 582.39 L1185.43 582.1 L1186.4 581.81 L1187.37 581.53 L1188.35 581.26 L1189.32 581 L1190.3 580.75 L1191.28 580.5 L1192.25 580.25 L1193.23 580.02 L1194.21 579.79 L1195.19 579.56 L1196.17 579.34 L1197.15 579.13 L1198.12 578.92 L1199.1 578.71 L1200.08 578.51 L1201.06 578.32 L1202.04 578.13 L1203.02 577.95 L1203.99 577.77 L1204.97 577.6 L1205.95 577.43 L1206.93 577.26 L1207.91 577.1 L1208.89 576.94 L1209.87 576.79 L1210.85 576.64 L1211.83 576.49 L1212.81 576.35 L1213.79 576.21 L1214.77 576.08 L1215.75 575.95 L1216.73 575.82 L1217.71 575.7 L1218.69 575.57 L1219.67 575.46 L1220.66 575.34 L1221.64 575.23 L1222.62 575.12 L1223.61 575.01 L1224.59 574.9 L1225.58 574.8 L1226.56 574.7 L1227.55 574.6 L1228.54 574.5 L1229.52 574.41 L1230.51 574.32 L1231.5 574.22 L1232.49 574.13 L1233.48 574.04 L1234.47 573.96 L1235.46 573.87 L1236.45 573.79 L1237.45 573.7 L1238.44 573.62 L1239.43 573.54 L1240.43 573.45 L1241.43 573.37 L1242.42 573.29 L1243.42 573.21 L1244.42 573.13 L1245.42 573.05 L1246.42 572.97 L1247.42 572.89 L1248.43 572.81 L1249.43 572.73 L1250.43 572.65 L1251.44 572.56 L1252.45 572.48 L1253.45 572.4 L1254.46 572.31 L1255.47 572.23 L1256.49 572.14 L1257.5 572.06 L1258.51 571.97 L1259.53 571.88 L1260.54 571.78 L1261.56 571.69 L1515.45 571.65"/>
<path class="cv" stroke="#ff0000" d="M1115.3 989.35 L1115.3 855 L1115.34 854.01 L1115.39 853.01 L1115.43 852.02 L1115.47 851.03 L1115.51 850.04 L1115.55 849.04 L1115.59 848.05 L1115.63 847.06 L1115.67 846.06 L1115.7 845.07 L1115.74 844.08 L1115.77 843.08 L1115.81 842.09 L1115.84 841.09 L1115.88 840.1 L1115.91 839.1 L1115.94 838.11 L1115.97 837.11 L1116 836.12 L1116.03 835.12 L1116.06 834.13 L1116.09 833.13 L1116.12 832.13 L1116.14 831.14 L1116.17 830.14 L1116.2 829.14 L1116.22 828.15 L1116.25 827.15 L1116.27 826.15 L1116.3 825.16 L1116.32 824.16 L1116.34 823.16 L1116.37 822.16 L1116.39 821.17 L1116.41 820.17 L1116.43 819.17 L1116.45 818.17 L1116.47 817.17 L1116.49 816.17 L1116.51 815.17 L1116.53 814.17 L1116.55 813.18 L1116.57 812.18 L1116.59 811.18 L1116.61 810.18 L1116.63 809.18 L1116.65 808.18 L1116.66 807.18 L1116.68 806.18 L1116.7 805.18 L1116.72 804.18 L1116.73 803.18 L1116.75 802.18 L1116.77 801.18 L1116.78 800.18 L1116.8 799.18 L1116.81 798.17 L1116.83 797.17 L1116.85 796.17 L1116.86 795.17 L1116.88 794.17 L1116.89 793.17 L1116.91 792.17 L1116.92 791.17 L1116.94 790.16 L1116.95 789.16 L1116.97 788.16 L1116.99 787.16 L1117 786.16 L1117.02 785.16 L1117.03 784.15 L1117.05 783.15 L1117.07 782.15 L1117.08 781.15 L1117.1 780.15 L1117.11 779.14 L1117.13 778.14 L1117.15 777.14 L1117.16 776.14 L1117.18 775.13 L1117.2 774.13 L1117.22 773.13 L1117.23 772.13 L1117.25 771.12 L1117.27 770.12 L1117.29 769.12 L1117.31 768.12 L1117.33 767.11 L1117.35 766.11 L1117.37 765.11 L1117.39 764.11 L1117.41 763.1 L1117.43 762.1 L1117.45 761.1 L1117.47 760.1 L1117.49 759.09 L1117.51 758.09 L1117.54 757.09 L1117.56 756.09 L1117.58 755.08 L1117.61 754.08 L1117.63 753.08 L1117.66 752.08 L1117.69 751.07 L1117.71 750.07 L1117.74 749.07 L1117.77 748.07 L1117.79 747.06 L1117.82 746.06 L1117.85 745.06 L1117.88 744.06 L1117.91 743.05 L1117.94 742.05 L1117.98 741.05 L1118.01 740.05 L1118.04 739.04 L1118.08 738.04 L1118.11 737.04 L1118.15 736.04 L1118.18 735.04 L1118.22 734.04 L1118.26 733.03 L1118.3 732.03 L1118.34 731.03 L1118.38 730.03 L1118.42 729.03 L1118.46 728.03 L1118.5 727.02 L1118.55 726.02 L1118.59 725.02 L1118.64 724.02 L1118.68 723.02 L1118.73 722.02 L1118.78 721.02 L1118.83 720.02 L1118.88 719.02 L1118.93 718.02 L1118.98 717.02 L1119.03 716.02 L1119.09 715.02 L1119.14 714.02 L1119.2 713.02 L1119.26 712.02 L1119.31 711.02 L1119.37 710.02 L1119.43 709.02 L1119.5 708.02 L1119.56 707.02 L1119.62 706.02 L1119.69 705.02 L1119.75 704.02 L1119.82 703.02 L1119.89 702.02 L1119.96 701.03 L1120.03 700.03 L1120.1 699.03 L1120.18 698.03 L1120.25 697.03 L1120.33 696.04 L1120.41 695.04 L1120.49 694.04 L1120.57 693.04 L1120.65 692.05 L1120.73 691.05 L1120.82 690.05 L1120.9 689.06 L1120.99 688.06 L1121.08 687.06 L1121.16 686.07 L1121.26 685.07 L1121.35 684.08 L1121.44 683.08 L1121.53 682.09 L1121.63 681.09 L1121.73 680.1 L1121.82 679.1 L1121.92 678.11 L1122.02 677.11 L1122.12 676.12 L1122.22 675.12 L1122.33 674.13 L1122.43 673.14 L1122.54 672.14 L1122.64 671.15 L1122.75 670.16 L1122.86 669.17 L1122.96 668.17 L1123.07 667.18 L1123.18 666.19 L1123.29 665.2 L1123.41 664.21 L1123.52 663.22 L1123.63 662.22 L1123.74 661.23 L1123.86 660.24 L1123.97 659.25 L1124.09 658.26 L1124.21 657.27 L1124.32 656.28 L1124.44 655.29 L1124.56 654.31 L1124.68 653.32 L1124.8 652.33 L1124.92 651.34 L1125.04 650.35 L1125.16 649.36 L1125.28 648.38 L1125.41 647.39 L1125.53 646.4 L1125.65 645.42 L1125.78 644.43 L1125.91 643.44 L1126.04 642.46 L1126.18 641.47 L1126.31 640.49 L1126.45 639.5 L1126.6 638.52 L1126.75 637.54 L1126.9 636.55 L1127.06 635.57 L1127.22 634.58 L1127.39 633.6 L1127.56 632.62 L1127.74 631.64 L1127.92 630.65 L1128.11 629.67 L1128.31 628.69 L1128.52 627.71 L1128.73 626.73 L1128.95 625.75 L1129.18 624.77 L1129.42 623.79 L1129.66 622.81 L1129.92 621.83 L1130.18 620.86 L1130.45 619.88 L1130.74 618.91 L1131.03 617.94 L1131.33 616.97 L1131.65 616.01 L1131.97 615.06 L1132.31 614.1 L1132.66 613.15 L1133.02 612.21 L1133.39 611.28 L1133.77 610.35 L1134.17 609.43 L1134.58 608.51 L1135 607.61 L1135.44 606.71 L1135.89 605.82 L1136.36 604.94 L1136.84 604.07 L1137.33 603.21 L1137.84 602.36 L1138.36 601.52 L1138.9 600.7 L1139.46 599.88 L1140.03 599.08 L1140.62 598.3 L1141.23 597.52 L1141.85 596.76 L1142.49 596.02 L1143.15 595.28 L1143.82 594.57 L1144.51 593.87 L1145.22 593.18 L1145.94 592.51 L1146.68 591.85 L1147.44 591.21 L1148.2 590.58 L1148.98 589.97 L1149.78 589.37 L1150.58 588.79 L1151.4 588.22 L1152.23 587.66 L1153.07 587.12 L1153.92 586.6 L1154.78 586.08 L1155.64 585.58 L1156.52 585.1 L1157.4 584.63 L1158.29 584.17 L1159.19 583.73 L1160.09 583.29 L1161 582.88 L1161.92 582.47 L1162.83 582.08 L1163.76 581.71 L1164.68 581.34 L1165.61 580.99 L1166.55 580.65 L1167.49 580.32 L1168.43 580 L1169.38 579.7 L1170.33 579.41 L1171.28 579.12 L1172.24 578.85 L1173.2 578.59 L1174.16 578.34 L1175.13 578.1 L1176.1 577.87 L1177.08 577.65 L1178.05 577.44 L1179.03 577.24 L1180.01 577.05 L1181 576.86 L1181.99 576.69 L1182.98 576.52 L1183.97 576.36 L1184.97 576.21 L1185.96 576.06 L1186.96 575.93 L1187.96 575.8 L1188.97 575.67 L1189.97 575.56 L1190.98 575.45 L1191.98 575.35 L1192.99 575.25 L1194.01 575.15 L1195.02 575.07 L1196.03 574.99 L1197.05 574.91 L1198.06 574.84 L1199.08 574.77 L1200.1 574.71 L1201.11 574.65 L1202.13 574.59 L1203.15 574.54 L1204.17 574.49 L1205.19 574.44 L1206.21 574.4 L1207.24 574.36 L1208.26 574.32 L1209.28 574.29 L1210.3 574.25 L1211.32 574.22 L1212.34 574.19 L1213.36 574.16 L1214.38 574.13 L1215.4 574.1 L1216.41 574.07 L1217.43 574.04 L1218.45 574.01 L1219.46 573.99 L1220.48 573.96 L1221.49 573.93 L1222.5 573.9 L1223.51 573.86 L1224.52 573.83 L1225.53 573.8 L1226.54 573.76 L1227.54 573.72 L1228.54 573.68 L1229.54 573.63 L1230.54 573.59 L1231.54 573.54 L1232.53 573.48 L1233.52 573.42 L1234.51 573.36 L1235.5 573.3 L1236.48 573.23 L1237.46 573.15 L1238.44 573.07 L1239.42 572.99 L1240.39 572.9 L1241.36 572.8 L1242.32 572.7 L1243.29 572.6 L1244.25 572.48 L1245.2 572.36 L1246.15 572.24 L1247.1 572.1 L1248.05 571.96 L1248.99 571.82 L1249.93 571.66 L1515.45 571.65"/>
<path class="cv" stroke="#008000" d="M1115.3 989.35 L1115.3 882 L1115.34 881 L1115.38 880 L1115.42 879 L1115.45 878 L1115.49 877 L1115.53 876 L1115.57 875 L1115.6 874 L1115.64 873 L1115.68 872 L1115.71 871 L1115.75 870 L1115.78 869 L1115.82 868 L1115.85 867 L1115.89 866 L1115.92 864.99 L1115.95 863.99 L1115.99 862.99 L1116.02 861.99 L1116.05 860.99 L1116.08 859.99 L1116.11 858.99 L1116.15 857.99 L1116.18 856.99 L1116.21 855.99 L1116.24 854.99 L1116.27 853.99 L1116.3 852.99 L1116.33 851.99 L1116.36 850.99 L1116.39 849.99 L1116.42 848.99 L1116.44 847.99 L1116.47 846.99 L1116.5 845.99 L1116.53 844.99 L1116.56 843.99 L1116.59 842.99 L1116.61 841.99 L1116.64 840.99 L1116.67 839.99 L1116.69 838.99 L1116.72 837.99 L1116.75 836.99 L1116.77 835.99 L1116.8 834.99 L1116.83 833.99 L1116.85 832.99 L1116.88 831.99 L1116.9 830.99 L1116.93 829.99 L1116.96 828.99 L1116.98 827.99 L1117.01 826.98 L1117.03 825.98 L1117.06 824.98 L1117.08 823.98 L1117.11 822.98 L1117.13 821.99 L1117.16 820.99 L1117.19 819.99 L1117.21 818.99 L1117.24 817.99 L1117.26 816.99 L1117.29 815.99 L1117.31 814.99 L1117.34 813.99 L1117.36 812.99 L1117.39 811.99 L1117.41 810.99 L1117.44 809.99 L1117.46 808.99 L1117.49 807.99 L1117.51 806.99 L1117.54 805.99 L1117.56 804.99 L1117.59 803.99 L1117.62 802.99 L1117.64 801.99 L1117.67 800.99 L1117.69 799.99 L1117.72 798.99 L1117.75 797.99 L1117.77 796.99 L1117.8 795.99 L1117.83 794.99 L1117.85 793.99 L1117.88 793 L1117.91 792 L1117.94 791 L1117.96 790 L1117.99 789 L1118.02 788 L1118.05 787 L1118.08 786 L1118.1 785 L1118.13 784 L1118.16 783 L1118.19 782 L1118.22 781.01 L1118.25 780.01 L1118.28 779.01 L1118.31 778.01 L1118.34 777.01 L1118.37 776.01 L1118.41 775.01 L1118.44 774.01 L1118.47 773.02 L1118.5 772.02 L1118.53 771.02 L1118.57 770.02 L1118.6 769.02 L1118.63 768.02 L1118.67 767.02 L1118.7 766.03 L1118.74 765.03 L1118.77 764.03 L1118.81 763.03 L1118.84 762.03 L1118.88 761.03 L1118.92 760.04 L1118.95 759.04 L1118.99 758.04 L1119.03 757.04 L1119.07 756.04 L1119.1 755.05 L1119.14 754.05 L1119.18 753.05 L1119.22 752.05 L1119.26 751.05 L1119.3 750.06 L1119.35 749.06 L1119.39 748.06 L1119.43 747.06 L1119.47 746.07 L1119.52 745.07 L1119.56 744.07 L1119.61 743.07 L1119.65 742.07 L1119.7 741.08 L1119.74 740.08 L1119.79 739.08 L1119.84 738.09 L1119.88 737.09 L1119.93 736.09 L1119.98 735.09 L1120.03 734.1 L1120.08 733.1 L1120.13 732.1 L1120.18 731.11 L1120.23 730.11 L1120.29 729.11 L1120.34 728.12 L1120.39 727.12 L1120.45 726.12 L1120.5 725.13 L1120.56 724.13 L1120.62 723.13 L1120.67 722.14 L1120.73 721.14 L1120.79 720.14 L1120.85 719.15 L1120.91 718.15 L1120.97 717.15 L1121.03 716.16 L1121.09 715.16 L1121.15 714.17 L1121.22 713.17 L1121.28 712.17 L1121.35 711.18 L1121.41 710.18 L1121.48 709.19 L1121.55 708.19 L1121.62 707.19 L1121.69 706.2 L1121.76 705.2 L1121.83 704.21 L1121.9 703.21 L1121.97 702.22 L1122.05 701.22 L1122.12 700.23 L1122.2 699.23 L1122.28 698.24 L1122.36 697.24 L1122.44 696.25 L1122.52 695.25 L1122.6 694.26 L1122.69 693.26 L1122.77 692.27 L1122.86 691.27 L1122.95 690.28 L1123.04 689.28 L1123.13 688.29 L1123.22 687.29 L1123.31 686.3 L1123.41 685.3 L1123.51 684.31 L1123.61 683.32 L1123.71 682.32 L1123.81 681.33 L1123.91 680.33 L1124.02 679.34 L1124.13 678.35 L1124.23 677.35 L1124.35 676.36 L1124.46 675.36 L1124.57 674.37 L1124.69 673.38 L1124.81 672.38 L1124.93 671.39 L1125.05 670.4 L1125.17 669.4 L1125.3 668.41 L1125.43 667.42 L1125.56 666.42 L1125.69 665.43 L1125.83 664.44 L1125.96 663.45 L1126.1 662.45 L1126.24 661.46 L1126.39 660.47 L1126.53 659.47 L1126.68 658.48 L1126.83 657.49 L1126.98 656.5 L1127.14 655.5 L1127.3 654.51 L1127.46 653.52 L1127.62 652.53 L1127.79 651.54 L1127.95 650.54 L1128.12 649.55 L1128.3 648.56 L1128.47 647.57 L1128.65 646.58 L1128.83 645.59 L1129.01 644.59 L1129.2 643.6 L1129.39 642.61 L1129.58 641.62 L1129.78 640.63 L1129.97 639.64 L1130.17 638.65 L1130.38 637.66 L1130.58 636.67 L1130.8 635.68 L1131.01 634.69 L1131.23 633.7 L1131.45 632.71 L1131.68 631.73 L1131.91 630.75 L1132.15 629.77 L1132.4 628.79 L1132.65 627.81 L1132.91 626.84 L1133.18 625.87 L1133.45 624.9 L1133.73 623.94 L1134.02 622.98 L1134.31 622.03 L1134.62 621.08 L1134.94 620.13 L1135.26 619.19 L1135.59 618.25 L1135.94 617.32 L1136.29 616.4 L1136.66 615.48 L1137.03 614.57 L1137.42 613.66 L1137.82 612.76 L1138.23 611.86 L1138.65 610.98 L1139.09 610.1 L1139.54 609.23 L1140 608.36 L1140.47 607.51 L1140.96 606.66 L1141.47 605.82 L1141.99 604.99 L1142.52 604.17 L1143.07 603.36 L1143.63 602.56 L1144.21 601.77 L1144.81 600.98 L1145.42 600.21 L1146.05 599.45 L1146.69 598.7 L1147.35 597.96 L1148.02 597.24 L1148.7 596.52 L1149.4 595.82 L1150.11 595.13 L1150.83 594.46 L1151.57 593.79 L1152.32 593.15 L1153.08 592.51 L1153.85 591.89 L1154.63 591.28 L1155.42 590.69 L1156.23 590.11 L1157.04 589.55 L1157.87 589 L1158.7 588.46 L1159.55 587.94 L1160.4 587.43 L1161.26 586.93 L1162.13 586.45 L1163.01 585.98 L1163.9 585.52 L1164.79 585.07 L1165.7 584.64 L1166.61 584.22 L1167.52 583.82 L1168.44 583.42 L1169.37 583.04 L1170.31 582.67 L1171.25 582.31 L1172.19 581.96 L1173.14 581.62 L1174.1 581.29 L1175.06 580.98 L1176.02 580.67 L1176.99 580.38 L1177.96 580.09 L1178.94 579.81 L1179.92 579.55 L1180.9 579.29 L1181.89 579.04 L1182.88 578.8 L1183.87 578.57 L1184.86 578.35 L1185.85 578.14 L1186.85 577.93 L1187.84 577.74 L1188.84 577.55 L1189.84 577.37 L1190.83 577.19 L1191.83 577.02 L1192.83 576.86 L1193.83 576.71 L1194.82 576.56 L1195.82 576.42 L1196.81 576.29 L1197.81 576.16 L1198.8 576.04 L1199.79 575.92 L1200.78 575.81 L1201.77 575.7 L1202.76 575.6 L1203.75 575.5 L1204.74 575.4 L1205.73 575.31 L1206.72 575.23 L1207.71 575.15 L1208.7 575.07 L1209.68 575 L1210.67 574.93 L1211.66 574.86 L1212.65 574.79 L1213.63 574.73 L1214.62 574.67 L1215.61 574.61 L1216.59 574.55 L1217.58 574.5 L1218.57 574.45 L1219.55 574.4 L1220.54 574.35 L1221.53 574.3 L1222.51 574.25 L1223.5 574.2 L1224.49 574.15 L1225.48 574.11 L1226.47 574.06 L1227.46 574.01 L1228.45 573.96 L1229.44 573.91 L1230.43 573.86 L1231.42 573.81 L1232.41 573.76 L1233.4 573.7 L1234.4 573.65 L1235.39 573.59 L1236.39 573.53 L1237.38 573.47 L1238.38 573.41 L1239.38 573.34 L1240.37 573.27 L1241.37 573.19 L1242.37 573.12 L1243.38 573.04 L1244.38 572.95 L1245.38 572.87 L1246.39 572.77 L1247.39 572.68 L1248.4 572.57 L1249.41 572.47 L1250.42 572.36 L1251.43 572.24 L1252.45 572.12 L1253.46 571.99 L1254.48 571.86 L1255.5 571.72 L1515.45 571.65"/>
</g>
<path class="tick" d="M1116.55 989.35 v6.2 M1116.25 989.35 h-6.2 M1196.39 989.35 v6.2 M1116.25 905.8 h-6.2 M1276.23 989.35 v6.2 M1116.25 822 h-6.2 M1356.07 989.35 v6.2 M1116.25 738.5 h-6.2 M1435.91 989.35 v6.2 M1116.25 656.2 h-6.2 M1515.75 989.35 v6.2 M1116.25 572.6 h-6.2"/>
<rect class="sp" x="1116.25" y="572.6" width="399.2" height="416.75"/>
<text class="tk" text-anchor="middle" transform="matrix(1 0 0 1.13 1115.55 1016.75)">0.0</text>
<text class="tk" text-anchor="end" transform="matrix(1 0 0 1.13 1103.05 997.05)">0.0</text>
<text class="tk" text-anchor="middle" transform="matrix(1 0 0 1.13 1195.39 1016.75)">0.2</text>
<text class="tk" text-anchor="end" transform="matrix(1 0 0 1.13 1103.05 914.04)">0.2</text>
<text class="tk" text-anchor="middle" transform="matrix(1 0 0 1.13 1275.23 1016.75)">0.4</text>
<text class="tk" text-anchor="end" transform="matrix(1 0 0 1.13 1103.05 831.03)">0.4</text>
<text class="tk" text-anchor="middle" transform="matrix(1 0 0 1.13 1355.07 1016.75)">0.6</text>
<text class="tk" text-anchor="end" transform="matrix(1 0 0 1.13 1103.05 748.02)">0.6</text>
<text class="tk" text-anchor="middle" transform="matrix(1 0 0 1.13 1434.91 1016.75)">0.8</text>
<text class="tk" text-anchor="end" transform="matrix(1 0 0 1.13 1103.05 664.01)">0.8</text>
<text class="tk" text-anchor="middle" transform="matrix(1 0 0 1.13 1514.75 1016.75)">1.0</text>
<text class="tk" text-anchor="end" transform="matrix(1 0 0 1.13 1103.05 580.4)">1.0</text>
<text class="tt" text-anchor="middle" transform="matrix(1 0 0 0.936 1314.95 562.3)">CD8-HT</text>
<text class="lb" text-anchor="middle" transform="matrix(1 0 0 0.97 1315.75 1046)">False Positive Rate (1 - Specificity)</text>
<text class="lby" text-anchor="middle" transform="matrix(0 -1 0.98 0 1060.65 782.48)">True Positive Rate (Sensitivity)</text>
<g id="legend6">
<rect class="lf" x="1124.45" y="902.05" width="331" height="79" rx="3.3" ry="3.3"/>
<path class="lh" stroke="#0000ff" d="M1130.75 914.6 H1162.45"/>
<text class="lg" transform="matrix(1 0 0 0.96 1176.45 921.85)">'No CST': DC=None (AUC=0.974)</text>
<path class="lh" stroke="#ff0000" d="M1130.75 939.25 H1162.45"/>
<text class="lg" transform="matrix(1 0 0 0.96 1176.45 946.5)">CST6: α=10,DC=2 (AUC=0.983)</text>
<path class="lh" stroke="#008000" d="M1130.75 963.9 H1162.45"/>
<text class="lg" transform="matrix(1 0 0 0.96 1176.45 971.15)">DA1: DC=1 (AUC=0.978)</text>
</g>
</g>
</svg>
</body></html>
